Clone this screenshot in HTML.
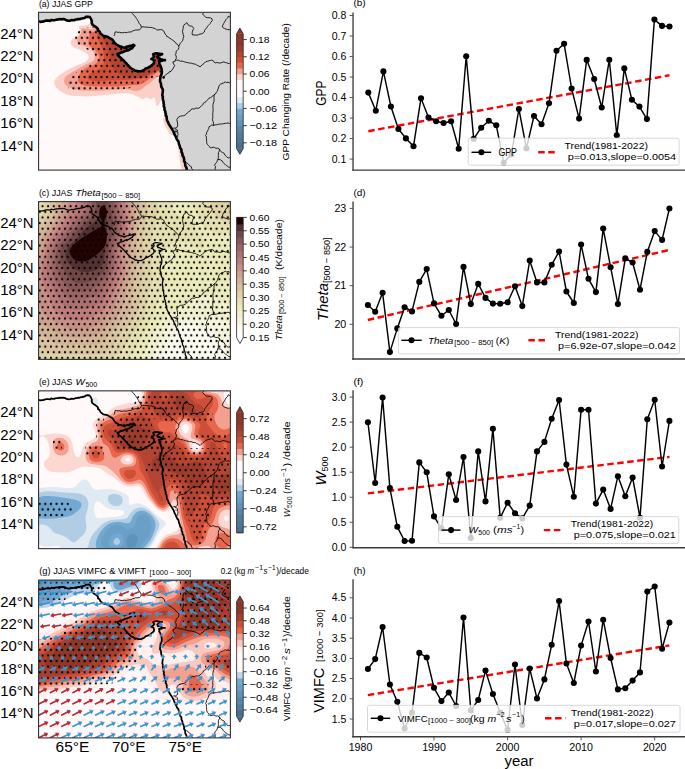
<!DOCTYPE html><html><head><meta charset="utf-8"><style>html,body{margin:0;padding:0;background:#fff;}svg{display:block;}</style></head><body><svg width="685" height="769" viewBox="0 0 685 769" font-family='"Liberation Sans", sans-serif'><defs><clipPath id="m0"><rect x="38.57" y="12.3" width="191.83" height="157.8"/></clipPath><clipPath id="m1"><rect x="38.57" y="201.6" width="191.83" height="157.8"/></clipPath><clipPath id="m2"><rect x="38.57" y="390.85" width="191.83" height="157.8"/></clipPath><clipPath id="m3"><rect x="38.57" y="580.1" width="191.83" height="157.8"/></clipPath><pattern id="dots" patternUnits="userSpaceOnUse" x="98.652" y="40.583" width="5.615" height="11.23"><circle cx="2.808" cy="2.808" r="1.12"/><circle cx="0" cy="8.422" r="1.12"/><circle cx="5.615" cy="8.422" r="1.12"/></pattern><clipPath id="sa"><path d="M82,29.5C77.7,30.8 75,33.7 74,36C73,38.3 73.7,41.2 76,43.5C78.3,45.8 85,48.1 88,50C91,51.9 92.8,53.2 94,55C95.2,56.8 96.2,59.1 95,61C93.8,62.9 90,64.7 87,66.5C84,68.3 79.9,70 77,72C74.1,74 70.9,76.3 69.5,78.5C68.1,80.7 68.1,83.1 68.5,85C68.9,86.9 66.8,89 72,89.8C77.2,90.5 90.7,89.7 100,89.5C109.3,89.3 121.2,89.6 128,88.5C134.8,87.4 137,84.8 141,83C145,81.2 148.7,79.8 152,78C155.3,76.2 161.3,77.5 161,72C160.7,66.5 160.2,52.3 150,45C139.8,37.7 111.3,30.6 100,28C88.7,25.4 86.3,28.2 82,29.5Z"/></clipPath></defs><rect width="685" height="769" fill="#fff"/><g clip-path="url(#m0)"><rect x="38.57" y="12.3" width="191.83" height="157.8" fill="#fffaf9"/><path d="M79.1,26.2C78,27.1 79.9,28.8 79.6,30.4C79.2,32 78.3,34 77,35.6C75.7,37.2 72.8,38.4 71.8,39.8C70.8,41.2 70.4,42.6 70.8,43.9C71.2,45.2 72.2,46.5 73.9,47.6C75.6,48.7 79,49.1 81.2,50.2C83.5,51.3 86.2,52.9 87.4,54.3C88.6,55.7 89,57.1 88.5,58.5C88,59.9 86.4,61.4 84.3,62.6C82.2,63.8 79.1,64.4 76,65.8C72.9,67.2 68.7,69.1 65.6,71C62.5,72.9 59.2,75.3 57.3,77.2C55.4,79.1 54.2,80.5 54.2,82.4C54.2,84.3 55.4,86.7 57.3,88.6C59.2,90.5 62.5,92.7 65.6,93.9C68.7,95.1 71.7,95.5 76,95.9C80.3,96.3 86.4,96.5 91.6,96.3C96.8,96.1 102.5,95.3 107.2,94.8C111.9,94.3 116.5,93.7 120,93.5C123.5,93.3 125.8,93.3 128,93.5C130.2,93.7 131.4,94 133,94.5C134.6,95 135.7,95.7 137.3,96.5C138.9,97.3 141.3,99 142.8,99.2C144.3,99.4 145,97.6 146.4,97.6C147.8,97.6 149.6,99.2 151,99.2C152.4,99.2 153.7,96.7 154.6,97.8C155.5,98.9 155.6,104.6 156.4,105.6C157.2,106.6 158.1,105.1 159.2,103.8C160.3,102.5 159.9,102 163,98C166.1,94 176,91.3 178,80C180,68.7 184.7,39.7 175,30C165.3,20.3 133.3,23.3 120,22C106.7,20.7 100.6,21.5 95,22C89.4,22.5 89.1,24.5 86.4,25.2C83.8,25.9 80.2,25.3 79.1,26.2Z" fill="#fbd0c8"/><path d="M164.2,116C163.5,116.7 163.2,119.9 163.6,122C164,124.1 165.3,126.4 166.5,128.5C167.7,130.6 169.1,133.6 170.5,134.5C171.9,135.4 175.4,136.8 175,134C174.6,131.2 169.8,121 168,118C166.2,115 164.9,115.3 164.2,116Z" fill="#fbd0c8"/><path d="M178.6,147C178,147.8 178.8,153.8 179.2,157C179.6,160.2 180.4,163.7 181,166C181.6,168.3 181.8,170.2 183,171C184.2,171.8 188,174.2 188,171C188,167.8 184.6,156 183,152C181.4,148 179.2,146.2 178.6,147Z" fill="#fbd0c8"/><path d="M82.2,28.3C80.3,28.8 81.9,30.9 81.2,32.5C80.5,34.1 78.8,36.2 78.1,37.7C77.4,39.2 76.5,40.6 77,41.8C77.5,43 79.1,44 81.2,45C83.3,46 87.4,46.9 89.5,48.1C91.6,49.3 92.8,50.7 93.7,52.2C94.6,53.8 94.9,55.8 94.7,57.4C94.5,59 94.1,60.4 92.6,61.6C91,62.8 88.2,63.3 85.4,64.7C82.6,66.1 79,68.2 76,69.9C73,71.6 69.7,73.4 67.7,75.1C65.7,76.8 64.2,78.6 64,80.3C63.8,82 64.6,83.9 66.6,85.5C68.6,87.1 71.8,88.8 76,89.7C80.2,90.6 86.4,90.6 91.6,90.7C96.8,90.8 102.5,90.4 107.2,90.2C111.9,90 116.5,89.7 120,89.5C123.5,89.3 125.6,89 128.2,89.2C130.8,89.5 133.4,90.9 135.5,91C137.6,91.1 139.5,90.4 141,89.6C142.5,88.8 143.1,87.5 144.6,86.4C146.1,85.3 148.3,84.2 150.1,82.8C151.9,81.4 153.8,79.7 155.5,78.3C157.2,76.9 156.2,77.6 160,74.6C163.8,71.5 179.7,67.8 178,60C176.3,52.2 161.3,34 150,28C138.7,22 119,24.2 110,24C101,23.8 98.9,26.1 96,27C93.1,27.9 94.9,29.2 92.6,29.4C90.3,29.6 84.1,27.8 82.2,28.3Z" fill="#f4a090"/><path d="M89.5,32.5C88.5,33.4 89.7,34.7 89.5,36.6C89.3,38.5 87.8,41.8 88.5,43.9C89.2,46 92.2,47.5 93.7,49.1C95.2,50.7 96.9,51.6 97.8,53.3C98.7,55 99.6,57.6 98.9,59.5C98.2,61.4 96.1,63.1 93.7,64.7C91.3,66.3 86.7,67.2 84.3,68.9C81.9,70.6 80.1,73 79.1,75.1C78.1,77.2 77.2,79.7 78.1,81.4C79,83.1 81.2,84.6 84.3,85.5C87.4,86.4 92.1,86.4 96.8,86.6C101.5,86.8 108.5,86.7 112.4,86.6C116.3,86.5 117.4,86.4 120,86.2C122.6,86 124.9,85.8 128.2,85.5C131.5,85.2 137,85.3 140,84.6C143,83.8 144.4,82.4 146.4,81C148.4,79.6 150.1,77.9 151.9,76.4C153.7,74.9 155.7,73.1 157.4,71.9C159.1,70.7 159.1,71.8 162,69C164.9,66.2 178.7,61.8 175,55C171.3,48.2 152.5,32.8 140,28C127.5,23.2 107.4,25.4 100,26C92.6,26.6 97.5,30.3 95.8,31.4C94,32.5 90.5,31.6 89.5,32.5Z" fill="#e8674c"/><path d="M96.8,35.6C96.2,38.1 99.3,41.8 100.5,45C101.7,48.2 103.8,51.4 104,55C104.2,58.6 104.4,63.6 102,66.8C99.6,70 91.8,72 89.5,74.1C87.2,76.2 87.3,78.1 88.5,79.3C89.7,80.5 93.2,81.2 96.8,81.4C100.4,81.6 104.8,80.7 110,80.5C115.2,80.3 122.9,80.4 128.2,80C133.5,79.6 138.1,79.3 141.9,78.3C145.7,77.2 148.3,75.1 151,73.7C153.7,72.3 155.1,73.1 158.3,70C161.5,66.9 173.1,61.7 170,55C166.9,48.3 151,34.2 140,30C129,25.8 111.2,29.1 104,30C96.8,30.9 97.4,33.1 96.8,35.6Z" fill="#cd4f38"/><path d="M104,38C102,39.3 107,46.3 108,50C109,53.7 109.2,57 110,60C110.8,63 111.3,65.6 113,68C114.7,70.4 116.8,72.9 120,74.5C123.2,76.1 127.8,77.2 132,77.5C136.2,77.8 141.2,77 145,76C148.8,75 152.5,72.8 155,71.5C157.5,70.2 160.8,70.8 160,68C159.2,65.2 156.7,59.3 150,55C143.3,50.7 127.7,44.8 120,42C112.3,39.2 106,36.7 104,38Z" fill="#b54533"/>
<path d="M82,29.5C77.7,30.8 75,33.7 74,36C73,38.3 73.7,41.2 76,43.5C78.3,45.8 85,48.1 88,50C91,51.9 92.8,53.2 94,55C95.2,56.8 96.2,59.1 95,61C93.8,62.9 90,64.7 87,66.5C84,68.3 79.9,70 77,72C74.1,74 70.9,76.3 69.5,78.5C68.1,80.7 68.1,83.1 68.5,85C68.9,86.9 66.8,89 72,89.8C77.2,90.5 90.7,89.7 100,89.5C109.3,89.3 121.2,89.6 128,88.5C134.8,87.4 137,84.8 141,83C145,81.2 148.7,79.8 152,78C155.3,76.2 161.3,77.5 161,72C160.7,66.5 160.2,52.3 150,45C139.8,37.7 111.3,30.6 100,28C88.7,25.4 86.3,28.2 82,29.5Z" fill="url(#dots)"/>
<path transform="translate(0,0.00)" d="M38,21.4 L42.1,21.8 L44.5,21 L46.2,20.7 L48.5,20.9 L51.3,20.2 L55.4,20 L58.5,19.2 L62.6,19 L64.5,19.6 L66.7,20.2 L68.7,21 L71.8,20.2 L74.5,19.9 L76.9,19.4 L79.5,19.3 L82,18.7 L84.5,18 L86.1,17.2 L88,16.9 L89.6,17.4 L91.2,18.7 L91.7,21.2 L92.2,24.8 L95.3,26.4 L97.3,27.9 L98.3,30.4 L99.1,31.1 L100.4,33.5 L102.2,35.2 L103.4,35.5 L106.2,36.2 L108.5,37.2 L110.3,38.3 L112.9,40.3 L115.4,43.4 L117.5,45.4 L119.5,46.5 L122,47 L124.6,47.5 L126.8,46.8 L128.7,46.5 L131.8,45.4 L133.2,44.6 L134.6,45.3 L133.5,46.6 L131.8,48 L129.6,49.6 L127.7,50.5 L123.6,51.6 L119.5,53.1 L117.6,54.4 L118.6,56 L120.5,57.7 L122.6,59.8 L124.6,61.8 L128.7,65.9 L131.2,68.2 L133.8,70 L136.4,71 L138.9,71.5 L141.5,71 L144,70 L145,69.2 L148.5,67.2 L152.8,64.8 L154.1,62.2 L153.6,60.1 L151.2,59 L152.8,58 L154.1,56.4 L153.3,54.4 L155.4,53.3 L158.5,53.5 L162.2,54.1 L158.5,55.4 L157.6,57 L158,58.2 L164.8,60.1 L159,61.1 L159.6,64.8 L161.6,67.9 L162.2,72 L160.6,76.2 L160.1,81.4 L161.1,85 L162.4,89 L162.8,92 L162.4,95.4 L163.2,101 L164.2,107.4 L165.3,112.5 L166.5,117.8 L167.6,121.5 L169.5,125.2 L171.3,128.2 L173.2,131.2 L175.3,135.5 L177.6,140.1 L179.6,145.5 L181.4,150.5 L182.8,155.5 L184.3,161 L185.6,165.5 L187,171 L232,172 L232,10 L36,10Z" fill="#d3d3d3"/>
<g transform="translate(0,0.00)"><path d="M114,36 L114.6,34.7 L114.8,33.3 L115.1,31.9 L116.6,32 L118,32.4 L119.5,32.2 L121,32.7 L122.7,32.8 L124.5,32.4 L126.1,32.7 L127.6,32.3 L129.3,32 L131.1,32 L132.5,30.9 L134.1,30.6 L135.3,30 L136.8,30 L139.5,29.9 L140.7,28.6 L141.4,27.1M141.4,27.1 L140.6,24.9 L139,23.3 L138.6,21.9 L137.8,20.6 L137.2,19.4 L136.3,18.3 L135.5,17.1 L134.1,15.4 L132.4,13.6 L130.9,12M141.4,27.1 L142.9,26.7 L144.5,27.1 L146,27 L147.8,27.3 L149.5,27.4 L151.1,27.4 L152.6,27.8 L154,28.2 L155.3,28.8 L156.5,29.8 L159,29.9 L160.4,29.5 L161.8,29.7 L163.3,30.5 L164.2,31.9 L165.2,34.2 L166.3,35.1 L166.8,36.5 L168.5,37 L169.6,38.3 L171.2,38.9 L172.3,40.1 L173.8,41 L175.1,42.1 L176.1,43.6 L177.7,44.6 L178.8,46.1M178.8,46.1 L179.6,45 L180,43.7 L180.8,42.7 L181.8,41.7 L182.8,40.2 L183.2,38.4 L183.8,36.3 L183.2,34.8 L182.9,33 L182.5,31.4 L182.8,29.7 L183.2,28.4 L183.2,26.9 L184.2,24.6 L185.4,23.9 L186.9,22.7 L188,24.8 L189.7,25.9 L191.8,26.2 L193,27.2 L193.8,28.4 L193.1,29.7 L192.5,31.1 L192.3,32.4 L192.1,33.8 L192.6,35 L194,34.9 L195.5,35.1 L197.1,35.1 L198.6,34.7 L200,34 L201.6,33.8 L203.1,33.1 L204.3,32 L204.6,30.4 L205.6,29.1 L206.5,28 L207.3,26.8 L208.3,25.5 L209.4,24.4 L210.3,23.4 L210.9,22.3 L212.3,20.5 L211.9,18.7 L210.5,17.9 L209,17.7 L207.4,17.7 L205.8,17.4 L204,15.5 L202.7,14.2 L203.7,12M178.8,46.1 L178.8,47.8 L178.4,49.2 L177.4,50.3 L176,51.4 L176.2,53.1 L175.2,54.7 L176.2,55.9 L176.2,57.3 L176.3,58.6 L175.4,59.7 L175.2,61.2 L172.9,61.9 L173.5,64 L175,65.6 L173.8,66.7 L173.4,68.2 L171.8,70.2 L171,71.4 L169.4,71.7 L168.7,73 L167.1,73.7 L165.8,74.8 L164.5,75.7 L163.5,77M175.4,59.5 L176.8,60.3 L178.6,60.2 L180.2,61.2 L182.1,61.1 L183.8,61.6 L185.4,62.2 L186.9,62.5 L188.3,62.8 L189.7,63.1 L191.3,63.1 L193,63.8 L194.3,64 L195.8,64.2 L196.8,65.2 L198.6,65.8 L200,67 L200.9,65.9 L202.1,65.1 L203,64.1 L204.5,63 L205.8,61.7 L207.4,61.3 L208.9,60.8 L210.4,60.5 L211.9,60.1 L213.3,60.8 L214.1,62.2 L215.3,62.9 L216.8,62.5 L218.1,62.7 L219.3,63.1 L221,62.9 L222.5,62.2 L224,61.9 L225.3,62.7 L226.8,62.6 L228,63.5 L229.5,63.6 L231,63.4M231,17 L229.6,16.9 L228.2,16.2 L227.7,17.8 L226.8,18.7 L225.8,19.7 L225.3,20.9 L224.5,22.2 L223.6,23.6 L222.8,25.2 L222.4,26.9 L223.3,27.9 L224.5,28.5 L226,29.1 L227.5,29.6 L229.3,29.7 L231,29M173.2,128.2 L175.6,128 L177.6,126.7 L177.6,124.8 L177.6,123 L177.1,121.1 L176.9,119.3 L178.3,117.2 L180.5,116.1 L182,115.9 L183.6,115.7 L185.2,115 L186.5,114 L187.3,112.8 L188.4,111.9 L189.7,111.3 L190.8,109.7 L192.5,108.8 L194.3,109 L195.9,108.1 L197.4,108.2 L198.8,108.2 L199.9,107.2 L201.3,106 L202.8,104.8 L203.4,103.2 L204.8,102.4 L206.1,101.6 L207,100.5 L207.9,99.4 L208.8,98.3 L210.4,97.7 L211.8,96.8 L212.9,95.9 L213.8,94.9 L215.1,94.2 L215.9,93.2 L216.5,91.9 L217.6,91 L217.8,89.4 L218.5,88 L218.8,86.5 L219.4,85.1 L220.6,84.1 L222,83.5 L223.7,82.9 L225.3,81.9 L226.6,82.6 L228,82.2 L229.5,82.8 L231,82.7M214.9,94 L214.2,95.4 L214,96.9 L214,98.5 L214,100 L214,101.5 L213.4,103 L213.1,104.4 L212.8,105.9 L213,107.6 L213,109.3 L213.2,111 L212.8,112.3 L212.8,113.7 L212.7,115.1 L212.8,116.4 L212.8,117.8 L212.4,119.7 L213.1,121.5 L213.5,123.3 L213.7,125.4 L211.9,124.9 L210.6,125.8 L209,126.8 L208.8,128.3 L208.2,129.6 L207.6,131 L206.6,132.4 L206.6,134.1 L205.5,135.6 L206.5,137 L206.4,138.5 L206.6,140 L206.6,141.6 L206.7,143.1 L207.5,144.5 L208.4,145.6 L209.5,146.5 L210.3,147.9 L211.8,147.7 L213.1,147.1 L214.5,147.6 L216,148.3 L217.8,148.1 L219.3,149 L220.2,150.4 L221.2,151.8 L222.6,152.6 L224.1,153.2 L224.9,155 L226.2,156.3 L227.1,157.3 L228.4,157.8 L229.7,157.7 L231,158M213.4,125.2 L215,125 L216.5,124.8 L217.9,124.3 L219.3,124.2 L220.9,124 L222.5,123.9 L223.9,123.6 L225.2,123.3 L226.6,123.3 L228,122.9 L229.5,123.6 L231,123.4M219.3,149 L219.5,150.7 L218.6,152.3 L218.3,154 L218.4,155.4 L218.4,156.8 L218.3,158.2 L217.7,159.4 L217.2,161.2 L216.3,162.7 L215.3,163.9 L214.5,165.3 L215.5,166.7 L215.2,168.2 L215.1,169.6 L215.6,171M217.9,159.5 L220.1,159.6 L222.3,161 L223.2,162.6 L224.6,164 L225.5,165 L226.7,165.6 L227.8,166.5 L229,167.4 L231,166.5M186.6,162.4 L187.4,163.6 L188.7,164.4 L189.7,165.8 L191.3,166.7 L191.7,168.6 L192.7,169.9 L194,171M174.7,129 L176.2,129.1 L177.4,129.9 L177.5,131.4 L177.8,133 L178,134.4 L177.7,135.7 L177.6,137.1" fill="none" stroke="#000" stroke-width="0.85" stroke-linejoin="round"/><path d="M38,21.4 L39.4,21.5 L40.7,21.9 L42.1,21.5 L43.4,21.6 L44.5,21 L46.2,20.6 L48.5,20.6 L50,20.9 L51.2,19.9 L52.7,20.3 L54,20.2 L55.4,19.9 L56.9,19.6 L58.5,19.5 L59.9,19.1 L61.2,19.4 L62.6,19 L64.6,19.3 L66.6,20.4 L68.7,20.8 L70.3,20.6 L71.8,20.1 L73.2,20.3 L74.5,20.1 L75.7,19.5 L76.9,19.5 L78.2,19.1 L79.5,19.2 L80.7,18.7 L81.9,18.5 L83.2,18.2 L84.5,18 L86,16.9 L88,16.7 L89.8,17.1 L91,18.9 L91.4,20 L91.9,21.2 L91.6,22.4 L92,23.6 L92.4,24.6 L93.7,25.6 L95.2,26.5 L96.2,27.3 L97.1,28 L98,29.1 L98,30.6 L99.1,31.1 L99.9,32.2 L100.4,33.5 L101.4,34.3 L102.3,35 L103.3,35.8 L104.7,36.1 L106.1,36.4 L107.4,36.7 L108.4,37.3 L110.2,38.5 L111.8,39.1 L112.9,40.3 L113.7,41.4 L114.3,42.6 L115.3,43.5 L116.4,44.5 L117.6,45.2 L119.6,46.4 L120.8,46.5 L122,46.9 L123.3,47.4 L124.6,47.8 L126.7,46.5 L128.7,46.4 L130.1,45.7 L131.9,45.6 L133.2,44.7 L134.4,45.3 L133.3,46.4 L132,48.2 L130.7,48.8 L129.6,49.6 L127.7,50.5 L126.3,50.7 L124.9,51 L123.7,51.8 L122.3,52.4 L120.8,52.5 L119.6,53.3 L117.4,54.3 L118.6,56 L119.5,56.9 L120.6,57.6 L121.7,58.6 L122.7,59.7 L123.8,60.6 L124.7,61.7 L125.6,62.8 L126.7,63.8 L127.6,65 L128.6,66 L129.8,67.2 L131.1,68.4 L132.5,69.1 L133.9,69.8 L135,70.8 L136.5,70.7 L137.7,71.2 L138.9,71.3 L140.2,71.3 L141.6,71.2 L142.7,70.5 L144,70 L144.9,69.1 L146,68.3 L147.4,68 L148.6,67.4 L149.6,66.7 L150.8,66.2 L151.6,65.2 L152.6,64.7 L153.7,63.6 L154.2,62.2 L153.6,60.1 L152.5,59.4 L151.4,59 L152.8,58 L154.2,56.4 L153.1,54.3 L155.4,53.4 L157,53.3 L158.5,53.6 L159.7,53.8 L161,54 L162.1,54.1 L161.1,54.8 L159.8,55.2 L158.6,55.5 L157.3,56.9 L157.9,58.3 L159.4,58.4 L160.7,59.1 L162,59.6 L163.4,60 L165,60.1 L163.3,60 L161.9,60.8 L160.5,61.1 L158.9,61 L159.5,62.3 L159.2,63.6 L159.8,64.7 L160.5,65.7 L160.7,67 L161.3,68 L161.6,69.3 L161.8,70.7 L161.9,72 L161.7,73.4 L161.3,74.8 L160.5,76.2 L160.4,77.5 L160.2,78.8 L160.1,80.1 L160,81.4 L160.6,82.5 L161,83.7 L161.1,85 L161.2,86.4 L161.8,87.7 L162.6,88.9 L162.9,90.5 L162.7,92 L162.5,93.7 L162.3,95.4 L162.8,96.8 L162.8,98.2 L162.9,99.6 L163.4,101 L163.6,102.2 L163.6,103.6 L164,104.8 L163.7,106.2 L164.4,107.4 L164.5,108.7 L164.5,110 L165.3,111.2 L165.2,112.5 L165.9,113.7 L165.6,115.2 L166.5,116.4 L166.7,117.7 L166.8,119.1 L167,120.3 L167.6,121.5 L168.3,122.7 L168.7,124.1 L169.5,125.2 L170.4,126.7 L171.4,128.1 L172.3,129.6 L173.3,131.1 L173.9,132.7 L174.4,134.2 L175.2,135.6 L175.8,136.7 L176.2,137.9 L176.8,139.1 L177.3,140.2 L178.4,141.3 L178.7,142.8 L179,144.2 L179.6,145.5 L179.9,146.8 L180.2,148.1 L181.2,149.2 L181.5,150.5 L181.4,151.8 L182.1,153 L182.5,154.2 L182.5,155.6 L183.5,156.8 L183.8,158.2 L184.2,159.6 L184,161.1 L185,162.4 L185.2,164 L185.3,165.6 L186,166.9 L186.6,168.2 L186.7,169.6 L187,171" fill="none" stroke="#000" stroke-width="2.6" stroke-linejoin="round"/><circle cx="163.6" cy="77.4" r="1.3"/><circle cx="176.0" cy="131.5" r="0.9"/></g>
</g>
<g clip-path="url(#m1)"><rect x="38.57" y="201.6" width="191.83" height="157.8" fill="#fdfdfa"/><path d="M39.3,201.0L231.0,201.0L231.0,360.0L38.0,360.0L38.0,201.0L39.3,201.0L39.3,201.0L0.0,0.0" fill="#ffffff" fill-rule="evenodd"/><path d="M39.3,201.0L231.0,201.0L231.0,360.0L198.0,360.0L196.0,359.7L192.1,359.4L189.6,359.3L187.0,359.4L183.1,359.9L181.8,360.0L38.0,360.0L38.0,201.0L39.3,201.0L39.3,201.0L0.0,0.0" fill="#fafaf0" fill-rule="evenodd"/><path d="M39.3,201.0L231.0,201.0L231.0,355.7L229.7,354.9L228.4,353.8L227.1,352.4L225.5,350.1L224.1,347.7L220.6,341.4L219.1,339.0L217.1,336.6L214.7,334.1L212.9,332.7L210.3,331.0L209.0,330.2L206.4,329.0L203.5,328.0L199.9,327.0L197.3,326.5L193.4,325.9L190.8,325.8L188.3,325.8L185.7,326.1L183.1,326.6L181.8,327.0L179.7,328.0L177.9,329.1L176.6,330.1L175.3,331.4L174.0,333.0L172.5,335.3L171.3,337.8L169.2,342.7L167.5,346.7L166.2,349.3L164.9,351.5L162.7,355.1L159.8,359.4L159.4,360.0L38.0,360.0L38.0,201.0L39.3,201.0L39.3,201.0L0.0,0.0" fill="#f5f5df" fill-rule="evenodd"/><path d="M39.3,201.0L231.0,201.0L231.0,323.5L219.3,319.6L215.5,318.6L211.6,318.0L207.7,317.6L202.5,317.3L196.0,317.2L190.8,317.4L187.0,317.7L183.1,318.4L180.5,319.0L177.9,319.9L175.3,321.1L172.7,322.6L170.5,324.3L168.8,325.8L166.8,328.0L165.0,330.4L163.5,332.9L161.6,336.6L152.0,356.5L150.0,360.0L38.0,360.0L38.0,201.0L39.3,201.0L39.3,201.0L0.0,0.0" fill="#f0f0ce" fill-rule="evenodd"/><path d="M39.3,201.0L231.0,201.0L231.0,308.3L230.9,308.2L228.4,305.4L225.8,303.0L223.2,301.2L220.4,299.6L217.8,298.4L215.5,297.5L212.9,296.7L210.3,296.1L207.7,295.7L205.1,295.6L202.5,295.8L199.9,296.4L197.3,297.3L194.7,298.7L187.0,303.6L182.8,305.8L179.2,307.5L175.3,309.6L172.7,311.2L168.3,314.4L166.2,316.1L163.6,318.5L161.1,321.4L158.9,324.3L157.2,326.8L155.1,330.4L152.6,335.3L148.6,344.0L146.3,348.9L145.0,351.4L143.4,353.8L142.5,355.1L141.5,356.3L140.3,357.5L138.7,358.8L136.9,360.0L38.0,360.0L38.0,201.0L39.3,201.0L39.3,201.0L0.0,0.0" fill="#eaeaba" fill-rule="evenodd"/><path d="M39.3,201.0L181.3,201.0L180.5,201.0L179.2,201.1L177.9,201.4L176.6,201.8L175.3,202.6L174.3,203.5L173.6,204.7L173.2,205.9L173.1,207.2L173.2,208.4L173.4,209.6L174.0,211.3L174.5,212.1L175.4,213.3L176.8,214.6L179.0,215.8L180.5,216.4L187.0,218.9L189.6,220.3L190.8,221.2L192.1,222.4L193.4,223.9L193.8,224.4L195.2,226.9L197.3,231.8L198.9,234.3L201.1,236.7L202.5,238.4L203.0,239.2L203.8,240.9L204.0,241.7L204.2,242.9L204.2,244.1L203.8,245.6L203.3,246.6L202.3,247.8L201.2,248.5L199.9,249.0L198.6,249.1L197.3,248.8L195.3,247.8L193.4,246.6L190.8,244.8L189.6,244.1L188.3,243.5L185.7,242.8L183.1,242.4L180.5,242.2L177.9,242.3L175.3,242.7L174.0,243.0L172.7,243.4L171.1,244.1L170.1,244.7L168.8,245.8L167.5,247.1L166.0,249.1L164.4,251.5L163.1,254.0L162.1,256.5L161.4,258.9L161.0,261.4L160.9,263.9L161.1,266.3L161.6,268.8L162.5,271.3L165.5,278.7L165.9,279.9L166.0,281.1L166.0,282.3L165.8,283.6L165.5,284.8L164.4,287.3L162.3,291.0L160.2,294.7L159.0,297.1L158.2,299.6L156.8,304.5L155.8,308.2L155.0,310.7L153.6,314.4L150.6,320.6L141.2,339.0L138.3,345.2L136.9,347.7L135.1,350.3L133.2,352.6L131.3,354.5L129.0,356.3L125.5,358.8L123.5,360.0L38.0,360.0L38.0,201.0L39.3,201.0M183.1,201.0L231.0,201.0L231.0,233.0L228.4,233.6L225.8,233.9L223.2,234.0L219.3,233.8L216.8,233.5L214.2,233.0L211.6,232.2L210.3,231.7L208.5,230.6L206.9,229.3L205.1,227.6L203.4,225.7L200.7,222.0L198.6,218.3L197.4,215.8L194.2,208.4L193.4,207.0L192.1,205.3L190.8,204.0L189.6,203.1L188.0,202.2L185.7,201.5L183.1,201.1L181.9,201.0L183.1,201.0L0.0,0.0" fill="#e5e0af" fill-rule="evenodd"/><path d="M41.9,201.0L156.8,201.0L157.2,203.5L157.4,205.9L157.4,208.4L157.1,212.1L156.6,215.8L155.8,219.5L154.6,223.9L152.8,230.6L152.3,233.0L152.0,236.1L151.9,239.2L152.0,245.7L152.0,250.3L151.7,263.9L151.8,267.6L152.5,278.7L152.3,281.1L151.9,283.6L150.8,287.3L149.3,292.2L148.4,295.9L147.7,299.6L146.1,308.2L145.2,311.9L144.2,314.8L142.9,317.8L141.5,320.6L139.3,324.3L136.9,328.0L132.6,334.6L129.1,340.3L126.8,344.0L124.8,346.9L123.2,348.9L120.9,351.4L118.3,353.8L115.7,355.8L114.4,356.7L111.8,358.1L109.2,359.2L107.0,360.0L47.1,360.0L41.9,358.9L40.6,358.5L38.3,357.5L38.0,357.3L38.0,218.7L39.9,217.0L41.1,215.8L42.0,214.6L43.2,212.6L43.4,212.1L43.9,210.9L44.2,209.6L44.4,208.4L44.4,207.2L44.3,205.9L43.9,204.7L43.2,203.1L42.6,202.2L41.7,201.0L41.9,201.0M210.3,201.0L231.0,201.0L231.0,222.6L228.4,222.5L225.8,222.1L224.5,221.8L222.1,220.7L220.6,219.9L219.3,218.9L218.0,217.8L216.2,215.8L214.4,213.3L213.0,210.9L211.9,208.4L211.1,205.9L210.5,203.5L210.2,201.0L210.3,201.0L210.3,201.0L0.0,0.0" fill="#dfd2a7" fill-rule="evenodd"/><path d="M48.4,201.0L146.1,201.0L147.0,203.5L147.4,205.9L147.6,208.4L147.5,210.9L147.3,213.3L146.6,217.0L145.4,222.0L143.8,229.3L143.2,233.0L142.9,236.7L142.8,240.4L143.0,245.4L143.5,255.2L143.6,261.4L143.4,266.3L143.0,271.3L142.1,277.4L141.2,283.6L140.6,289.7L139.5,303.3L138.8,307.0L138.3,309.5L137.5,311.9L136.4,314.6L135.1,317.0L133.6,319.3L131.3,322.3L128.7,325.0L123.3,330.4L120.9,333.3L119.4,335.3L117.0,339.1L113.9,344.0L111.8,346.7L110.5,348.1L109.2,349.3L107.9,350.3L106.3,351.4L104.1,352.5L102.8,352.9L100.2,353.7L97.6,354.1L95.0,354.3L91.1,354.5L65.2,354.3L60.0,354.1L56.1,353.7L52.2,353.1L49.7,352.4L46.8,351.4L44.4,350.1L41.9,348.4L39.3,346.2L38.0,345.0L38.0,226.2L40.6,223.8L43.7,220.7L45.8,218.3L47.5,215.8L48.8,213.3L49.7,210.7L50.1,208.4L50.2,207.2L50.2,205.9L50.0,204.7L49.7,203.5L49.1,202.2L48.3,201.0L48.4,201.0M229.7,201.7L231.0,201.0L231.0,212.3L230.7,212.1L229.1,210.9L228.0,209.6L227.4,208.4L227.0,207.2L226.9,205.9L227.1,204.7L227.7,203.5L228.9,202.2L229.7,201.7L229.7,201.7L0.0,0.0" fill="#d9c3a0" fill-rule="evenodd"/><path d="M56.1,201.0L138.5,201.0L139.4,203.5L140.0,205.9L140.3,208.8L140.4,210.9L140.2,214.6L139.7,218.3L137.2,235.5L136.7,241.7L136.4,247.3L136.4,251.9L136.6,262.6L136.3,266.3L135.8,270.0L134.6,277.4L133.8,282.3L133.2,288.5L131.7,304.5L131.2,307.0L130.5,309.5L129.5,311.9L128.1,314.4L126.3,316.9L124.8,318.6L122.2,321.1L115.7,327.2L113.9,329.2L111.8,331.8L106.3,339.0L105.2,340.3L103.8,341.5L102.0,342.7L101.5,343.1L99.3,344.0L97.6,344.5L95.0,344.9L92.4,345.0L87.2,345.0L79.4,345.0L69.1,345.0L63.9,344.7L60.0,344.2L57.4,343.7L54.8,342.9L52.2,341.9L49.7,340.5L47.1,338.8L41.9,335.4L40.6,334.7L38.0,333.5L38.0,235.3L39.1,233.0L40.6,230.9L41.9,229.3L45.3,225.7L47.6,223.2L49.7,220.6L51.3,218.3L52.7,215.8L53.8,213.3L54.6,210.9L55.2,208.4L55.6,205.9L55.7,203.5L55.7,202.2L55.5,201.0L56.1,201.0L56.1,201.0L0.0,0.0" fill="#d3b497" fill-rule="evenodd"/><path d="M62.6,201.6L62.8,201.0L133.0,201.0L134.0,204.7L134.5,207.2L134.8,209.6L135.0,213.3L134.9,217.0L134.5,222.0L133.7,229.3L132.9,235.5L131.6,242.9L130.8,247.8L130.5,250.3L130.4,254.0L130.7,260.2L130.8,263.9L130.6,267.6L130.2,271.3L129.2,277.4L127.4,286.4L126.0,292.2L124.3,299.6L123.0,305.8L122.2,308.4L121.2,310.7L120.5,311.9L118.8,314.4L116.6,316.9L112.8,320.6L107.7,325.5L102.8,330.5L100.2,332.7L97.9,334.1L96.3,334.9L93.7,335.8L91.1,336.4L88.5,336.8L83.3,337.3L78.2,337.5L74.3,337.5L70.4,337.2L66.9,336.6L65.2,336.2L62.5,335.3L59.5,334.1L57.1,332.9L53.5,330.8L48.4,327.6L43.2,324.8L38.0,322.0L38.1,251.5L39.4,246.6L40.6,241.7L41.4,239.2L42.4,236.7L43.8,234.3L45.6,231.8L47.7,229.3L52.0,224.4L53.9,222.0L55.5,219.5L56.9,217.0L58.0,214.6L59.5,210.9L61.5,204.7L62.6,201.6L62.6,201.6L0.0,0.0" fill="#cda28f" fill-rule="evenodd"/><path d="M70.4,201.0L128.6,201.0L130.1,208.4L130.5,212.1L130.8,215.8L130.8,219.5L130.6,224.4L130.2,229.3L129.7,233.0L129.0,236.7L128.0,240.4L125.9,247.8L125.5,250.3L125.3,252.8L125.4,255.2L125.7,260.2L125.9,263.9L125.9,267.6L125.6,271.3L125.0,275.0L124.2,278.7L123.3,282.3L122.1,286.0L120.3,291.0L118.0,297.1L115.0,305.8L113.9,308.2L112.4,310.7L111.5,311.9L109.2,314.4L106.6,316.9L102.3,320.6L98.9,323.2L96.3,324.9L93.7,326.4L91.1,327.5L88.5,328.4L85.0,329.2L83.3,329.5L80.7,329.7L78.2,329.9L75.6,329.8L73.0,329.6L70.4,329.1L67.8,328.4L65.2,327.4L62.6,326.2L58.7,324.2L52.4,320.6L49.7,318.9L46.9,316.9L45.5,315.6L44.3,314.4L43.2,313.0L42.5,311.9L41.4,309.5L40.6,306.6L39.6,302.1L39.0,299.6L38.0,297.0L38.0,265.0L39.8,258.9L42.3,250.3L44.0,244.1L44.8,241.7L45.9,239.2L47.2,236.7L48.9,234.3L51.0,231.8L56.2,225.7L58.0,223.2L60.0,220.0L61.6,217.0L64.6,210.9L66.5,207.1L70.0,201.0L70.4,201.0L70.4,201.0L0.0,0.0" fill="#c78f86" fill-rule="evenodd"/><path d="M76.9,201.0L124.7,201.0L125.5,205.9L126.6,212.1L127.0,215.8L127.3,219.5L127.4,223.2L127.2,226.9L126.9,230.6L126.5,233.0L125.9,235.5L124.8,239.2L121.8,247.8L121.3,250.3L121.1,252.8L121.1,255.2L121.4,258.9L121.7,263.9L121.8,266.3L121.6,268.8L121.2,272.5L120.4,276.2L119.3,279.9L118.0,283.6L115.8,288.5L108.8,303.3L107.2,305.8L106.2,307.0L105.1,308.2L102.8,310.5L100.2,312.4L97.1,314.4L93.7,316.3L91.1,317.6L88.5,318.6L85.9,319.5L83.3,320.0L80.7,320.4L78.2,320.5L75.6,320.4L73.0,320.0L70.0,319.3L67.8,318.6L65.2,317.6L62.6,316.4L60.0,315.0L58.7,314.2L57.3,313.2L55.8,311.9L54.7,310.7L53.5,309.2L52.4,307.0L51.8,305.8L51.0,303.1L49.2,297.1L48.2,294.7L45.8,289.7L44.1,286.0L43.1,283.6L42.3,281.1L41.9,278.7L41.6,276.2L41.5,273.7L41.7,270.0L42.1,266.3L42.8,262.6L44.2,256.5L46.2,249.1L47.3,245.4L48.4,242.8L49.7,240.2L51.0,238.0L52.9,235.5L55.0,233.0L59.3,228.1L61.3,225.5L63.7,222.0L69.8,212.1L71.7,209.6L74.7,205.9L75.6,204.5L76.0,203.5L76.4,202.2L76.6,201.0L76.9,201.0L76.9,201.0L0.0,0.0" fill="#be7c7c" fill-rule="evenodd"/><path d="M83.3,201.0L120.9,201.0L121.5,204.7L123.8,218.3L124.1,222.0L124.2,225.7L123.9,229.3L123.5,232.2L123.0,234.3L122.2,236.9L120.9,240.4L119.0,245.4L118.2,247.8L117.8,250.3L117.6,252.8L117.6,256.5L118.0,265.1L117.9,267.6L117.6,270.0L117.0,272.8L116.4,275.0L115.6,277.4L114.4,280.2L112.7,283.6L107.4,293.4L105.2,297.1L103.4,299.6L102.3,300.8L101.0,302.1L99.4,303.3L97.6,304.4L94.9,305.8L91.7,307.0L88.5,308.0L84.6,309.0L82.0,309.5L79.4,309.8L76.9,309.8L74.3,309.7L71.7,309.3L69.1,308.6L67.8,308.1L65.7,307.0L65.2,306.7L63.9,305.8L62.5,304.5L61.3,303.3L59.5,300.8L58.0,298.4L53.5,290.3L50.6,284.8L48.9,281.1L48.0,278.7L47.4,276.2L46.9,273.7L46.7,271.3L46.6,268.8L46.7,265.1L47.1,261.4L47.9,256.5L48.7,252.8L49.7,249.1L50.5,246.6L51.6,244.1L52.9,241.7L54.6,239.2L56.6,236.7L64.2,228.1L67.0,224.4L70.5,219.5L73.0,216.5L75.6,213.9L78.9,210.9L80.1,209.6L81.0,208.4L82.0,206.4L82.2,205.9L82.5,204.7L82.5,203.5L82.4,202.2L82.2,201.0L83.3,201.0L83.3,201.0L0.0,0.0" fill="#ae7171" fill-rule="evenodd"/><path d="M87.2,201.0L117.3,201.0L117.8,204.7L118.7,209.6L120.2,217.0L120.7,220.7L120.9,224.4L120.9,227.1L120.7,229.3L120.3,231.8L119.6,234.7L118.4,238.0L116.0,244.1L115.3,246.6L114.9,249.1L114.6,251.5L114.5,255.2L114.5,265.1L114.2,267.6L113.7,270.0L113.0,272.5L111.8,275.3L110.5,277.9L108.5,281.1L105.2,286.0L102.6,289.7L100.5,292.2L99.2,293.4L98.9,293.8L97.6,294.8L95.6,295.9L93.7,296.8L91.1,297.6L87.2,298.5L80.7,299.7L78.2,300.0L75.6,300.1L73.0,299.8L71.7,299.5L70.4,299.1L68.9,298.4L67.1,297.1L65.6,295.9L64.4,294.7L63.3,293.4L61.3,290.9L58.7,287.0L56.1,282.6L54.8,279.9L53.5,277.0L52.8,275.0L52.2,272.5L51.7,270.0L51.3,267.6L51.1,263.9L51.2,260.2L51.6,256.5L52.2,252.7L52.9,250.3L53.7,247.8L54.8,245.3L56.2,242.9L58.0,240.4L60.2,238.0L67.1,230.6L70.4,226.5L73.0,223.2L75.6,220.5L78.2,218.1L82.4,214.6L83.6,213.3L84.7,212.1L85.9,210.3L86.3,209.6L86.8,208.4L87.2,206.8L87.4,205.9L87.5,204.7L87.4,203.5L87.2,202.2L86.9,201.0L87.2,201.0L87.2,201.0L0.0,0.0" fill="#9c6565" fill-rule="evenodd"/><path d="M92.4,201.0L113.4,201.0L114.3,205.9L117.1,220.7L117.4,224.4L117.4,226.9L117.2,229.3L116.8,231.8L116.1,234.3L114.8,238.0L113.1,242.9L112.5,245.4L112.0,247.8L111.7,250.3L111.5,254.0L111.3,262.6L111.0,265.1L110.5,267.6L109.6,270.0L108.5,272.5L107.0,275.0L106.2,276.2L104.1,278.8L100.7,282.3L98.9,284.1L96.3,286.3L93.7,288.0L91.1,289.2L88.5,290.0L85.9,290.7L82.0,291.4L79.4,291.6L76.9,291.6L74.3,291.2L73.0,290.8L71.7,290.3L70.4,289.6L68.9,288.5L67.5,287.3L66.3,286.0L64.2,283.6L62.5,281.1L61.0,278.7L59.7,276.2L58.6,273.7L57.4,270.7L56.5,267.6L56.0,265.1L55.7,262.6L55.5,260.2L55.5,257.7L55.6,255.2L56.1,252.1L56.6,250.3L57.5,247.8L58.8,245.4L60.5,242.9L62.7,240.4L66.5,236.6L70.0,233.0L73.1,229.3L76.3,225.7L78.2,223.7L80.7,221.4L86.0,217.0L87.2,215.7L88.5,214.0L89.6,212.1L90.2,210.9L91.0,208.4L91.5,205.9L91.6,203.5L91.4,202.2L91.2,201.0L92.4,201.0L92.4,201.0L0.0,0.0" fill="#885757" fill-rule="evenodd"/><path d="M96.3,201.0L108.7,201.0L109.7,204.7L111.6,213.3L112.3,217.0L112.9,220.7L113.2,224.4L113.2,226.9L113.0,229.3L112.6,231.8L111.8,234.8L109.9,241.7L109.2,245.4L108.7,249.1L108.4,254.0L108.0,260.2L107.7,262.6L107.1,265.1L106.7,266.5L105.6,268.8L104.8,270.0L104.0,271.3L102.8,272.7L100.4,275.0L98.9,276.2L96.3,278.0L93.2,279.9L90.7,281.1L88.5,282.0L85.9,282.8L83.3,283.2L80.7,283.4L78.2,283.1L76.9,282.8L75.5,282.3L74.3,281.8L73.0,281.1L71.4,279.9L70.0,278.7L68.9,277.4L66.9,275.0L65.3,272.5L64.5,271.3L63.2,268.8L62.1,266.3L61.2,263.9L60.5,261.4L60.1,258.9L59.9,256.5L60.0,253.9L60.4,251.5L61.3,249.1L61.8,247.8L62.6,246.5L64.4,244.1L66.7,241.7L73.0,235.5L76.2,231.8L78.3,229.3L80.7,226.8L83.5,224.4L88.5,220.3L90.5,218.3L91.5,217.0L93.1,214.6L94.2,212.1L95.0,209.6L95.6,207.2L96.0,204.7L96.1,202.2L96.0,201.0L96.3,201.0L96.3,201.0L0.0,0.0" fill="#714747" fill-rule="evenodd"/><path d="M101.5,212.0L102.8,211.2L104.1,212.1L105.4,214.6L106.4,218.3L106.8,220.7L107.2,224.4L107.3,226.9L107.1,230.6L106.7,234.5L105.7,241.7L105.1,247.8L104.3,257.7L103.9,260.2L103.1,262.6L102.6,263.9L101.5,265.8L100.2,267.2L98.9,268.3L97.6,269.2L95.9,270.0L93.7,270.9L91.1,271.6L88.5,272.0L85.9,272.1L83.3,272.0L80.7,271.6L79.4,271.3L76.9,270.2L74.3,268.7L71.7,266.7L70.1,265.1L69.0,263.9L67.3,261.4L66.5,259.7L65.8,257.7L65.5,256.5L65.4,255.2L65.4,254.0L65.5,252.8L65.7,251.5L66.5,249.5L66.7,249.1L67.8,247.4L69.1,245.9L70.9,244.1L75.6,239.8L77.2,238.0L82.1,231.8L84.6,229.3L87.2,227.3L92.8,223.2L95.0,221.2L96.3,219.7L96.5,219.5L98.3,217.0L100.6,213.3L101.5,212.0L101.5,212.0L0.0,0.0" fill="#523232" fill-rule="evenodd"/><path d="M91.1,234.1L92.4,233.6L93.7,233.4L95.0,233.5L96.3,234.3L97.2,235.5L97.7,236.7L98.3,239.2L98.5,241.7L98.5,244.1L98.3,246.6L97.9,249.1L97.6,250.5L97.1,251.5L96.3,252.8L95.0,253.0L93.7,252.0L89.1,245.4L88.4,244.1L87.8,242.9L87.5,241.7L87.4,240.4L87.5,239.2L87.8,238.0L88.5,236.6L89.8,235.1L91.1,234.1L91.1,234.1L0.0,0.0" fill="#1e0000" fill-rule="evenodd"/><path d="M101.5,227C103,226.9 104.4,227.4 105.2,228.5C106,229.6 106.4,231.3 106.6,233.6C106.8,235.9 107,239.6 106.3,242.3C105.6,245 104.3,247.2 102.2,249.6C100.1,252 96.4,254.9 93.5,256.9C90.6,258.8 87.6,260.7 84.7,261.3C81.8,261.9 78.3,261.6 76,260.6C73.7,259.6 71.8,257.3 70.8,255.5C69.8,253.7 69.5,251.5 70.1,249.6C70.7,247.7 72.5,245.7 74.5,243.8C76.5,241.9 79.4,239.7 81.8,238C84.2,236.3 86.7,235.1 89.1,233.6C91.5,232.1 94.3,230.3 96.4,229.2C98.5,228.1 100,227.1 101.5,227Z" fill="#220202"/><ellipse cx="103.0" cy="212.8" rx="3.9" ry="7.3" fill="#220202"/><path d="M101.6,218 L104.4,218 L104.8,229 L101.2,229Z" fill="#220202"/>
<rect x="38.57" y="201.6" width="191.83" height="157.8" fill="url(#dots)"/>
<g transform="translate(0,189.30)"><path d="M114,36 L114.6,34.7 L114.8,33.3 L115.1,31.9 L116.6,32 L118,32.4 L119.5,32.2 L121,32.7 L122.7,32.8 L124.5,32.4 L126.1,32.7 L127.6,32.3 L129.3,32 L131.1,32 L132.5,30.9 L134.1,30.6 L135.3,30 L136.8,30 L139.5,29.9 L140.7,28.6 L141.4,27.1M141.4,27.1 L140.6,24.9 L139,23.3 L138.6,21.9 L137.8,20.6 L137.2,19.4 L136.3,18.3 L135.5,17.1 L134.1,15.4 L132.4,13.6 L130.9,12M141.4,27.1 L142.9,26.7 L144.5,27.1 L146,27 L147.8,27.3 L149.5,27.4 L151.1,27.4 L152.6,27.8 L154,28.2 L155.3,28.8 L156.5,29.8 L159,29.9 L160.4,29.5 L161.8,29.7 L163.3,30.5 L164.2,31.9 L165.2,34.2 L166.3,35.1 L166.8,36.5 L168.5,37 L169.6,38.3 L171.2,38.9 L172.3,40.1 L173.8,41 L175.1,42.1 L176.1,43.6 L177.7,44.6 L178.8,46.1M178.8,46.1 L179.6,45 L180,43.7 L180.8,42.7 L181.8,41.7 L182.8,40.2 L183.2,38.4 L183.8,36.3 L183.2,34.8 L182.9,33 L182.5,31.4 L182.8,29.7 L183.2,28.4 L183.2,26.9 L184.2,24.6 L185.4,23.9 L186.9,22.7 L188,24.8 L189.7,25.9 L191.8,26.2 L193,27.2 L193.8,28.4 L193.1,29.7 L192.5,31.1 L192.3,32.4 L192.1,33.8 L192.6,35 L194,34.9 L195.5,35.1 L197.1,35.1 L198.6,34.7 L200,34 L201.6,33.8 L203.1,33.1 L204.3,32 L204.6,30.4 L205.6,29.1 L206.5,28 L207.3,26.8 L208.3,25.5 L209.4,24.4 L210.3,23.4 L210.9,22.3 L212.3,20.5 L211.9,18.7 L210.5,17.9 L209,17.7 L207.4,17.7 L205.8,17.4 L204,15.5 L202.7,14.2 L203.7,12M178.8,46.1 L178.8,47.8 L178.4,49.2 L177.4,50.3 L176,51.4 L176.2,53.1 L175.2,54.7 L176.2,55.9 L176.2,57.3 L176.3,58.6 L175.4,59.7 L175.2,61.2 L172.9,61.9 L173.5,64 L175,65.6 L173.8,66.7 L173.4,68.2 L171.8,70.2 L171,71.4 L169.4,71.7 L168.7,73 L167.1,73.7 L165.8,74.8 L164.5,75.7 L163.5,77M175.4,59.5 L176.8,60.3 L178.6,60.2 L180.2,61.2 L182.1,61.1 L183.8,61.6 L185.4,62.2 L186.9,62.5 L188.3,62.8 L189.7,63.1 L191.3,63.1 L193,63.8 L194.3,64 L195.8,64.2 L196.8,65.2 L198.6,65.8 L200,67 L200.9,65.9 L202.1,65.1 L203,64.1 L204.5,63 L205.8,61.7 L207.4,61.3 L208.9,60.8 L210.4,60.5 L211.9,60.1 L213.3,60.8 L214.1,62.2 L215.3,62.9 L216.8,62.5 L218.1,62.7 L219.3,63.1 L221,62.9 L222.5,62.2 L224,61.9 L225.3,62.7 L226.8,62.6 L228,63.5 L229.5,63.6 L231,63.4M231,17 L229.6,16.9 L228.2,16.2 L227.7,17.8 L226.8,18.7 L225.8,19.7 L225.3,20.9 L224.5,22.2 L223.6,23.6 L222.8,25.2 L222.4,26.9 L223.3,27.9 L224.5,28.5 L226,29.1 L227.5,29.6 L229.3,29.7 L231,29M173.2,128.2 L175.6,128 L177.6,126.7 L177.6,124.8 L177.6,123 L177.1,121.1 L176.9,119.3 L178.3,117.2 L180.5,116.1 L182,115.9 L183.6,115.7 L185.2,115 L186.5,114 L187.3,112.8 L188.4,111.9 L189.7,111.3 L190.8,109.7 L192.5,108.8 L194.3,109 L195.9,108.1 L197.4,108.2 L198.8,108.2 L199.9,107.2 L201.3,106 L202.8,104.8 L203.4,103.2 L204.8,102.4 L206.1,101.6 L207,100.5 L207.9,99.4 L208.8,98.3 L210.4,97.7 L211.8,96.8 L212.9,95.9 L213.8,94.9 L215.1,94.2 L215.9,93.2 L216.5,91.9 L217.6,91 L217.8,89.4 L218.5,88 L218.8,86.5 L219.4,85.1 L220.6,84.1 L222,83.5 L223.7,82.9 L225.3,81.9 L226.6,82.6 L228,82.2 L229.5,82.8 L231,82.7M214.9,94 L214.2,95.4 L214,96.9 L214,98.5 L214,100 L214,101.5 L213.4,103 L213.1,104.4 L212.8,105.9 L213,107.6 L213,109.3 L213.2,111 L212.8,112.3 L212.8,113.7 L212.7,115.1 L212.8,116.4 L212.8,117.8 L212.4,119.7 L213.1,121.5 L213.5,123.3 L213.7,125.4 L211.9,124.9 L210.6,125.8 L209,126.8 L208.8,128.3 L208.2,129.6 L207.6,131 L206.6,132.4 L206.6,134.1 L205.5,135.6 L206.5,137 L206.4,138.5 L206.6,140 L206.6,141.6 L206.7,143.1 L207.5,144.5 L208.4,145.6 L209.5,146.5 L210.3,147.9 L211.8,147.7 L213.1,147.1 L214.5,147.6 L216,148.3 L217.8,148.1 L219.3,149 L220.2,150.4 L221.2,151.8 L222.6,152.6 L224.1,153.2 L224.9,155 L226.2,156.3 L227.1,157.3 L228.4,157.8 L229.7,157.7 L231,158M213.4,125.2 L215,125 L216.5,124.8 L217.9,124.3 L219.3,124.2 L220.9,124 L222.5,123.9 L223.9,123.6 L225.2,123.3 L226.6,123.3 L228,122.9 L229.5,123.6 L231,123.4M219.3,149 L219.5,150.7 L218.6,152.3 L218.3,154 L218.4,155.4 L218.4,156.8 L218.3,158.2 L217.7,159.4 L217.2,161.2 L216.3,162.7 L215.3,163.9 L214.5,165.3 L215.5,166.7 L215.2,168.2 L215.1,169.6 L215.6,171M217.9,159.5 L220.1,159.6 L222.3,161 L223.2,162.6 L224.6,164 L225.5,165 L226.7,165.6 L227.8,166.5 L229,167.4 L231,166.5M186.6,162.4 L187.4,163.6 L188.7,164.4 L189.7,165.8 L191.3,166.7 L191.7,168.6 L192.7,169.9 L194,171M174.7,129 L176.2,129.1 L177.4,129.9 L177.5,131.4 L177.8,133 L178,134.4 L177.7,135.7 L177.6,137.1" fill="none" stroke="#000" stroke-width="0.85" stroke-linejoin="round"/><path d="M38,21.4 L39.4,21.5 L40.7,21.9 L42.1,21.5 L43.4,21.6 L44.5,21 L46.2,20.6 L48.5,20.6 L50,20.9 L51.2,19.9 L52.7,20.3 L54,20.2 L55.4,19.9 L56.9,19.6 L58.5,19.5 L59.9,19.1 L61.2,19.4 L62.6,19 L64.6,19.3 L66.6,20.4 L68.7,20.8 L70.3,20.6 L71.8,20.1 L73.2,20.3 L74.5,20.1 L75.7,19.5 L76.9,19.5 L78.2,19.1 L79.5,19.2 L80.7,18.7 L81.9,18.5 L83.2,18.2 L84.5,18 L86,16.9 L88,16.7 L89.8,17.1 L91,18.9 L91.4,20 L91.9,21.2 L91.6,22.4 L92,23.6 L92.4,24.6 L93.7,25.6 L95.2,26.5 L96.2,27.3 L97.1,28 L98,29.1 L98,30.6 L99.1,31.1 L99.9,32.2 L100.4,33.5 L101.4,34.3 L102.3,35 L103.3,35.8 L104.7,36.1 L106.1,36.4 L107.4,36.7 L108.4,37.3 L110.2,38.5 L111.8,39.1 L112.9,40.3 L113.7,41.4 L114.3,42.6 L115.3,43.5 L116.4,44.5 L117.6,45.2 L119.6,46.4 L120.8,46.5 L122,46.9 L123.3,47.4 L124.6,47.8 L126.7,46.5 L128.7,46.4 L130.1,45.7 L131.9,45.6 L133.2,44.7 L134.4,45.3 L133.3,46.4 L132,48.2 L130.7,48.8 L129.6,49.6 L127.7,50.5 L126.3,50.7 L124.9,51 L123.7,51.8 L122.3,52.4 L120.8,52.5 L119.6,53.3 L117.4,54.3 L118.6,56 L119.5,56.9 L120.6,57.6 L121.7,58.6 L122.7,59.7 L123.8,60.6 L124.7,61.7 L125.6,62.8 L126.7,63.8 L127.6,65 L128.6,66 L129.8,67.2 L131.1,68.4 L132.5,69.1 L133.9,69.8 L135,70.8 L136.5,70.7 L137.7,71.2 L138.9,71.3 L140.2,71.3 L141.6,71.2 L142.7,70.5 L144,70 L144.9,69.1 L146,68.3 L147.4,68 L148.6,67.4 L149.6,66.7 L150.8,66.2 L151.6,65.2 L152.6,64.7 L153.7,63.6 L154.2,62.2 L153.6,60.1 L152.5,59.4 L151.4,59 L152.8,58 L154.2,56.4 L153.1,54.3 L155.4,53.4 L157,53.3 L158.5,53.6 L159.7,53.8 L161,54 L162.1,54.1 L161.1,54.8 L159.8,55.2 L158.6,55.5 L157.3,56.9 L157.9,58.3 L159.4,58.4 L160.7,59.1 L162,59.6 L163.4,60 L165,60.1 L163.3,60 L161.9,60.8 L160.5,61.1 L158.9,61 L159.5,62.3 L159.2,63.6 L159.8,64.7 L160.5,65.7 L160.7,67 L161.3,68 L161.6,69.3 L161.8,70.7 L161.9,72 L161.7,73.4 L161.3,74.8 L160.5,76.2 L160.4,77.5 L160.2,78.8 L160.1,80.1 L160,81.4 L160.6,82.5 L161,83.7 L161.1,85 L161.2,86.4 L161.8,87.7 L162.6,88.9 L162.9,90.5 L162.7,92 L162.5,93.7 L162.3,95.4 L162.8,96.8 L162.8,98.2 L162.9,99.6 L163.4,101 L163.6,102.2 L163.6,103.6 L164,104.8 L163.7,106.2 L164.4,107.4 L164.5,108.7 L164.5,110 L165.3,111.2 L165.2,112.5 L165.9,113.7 L165.6,115.2 L166.5,116.4 L166.7,117.7 L166.8,119.1 L167,120.3 L167.6,121.5 L168.3,122.7 L168.7,124.1 L169.5,125.2 L170.4,126.7 L171.4,128.1 L172.3,129.6 L173.3,131.1 L173.9,132.7 L174.4,134.2 L175.2,135.6 L175.8,136.7 L176.2,137.9 L176.8,139.1 L177.3,140.2 L178.4,141.3 L178.7,142.8 L179,144.2 L179.6,145.5 L179.9,146.8 L180.2,148.1 L181.2,149.2 L181.5,150.5 L181.4,151.8 L182.1,153 L182.5,154.2 L182.5,155.6 L183.5,156.8 L183.8,158.2 L184.2,159.6 L184,161.1 L185,162.4 L185.2,164 L185.3,165.6 L186,166.9 L186.6,168.2 L186.7,169.6 L187,171" fill="none" stroke="#000" stroke-width="1.3" stroke-linejoin="round"/><circle cx="163.6" cy="77.4" r="0.9"/><circle cx="176.0" cy="131.5" r="0.6"/></g>
</g>
<g clip-path="url(#m2)"><rect x="38.57" y="390.85" width="191.83" height="157.8" fill="#4a7090"/><path d="M39.6,390.9L230.4,390.9L230.4,548.7L38.6,548.7L38.6,390.9L39.6,390.9L39.6,390.9L0.0,0.0" fill="#4f7898" fill-rule="evenodd"/><path d="M39.6,390.9L230.4,390.9L230.4,548.7L38.6,548.7L38.6,390.9L39.6,390.9L39.6,390.9L0.0,0.0" fill="#537d9e" fill-rule="evenodd"/><path d="M39.6,390.9L230.4,390.9L230.4,548.7L38.6,548.7L38.6,390.9L39.6,390.9L39.6,390.9L0.0,0.0" fill="#5886aa" fill-rule="evenodd"/><path d="M39.6,390.9L230.4,390.9L230.4,548.7L38.6,548.7L38.6,390.9L39.6,390.9L39.6,390.9L0.0,0.0" fill="#5f93ba" fill-rule="evenodd"/><path d="M39.6,390.9L230.4,390.9L230.4,548.7L38.6,548.7L38.6,390.9L39.6,390.9M129.6,534.8L128.9,535.2L127.9,536.1L127.5,536.8L127.1,537.8L126.9,538.8L126.7,540.8L126.6,542.7L126.7,544.7L126.9,545.7L127.4,546.7L127.9,547.1L128.9,547.5L129.9,547.6L132.0,547.4L133.0,547.1L134.1,546.7L135.4,545.7L136.2,544.7L137.0,543.1L137.4,541.8L137.7,539.8L137.7,537.8L137.5,536.8L137.0,535.8L135.8,534.8L135.0,534.5L134.0,534.3L132.0,534.3L130.9,534.4L129.6,534.8L129.6,534.8L0.0,0.0" fill="#6aa0c8" fill-rule="evenodd"/><path d="M39.6,390.9L230.4,390.9L230.4,548.7L138.7,548.7L139.6,547.7L141.1,545.6L143.1,542.7L145.7,539.8L147.4,537.8L148.7,535.8L149.7,533.8L150.4,531.8L151.1,528.9L151.4,526.9L151.4,524.9L151.2,522.9L150.7,520.9L150.2,519.8L149.1,517.9L148.2,516.9L147.1,515.9L145.4,515.0L145.2,514.8L144.1,514.5L143.1,514.4L142.1,514.3L141.1,514.5L139.8,515.0L139.1,515.4L138.1,516.4L137.6,516.9L137.0,517.9L136.3,519.9L134.9,524.9L134.4,525.9L133.7,526.9L132.5,527.9L132.0,528.2L130.9,528.6L129.9,528.9L128.9,529.0L127.2,528.9L126.9,528.8L125.9,528.5L123.8,527.3L122.8,526.6L121.8,525.9L119.8,525.0L118.8,524.8L116.7,524.6L114.7,524.8L113.7,525.1L111.7,526.0L110.4,526.9L108.6,528.6L107.6,529.8L104.4,533.8L103.1,535.8L102.1,537.8L101.4,539.8L101.1,541.8L101.1,542.7L101.3,543.7L101.7,544.7L102.5,545.9L103.6,546.7L105.6,548.0L106.3,548.7L38.6,548.7L38.6,510.1L40.6,510.9L41.6,511.1L43.7,511.2L45.7,511.0L47.7,510.2L48.7,509.8L50.8,508.5L51.8,507.7L52.5,507.0L53.1,506.0L53.0,505.0L52.8,504.9L51.5,504.0L49.8,503.6L47.7,503.3L45.7,503.2L42.7,503.2L39.6,503.5L38.6,503.6L38.6,390.9L39.6,390.9M114.7,533.7L116.7,533.3L117.8,533.3L118.8,533.4L120.2,533.8L120.8,534.1L121.8,535.0L122.3,535.8L122.8,537.1L123.2,538.8L123.4,540.8L123.4,542.7L123.2,543.7L122.8,544.9L122.3,545.7L121.8,546.2L120.8,546.8L118.8,547.3L116.7,547.5L113.7,547.5L111.7,547.3L110.7,547.2L109.4,546.7L108.7,545.7L108.5,544.7L108.6,542.7L108.9,540.8L109.5,538.8L109.9,537.8L110.7,536.5L111.7,535.3L112.7,534.6L114.4,533.8L114.7,533.7L114.7,533.7L0.0,0.0" fill="#72a8d2" fill-rule="evenodd"/><path d="M39.6,390.9L230.4,390.9L230.4,548.7L143.2,548.7L145.6,545.7L149.2,541.6L150.5,539.8L151.6,537.8L152.9,534.8L154.0,531.8L155.0,528.9L155.4,526.9L155.5,524.9L155.3,522.9L154.7,520.9L153.7,518.9L152.3,516.8L150.7,515.0L149.2,513.6L148.2,512.9L146.2,511.8L144.1,511.0L142.1,510.7L141.1,510.7L139.5,511.0L139.1,511.1L138.1,511.5L137.0,512.0L135.7,513.0L134.7,514.0L133.9,515.0L132.8,516.9L130.9,521.0L129.9,522.3L128.9,523.0L127.9,523.2L126.9,523.2L124.7,522.9L120.8,522.1L118.4,521.9L116.7,521.9L114.7,522.1L112.7,522.5L110.7,523.1L108.6,524.0L106.6,525.3L104.8,526.9L102.9,528.9L101.3,530.8L99.5,533.5L98.5,535.3L97.7,536.8L96.9,538.8L96.3,540.8L96.0,542.7L95.8,544.7L95.9,545.7L96.1,546.7L96.5,547.7L97.2,548.7L38.6,548.7L38.6,518.2L41.6,518.5L45.7,518.7L50.8,518.6L54.8,518.4L57.9,518.0L64.3,516.9L67.0,516.7L69.0,516.3L71.1,515.5L73.1,514.4L77.6,511.0L79.2,509.6L80.5,508.0L81.2,506.7L81.4,506.0L81.6,505.0L81.5,504.0L81.1,503.0L80.2,502.0L78.7,501.1L77.2,500.4L75.1,499.8L71.1,498.9L66.0,498.0L53.8,496.3L49.8,495.9L46.7,495.9L43.7,496.1L40.6,496.7L38.6,497.2L38.6,497.1L38.6,390.9L39.6,390.9M115.7,538.3L116.7,538.1L117.8,538.1L118.8,538.8L119.5,539.8L119.9,540.8L120.0,541.8L119.8,542.9L119.4,543.7L118.8,544.3L117.8,544.8L116.7,545.0L115.7,544.9L114.7,544.5L113.7,543.5L113.4,542.7L113.4,541.8L113.7,540.5L114.1,539.8L115.0,538.8L115.7,538.3L115.7,538.3L0.0,0.0" fill="#b0cde3" fill-rule="evenodd"/><path d="M39.6,390.9L230.4,390.9L230.4,548.7L146.4,548.7L150.7,543.7L152.0,541.8L153.3,539.5L155.5,534.8L158.7,527.9L159.3,525.9L159.4,524.9L159.4,523.7L159.2,522.9L158.8,521.9L157.7,519.9L155.3,516.7L153.3,514.4L151.2,512.5L149.2,510.8L147.2,509.5L145.2,508.5L143.1,507.8L141.1,507.5L140.1,507.5L139.1,507.6L137.0,508.1L135.0,509.0L133.5,510.0L132.0,511.4L130.6,513.0L127.9,517.0L126.9,518.0L125.9,518.6L124.9,518.9L122.8,519.3L119.8,519.4L115.7,519.6L112.7,520.0L109.6,520.6L107.6,521.2L105.6,522.1L103.5,523.2L101.4,524.9L99.3,526.9L95.8,530.8L93.4,533.8L91.9,535.8L90.8,537.8L89.7,540.8L88.6,544.7L88.3,545.7L87.3,547.7L86.5,548.7L38.6,548.7L38.6,525.0L39.6,524.8L41.6,524.6L43.7,524.8L44.7,525.0L46.7,525.6L47.7,526.2L48.7,526.9L49.8,527.9L53.2,531.8L53.8,532.3L54.8,532.9L57.2,533.8L61.9,535.3L64.0,536.2L66.0,537.3L68.0,538.8L71.7,541.8L72.1,542.1L73.1,542.4L74.1,542.4L75.1,542.1L76.1,541.4L78.2,539.6L82.3,535.8L84.2,533.8L84.9,532.8L85.4,531.8L86.0,529.8L86.3,527.6L86.3,525.7L86.0,522.9L85.5,518.9L85.5,516.9L85.9,515.0L86.8,512.0L87.7,509.0L88.1,507.0L88.3,505.0L88.3,503.0L87.9,501.1L87.3,499.3L86.6,498.1L85.8,497.1L84.8,496.1L84.3,495.7L82.2,494.5L80.2,493.8L78.2,493.4L75.1,493.1L59.9,492.2L51.8,491.3L48.7,491.2L45.7,491.3L42.7,491.7L40.6,492.2L38.6,492.8L38.6,390.9L39.6,390.9M112.3,494.1L111.7,494.2L110.7,494.6L109.6,495.1L108.6,496.1L108.1,497.1L107.8,498.1L107.8,499.1L108.0,500.1L108.3,501.1L108.7,502.1L109.6,503.3L110.7,504.2L111.9,505.0L113.7,505.7L115.7,506.1L117.4,506.0L117.8,506.0L118.8,505.7L120.4,505.0L120.8,504.7L121.8,503.6L122.2,503.0L122.5,502.1L122.7,501.1L122.8,500.1L122.6,499.1L122.3,498.1L121.6,497.1L120.7,496.1L119.2,495.1L117.8,494.5L115.7,494.0L113.7,493.9L112.3,494.1L112.3,494.1L0.0,0.0" fill="#e0eaf3" fill-rule="evenodd"/><path d="M39.6,390.9L81.2,391.0L82.2,391.4L83.3,391.6L84.3,391.7L85.3,391.6L86.3,391.3L86.8,390.9L230.4,390.9L230.4,548.7L149.0,548.7L151.2,546.2L152.3,544.7L154.2,541.8L156.3,537.6L158.4,533.8L160.4,530.8L162.4,528.2L164.5,525.9L165.5,524.7L165.9,523.9L166.0,522.9L165.4,521.9L161.1,518.9L159.4,517.6L149.2,508.4L147.2,507.0L145.2,505.8L142.1,504.3L140.1,503.6L139.1,503.3L138.1,503.2L137.0,503.2L136.0,503.3L134.0,503.9L132.0,504.6L130.9,504.8L129.9,504.9L128.9,504.0L128.8,503.0L128.9,499.1L128.7,498.1L128.3,497.1L127.6,496.1L126.6,495.1L124.9,493.8L122.8,492.7L119.8,491.3L116.7,490.2L113.7,489.5L111.7,489.1L109.6,488.9L107.6,488.9L104.6,489.2L99.5,489.8L97.5,489.8L96.4,489.7L95.4,489.5L94.4,489.1L93.0,488.2L92.0,487.2L91.2,486.2L90.1,484.2L89.0,482.2L88.3,481.2L87.2,480.2L86.3,479.8L85.3,479.5L84.3,479.5L83.3,479.7L82.0,480.2L80.6,481.2L79.6,482.2L76.1,486.0L75.1,486.7L74.1,487.3L73.1,487.6L71.1,488.1L69.0,488.2L66.0,488.1L61.9,487.6L57.9,487.2L53.8,486.9L49.8,486.9L45.7,487.2L42.7,487.6L39.6,488.2L38.6,488.5L38.6,390.9L39.6,390.9M92.9,397.8L92.2,398.8L92.0,399.8L92.0,400.8L92.0,401.8L92.4,403.3L92.6,403.8L93.4,405.0L94.4,405.7L95.5,405.8L96.4,405.4L97.5,404.4L97.8,403.8L98.1,402.8L98.2,401.8L98.1,400.8L97.8,399.8L97.2,398.8L96.1,397.8L95.4,397.5L94.4,397.3L93.4,397.5L92.9,397.8M96.4,501.8L97.5,501.5L98.5,501.6L99.5,502.1L100.9,503.0L102.5,504.6L104.1,506.0L105.6,507.1L107.6,508.2L109.9,509.0L111.7,509.4L114.7,509.8L118.8,510.1L121.8,510.3L122.8,510.5L123.7,511.0L123.8,511.2L124.1,512.0L123.8,513.3L123.5,514.0L122.7,515.0L120.8,516.0L118.8,516.4L115.7,516.9L111.7,517.1L106.6,517.5L102.5,518.0L99.5,518.3L98.5,518.3L97.1,517.9L96.4,517.5L96.0,516.9L95.4,515.9L94.8,514.0L94.4,512.0L94.2,510.0L94.2,508.0L94.4,505.9L94.9,504.0L95.4,502.8L96.4,501.8M38.6,542.7L39.6,544.5L39.8,544.7L41.1,545.7L41.6,546.0L43.7,546.5L45.7,546.8L48.7,546.8L51.8,546.5L56.9,545.8L57.9,545.8L58.9,546.0L60.2,546.7L60.9,547.9L61.1,548.7L38.6,548.7L38.6,542.7L38.6,542.7L0.0,0.0" fill="#fffaf9" fill-rule="evenodd"/><path d="M39.6,390.9L76.7,390.9L77.5,391.9L78.6,392.9L79.2,393.3L81.2,394.4L83.3,395.4L84.3,396.0L85.3,396.9L86.0,397.8L86.4,398.8L86.9,400.8L87.3,403.8L87.8,406.8L88.3,408.8L88.7,409.8L89.5,410.7L90.4,411.3L91.8,411.7L92.4,411.8L94.4,411.8L96.4,411.4L98.1,410.7L98.5,410.6L99.7,409.8L100.8,408.8L101.5,407.8L102.1,406.8L102.5,405.7L103.0,403.8L103.1,401.8L103.0,399.8L102.5,397.8L102.1,396.9L101.5,395.9L100.5,394.9L98.8,393.9L97.5,393.4L93.4,392.1L92.4,391.6L91.6,390.9L230.4,390.9L230.4,548.7L151.4,548.7L153.3,546.4L154.4,544.7L156.3,541.3L158.9,536.8L160.4,534.5L161.8,532.8L162.8,531.8L164.1,530.8L165.5,529.9L169.5,527.9L170.5,527.4L171.5,526.7L172.6,525.7L173.0,524.9L173.6,523.4L173.7,522.9L173.7,520.9L173.6,519.8L173.3,518.9L172.6,517.4L172.1,516.9L171.5,516.5L170.5,516.2L169.5,516.2L164.4,516.7L163.4,516.6L162.4,516.3L160.4,515.4L158.2,514.0L156.3,512.5L152.6,509.0L150.2,506.9L146.2,503.6L144.1,501.9L142.4,500.1L141.0,498.1L138.6,494.1L137.6,493.1L137.0,492.7L135.5,492.1L134.0,491.9L128.9,491.5L126.9,491.0L124.3,490.1L121.8,489.2L112.5,485.2L110.7,484.7L108.0,484.2L106.6,484.0L102.5,483.9L100.5,483.8L98.5,483.4L97.5,483.0L96.1,482.2L95.2,481.2L94.4,480.0L93.4,478.2L92.4,476.8L91.4,475.9L90.4,475.5L89.3,475.2L87.3,475.0L85.3,475.2L83.3,475.6L81.2,476.4L79.2,477.5L77.0,479.2L74.1,481.8L73.1,482.5L71.6,483.2L71.1,483.4L69.0,483.7L67.0,483.7L65.0,483.4L59.9,482.6L56.9,482.4L53.8,482.4L48.7,482.8L39.6,483.4L38.6,483.4L38.6,390.9L39.6,390.9L39.6,390.9L0.0,0.0" fill="#fffaf9" fill-rule="evenodd"/><path d="M39.6,390.9L40.4,390.9L39.3,392.9L38.6,393.9L38.6,390.9L39.6,390.9M57.9,390.9L72.4,390.9L72.1,392.0L71.6,392.9L71.1,393.6L70.1,394.3L69.0,394.7L67.0,395.0L65.0,395.0L63.0,394.7L61.9,394.4L60.7,393.9L59.9,393.5L58.9,392.7L57.9,391.6L57.3,390.9L57.9,390.9M114.7,390.9L230.4,390.9L230.4,395.0L229.4,396.0L229.0,396.9L229.0,397.8L229.4,399.1L229.8,399.8L230.4,400.8L230.4,548.7L153.6,548.7L155.0,546.7L156.3,544.6L159.7,538.8L161.4,536.4L162.9,534.8L164.1,533.8L165.5,532.9L167.6,531.8L172.6,529.8L174.1,528.9L175.0,527.9L175.7,526.9L176.1,525.9L176.4,523.9L176.5,521.9L176.3,519.9L175.8,516.9L175.2,515.0L174.6,513.5L173.6,512.1L172.6,511.7L171.5,511.8L169.5,512.5L166.5,513.6L164.4,514.0L162.9,514.0L162.4,513.9L161.4,513.6L159.4,512.6L157.3,511.2L155.3,509.5L151.7,506.0L148.7,503.0L145.9,500.1L144.5,498.1L143.1,495.6L141.3,492.1L140.5,491.1L140.1,490.7L139.1,489.9L137.4,489.2L137.0,489.0L135.0,488.8L128.9,488.8L126.9,488.4L124.9,487.8L122.8,487.0L120.8,486.0L117.8,484.1L114.5,482.2L112.5,481.2L110.0,480.2L107.6,479.4L105.6,478.8L103.5,477.8L102.5,477.2L101.5,476.3L98.0,472.3L96.4,471.3L94.4,470.6L92.4,470.4L90.4,470.4L88.3,470.7L85.3,471.4L82.2,472.3L79.8,473.3L77.8,474.3L76.1,475.3L72.1,477.9L71.1,478.4L70.1,478.7L68.0,478.9L66.0,478.8L58.9,477.9L54.8,477.8L46.7,477.9L44.7,477.8L42.7,477.4L41.6,477.0L40.3,476.3L39.2,475.3L38.6,474.3L38.6,428.0L43.7,427.9L49.8,428.1L58.9,428.5L66.0,429.1L69.0,429.6L71.1,430.2L73.1,431.0L76.1,432.6L80.2,434.7L82.5,435.6L84.3,436.0L86.3,436.2L87.3,436.1L88.3,435.9L89.3,435.3L90.0,434.6L90.2,433.6L90.0,432.6L89.3,430.6L88.5,428.6L88.0,426.6L87.9,424.6L88.2,422.7L88.9,420.7L89.5,419.7L90.4,418.7L91.5,417.7L93.4,416.6L96.4,415.4L99.5,414.2L101.5,413.1L102.5,412.5L103.5,411.7L104.6,410.6L105.9,408.8L107.0,406.8L108.6,403.6L109.6,402.2L110.7,401.5L111.7,401.1L113.7,400.8L115.7,400.7L117.8,400.3L118.9,399.8L120.4,398.8L121.4,397.8L121.9,396.9L122.2,395.9L122.0,394.9L121.3,393.9L119.8,393.0L118.8,392.7L114.7,391.4L113.7,390.9L114.7,390.9M132.7,392.9L132.3,393.9L132.4,394.9L133.0,395.9L134.0,396.6L135.0,397.0L136.0,397.0L136.4,396.9L137.0,396.5L137.5,395.9L137.7,394.9L137.5,393.9L137.0,393.2L136.6,392.9L136.0,392.6L135.0,392.3L134.0,392.3L132.7,392.9M40.7,445.5L40.6,445.5L40.1,446.5L39.6,447.7L39.5,448.5L39.6,450.1L39.7,450.4L40.2,451.4L40.6,451.9L41.6,452.3L42.7,452.1L43.7,451.4L44.7,450.1L44.9,449.5L45.0,448.5L45.0,447.5L44.7,446.5L43.7,445.2L42.7,444.8L41.6,444.9L40.7,445.5L40.7,445.5L0.0,0.0" fill="#fffaf9" fill-rule="evenodd"/><path d="M141.1,390.9L212.1,391.0L215.2,391.2L219.2,391.3L221.3,391.2L221.9,390.9L230.4,390.9L230.4,391.9L226.3,392.0L225.3,392.1L224.3,392.4L223.8,392.9L223.7,393.9L224.0,395.9L224.4,397.8L225.1,399.8L225.6,400.8L226.3,402.0L227.4,403.2L228.4,404.1L229.4,404.8L230.4,405.3L230.4,548.7L155.7,548.7L157.3,546.1L161.1,539.8L162.4,538.1L163.7,536.8L165.5,535.5L167.5,534.4L169.5,533.7L174.6,532.0L175.6,531.5L176.6,530.8L177.6,529.6L178.0,528.9L178.4,527.9L178.7,525.9L178.8,523.9L178.6,520.9L177.9,516.9L177.1,513.0L176.6,511.0L175.6,508.5L174.6,507.1L173.6,506.7L172.6,507.1L170.5,508.5L169.5,509.3L167.5,510.7L166.5,511.2L165.5,511.6L164.4,511.8L163.4,511.9L162.4,511.9L161.4,511.6L159.9,511.0L158.3,510.1L156.3,508.4L154.3,506.5L152.1,504.0L148.2,499.5L147.1,498.1L145.9,496.1L142.1,489.1L141.1,487.9L140.1,487.1L139.1,486.6L138.1,486.4L136.0,486.2L133.0,486.4L129.9,486.6L127.9,486.4L125.9,485.9L123.8,485.0L121.8,483.9L119.5,482.2L114.6,478.2L112.7,476.9L106.6,473.2L101.5,469.2L99.5,468.3L97.5,467.7L94.4,467.2L90.4,466.9L86.3,466.7L84.3,466.7L82.2,466.9L80.2,467.5L77.2,468.8L73.1,470.7L71.1,471.6L69.0,472.2L67.0,472.5L65.0,472.5L56.9,472.2L53.8,472.0L51.8,471.7L49.8,471.2L47.7,470.2L46.5,469.3L45.6,468.3L44.7,467.0L44.4,466.3L44.0,465.3L43.8,464.3L43.8,463.3L44.0,462.4L44.7,461.1L45.7,460.1L47.7,458.4L48.7,457.1L49.1,456.4L49.4,455.4L49.7,453.4L49.7,450.4L49.5,447.5L49.1,445.5L48.6,443.5L47.7,441.2L46.7,439.5L45.7,438.3L43.7,436.7L43.0,436.6L42.7,436.1L42.2,436.6L41.6,436.6L40.6,437.2L40.4,437.5L39.6,438.2L38.6,439.7L38.6,434.2L39.8,434.6L40.6,435.0L41.6,435.4L42.7,435.5L43.7,435.3L46.7,434.4L49.8,433.8L52.8,433.5L55.9,433.4L58.9,433.5L61.9,433.9L64.4,434.6L66.0,435.2L67.0,435.7L68.3,436.6L69.4,437.5L70.3,438.5L71.4,440.5L72.1,442.5L72.6,444.5L73.3,448.5L74.1,452.7L74.8,454.4L75.3,455.4L76.1,456.5L77.2,457.1L78.2,457.3L79.2,456.8L80.2,455.4L81.3,452.4L82.2,449.2L82.8,447.5L83.9,445.5L84.6,444.5L85.5,443.5L86.8,442.5L88.6,441.5L92.7,439.5L94.0,438.5L94.8,437.5L95.3,436.6L95.5,435.6L95.5,434.6L95.4,433.6L94.9,431.6L93.8,428.6L93.2,426.6L93.0,425.6L92.9,424.6L93.0,423.7L93.4,422.6L93.9,421.7L94.7,420.7L95.8,419.7L97.5,418.6L100.5,417.1L103.5,415.6L105.6,414.4L106.6,413.7L108.7,411.7L111.7,408.8L113.0,407.8L113.7,407.4L115.7,406.5L118.8,405.6L123.8,404.2L127.9,403.1L129.9,402.8L134.0,402.7L136.0,402.4L137.6,401.8L138.1,401.6L139.2,400.8L140.2,399.8L141.1,398.1L141.4,396.9L141.7,394.9L141.7,393.9L141.5,392.9L141.1,391.7L140.6,390.9L141.1,390.9M183.8,424.6L183.7,424.7L182.7,425.6L182.2,426.6L181.9,427.6L181.8,428.6L181.9,429.6L182.2,430.6L182.7,431.6L183.7,432.8L184.7,433.3L185.7,433.4L186.8,433.0L187.8,431.9L188.4,430.6L188.8,429.6L189.0,428.6L189.0,427.6L188.8,426.6L188.3,425.6L187.8,425.1L186.8,424.4L185.7,424.2L184.7,424.3L183.8,424.6M194.4,442.5L193.9,442.6L192.7,443.5L192.2,444.5L192.0,445.5L192.1,446.5L192.4,447.5L193.0,448.5L194.1,449.5L194.9,449.8L195.9,450.1L196.9,450.0L197.9,449.7L198.3,449.5L199.3,448.5L199.7,447.5L199.8,446.5L199.5,445.5L198.9,444.4L197.9,443.4L196.9,442.8L195.8,442.5L194.4,442.5M125.9,458.4L125.4,459.4L125.6,460.4L125.9,460.7L126.9,461.3L128.1,461.4L128.9,461.1L129.8,460.4L130.1,459.4L129.6,458.4L128.9,457.9L127.9,457.7L126.9,457.9L125.9,458.4M225.2,515.9L224.6,516.9L224.3,518.0L224.4,518.9L224.9,519.9L225.3,520.4L226.3,520.9L227.4,520.9L228.4,519.9L228.6,518.9L228.6,517.9L228.3,516.9L227.4,515.7L226.3,515.5L225.2,515.9L225.2,515.9L0.0,0.0" fill="#fdd8d2" fill-rule="evenodd"/><path d="M144.1,390.9L205.4,390.9L206.0,391.2L208.1,391.8L216.2,393.7L217.2,394.1L218.4,394.9L219.3,395.9L220.3,397.4L220.9,398.8L222.9,403.8L223.4,404.8L224.3,406.1L225.3,407.1L226.3,407.8L227.4,408.3L229.4,409.0L230.4,409.2L230.4,510.7L229.4,510.0L228.4,509.6L227.4,509.5L226.3,509.6L224.6,510.0L224.3,510.1L222.7,511.0L222.3,511.3L221.3,512.2L220.3,513.6L219.6,515.0L218.9,516.9L218.6,518.9L218.4,520.9L218.6,522.9L218.8,523.9L219.4,524.9L220.3,525.9L221.3,526.4L222.3,526.9L225.5,527.9L227.4,528.4L228.4,528.9L229.8,529.8L230.4,530.5L230.4,547.1L229.4,548.2L228.7,548.7L212.1,548.7L209.7,546.7L209.1,546.3L208.1,545.9L207.1,545.8L205.0,546.1L198.9,547.3L194.9,548.0L193.9,548.3L192.9,548.7L157.9,548.7L160.1,544.7L161.4,542.4L162.6,540.8L163.5,539.8L164.5,538.8L165.9,537.8L167.5,536.9L169.5,536.1L171.5,535.6L174.6,535.1L177.6,534.6L178.6,534.2L179.7,533.6L180.4,532.8L180.9,531.8L181.1,530.8L181.4,528.9L181.3,526.9L181.0,523.9L180.2,518.9L177.7,506.0L177.1,504.0L176.4,502.1L175.6,500.5L174.6,499.5L173.6,499.5L172.6,500.7L171.3,503.0L170.2,505.0L168.6,507.0L167.5,508.1L166.2,509.0L165.5,509.4L164.4,509.8L163.4,509.9L162.4,509.9L161.4,509.7L159.7,509.0L159.4,508.8L158.2,508.0L156.3,506.4L155.0,505.0L152.6,502.1L149.0,497.1L147.8,495.1L146.2,491.9L144.8,489.2L143.6,487.2L142.9,486.2L142.0,485.2L140.7,484.2L140.1,483.8L139.1,483.5L138.1,483.4L136.0,483.6L130.9,484.4L128.9,484.3L126.9,483.9L124.9,483.1L122.8,481.8L121.8,481.0L120.0,479.2L114.7,473.2L111.7,470.4L107.6,467.2L106.2,466.3L105.6,466.0L103.5,465.4L101.5,465.2L93.2,464.3L91.4,463.9L89.3,463.1L88.2,462.4L87.2,461.4L86.6,460.4L86.2,459.4L85.7,457.4L85.6,455.4L85.7,453.4L85.9,451.4L86.5,449.5L87.3,447.6L87.4,447.5L88.3,446.2L89.3,445.2L90.4,444.5L92.4,443.3L96.0,441.5L96.4,441.2L97.5,440.1L97.8,439.5L98.2,438.5L98.4,437.5L98.5,435.6L98.2,433.6L97.6,430.6L97.0,427.6L96.8,425.6L97.0,424.6L97.5,423.4L97.9,422.7L98.9,421.7L100.5,420.5L102.5,419.4L107.8,416.7L109.6,415.5L113.1,412.7L114.7,411.6L116.7,410.5L118.8,409.8L120.8,409.4L127.9,408.3L130.9,407.4L137.0,405.5L139.1,404.6L140.3,403.8L141.3,402.8L142.1,401.7L143.0,399.8L143.3,398.8L143.7,396.9L143.9,394.9L144.0,392.9L143.7,390.9L144.1,390.9M182.6,421.7L181.7,422.2L180.7,423.0L179.7,424.2L179.4,424.6L179.0,425.6L178.6,427.2L178.6,428.6L178.8,430.6L179.5,432.6L180.0,433.6L180.7,434.7L181.7,435.8L182.7,436.6L184.7,437.9L186.8,438.8L187.8,439.5L188.5,440.5L189.0,442.5L189.4,445.5L190.0,447.5L190.8,449.2L191.0,449.5L191.8,450.4L193.2,451.4L193.9,451.7L194.9,452.1L195.9,452.2L196.9,452.2L197.9,452.0L199.3,451.4L200.0,451.0L201.0,450.0L201.3,449.5L201.8,448.5L202.0,447.5L202.0,446.1L201.9,445.5L201.6,444.5L201.0,443.4L200.0,442.1L198.9,441.3L197.6,440.5L195.9,439.8L192.1,438.5L191.8,438.4L190.8,437.3L190.6,436.6L190.6,435.6L191.0,433.6L192.2,428.6L192.3,427.6L192.2,426.6L192.1,425.6L191.6,424.6L190.8,423.6L189.6,422.7L187.8,421.7L186.8,421.4L185.7,421.2L184.7,421.2L183.7,421.3L182.6,421.7M125.4,455.4L123.8,456.1L122.8,456.7L121.8,457.7L121.3,458.4L120.8,459.6L120.7,460.4L120.9,461.4L121.3,462.4L122.4,463.3L122.8,463.6L123.8,464.0L125.0,464.3L126.9,464.6L128.9,464.4L129.9,464.2L130.9,463.8L132.0,463.2L133.0,462.0L133.3,461.4L133.5,460.4L133.5,459.4L133.3,458.4L132.7,457.4L131.8,456.4L130.9,455.8L129.9,455.3L128.9,455.1L127.9,455.0L126.9,455.1L125.4,455.4M55.9,438.4L56.9,438.1L58.9,437.8L60.9,437.9L61.9,438.1L63.2,438.5L64.0,438.9L65.0,439.6L66.1,440.5L67.0,441.7L67.5,442.5L68.2,444.5L68.6,446.5L68.6,448.5L68.3,450.4L68.0,451.4L67.0,453.1L66.0,454.1L65.0,454.7L64.0,455.1L62.5,455.4L61.9,455.5L60.0,455.4L58.9,455.2L57.9,454.9L56.9,454.4L55.6,453.4L54.8,452.4L53.8,450.6L53.4,449.5L53.0,447.5L52.8,445.5L52.8,443.2L53.1,441.5L53.8,440.0L54.2,439.5L54.8,439.0L55.9,438.4L55.9,438.4L0.0,0.0" fill="#f4a090" fill-rule="evenodd"/><path d="M147.2,390.9L201.3,390.9L202.0,392.1L203.2,392.9L205.0,393.4L211.1,394.6L212.1,394.9L214.2,395.9L215.5,396.9L216.4,397.8L217.2,399.3L217.7,400.8L218.2,403.2L218.4,404.8L218.3,406.8L218.0,408.8L217.2,410.5L216.5,411.7L215.2,413.7L214.7,414.7L214.5,415.7L214.3,416.7L214.3,417.7L214.7,419.7L215.4,421.7L216.3,423.7L217.5,425.6L218.2,426.6L219.3,427.6L220.8,428.6L221.3,428.9L222.3,429.2L223.3,429.4L224.3,429.5L225.3,429.5L226.3,429.3L228.1,428.6L228.4,428.5L229.6,427.6L230.4,426.9L230.4,505.3L228.4,505.4L226.3,505.7L224.3,506.2L222.3,506.9L221.3,507.3L220.1,508.0L218.9,509.0L218.0,510.0L217.2,511.2L216.4,513.0L215.4,515.9L214.0,519.9L213.1,522.0L212.1,523.9L208.5,529.8L207.7,531.8L205.6,538.8L204.5,540.8L203.8,541.8L202.8,542.7L201.0,543.9L198.9,544.7L196.9,545.2L194.9,545.4L192.9,545.3L190.8,545.1L189.7,544.7L188.8,544.1L188.5,543.7L187.8,542.1L187.4,540.8L185.7,532.8L181.7,516.6L180.9,512.0L179.0,500.1L178.2,497.1L177.6,495.1L176.6,493.1L175.6,491.7L174.6,490.8L173.6,490.4L172.6,490.4L171.5,490.8L171.2,491.1L170.4,492.1L170.0,493.1L169.7,495.1L169.1,501.1L168.5,503.1L168.0,504.0L167.4,505.0L166.5,506.2L165.5,507.0L164.4,507.6L163.4,507.9L162.4,507.9L161.4,507.8L159.7,507.0L159.4,506.8L158.3,506.0L157.2,505.0L155.5,503.0L153.3,499.8L150.2,495.1L148.6,492.1L144.7,484.2L144.0,483.2L143.1,482.1L142.1,481.0L141.0,480.2L140.1,479.8L139.1,479.7L138.1,479.8L135.0,480.9L133.0,481.6L130.9,482.0L129.9,482.1L128.9,482.0L127.9,481.8L126.3,481.2L124.9,480.4L123.8,479.5L122.6,478.2L121.2,476.3L120.2,474.3L119.5,472.3L119.3,471.3L119.3,470.3L119.5,469.3L119.8,468.9L120.3,468.3L120.8,468.0L121.8,467.7L124.0,467.3L130.9,466.6L133.0,466.1L134.3,465.3L135.2,464.3L135.7,463.3L136.0,462.3L136.1,461.4L136.1,460.4L136.0,459.4L135.8,458.4L135.0,456.8L134.7,456.4L133.8,455.4L132.5,454.4L130.9,453.7L129.9,453.4L127.9,453.2L125.9,453.3L123.8,453.8L121.8,454.5L119.8,455.6L116.7,457.3L115.7,457.6L114.7,457.7L113.7,457.4L112.4,456.4L111.7,455.3L110.9,453.4L109.6,449.5L108.6,447.5L107.6,446.3L106.6,445.4L103.5,443.4L102.5,442.1L102.0,440.5L101.4,437.5L100.2,429.6L100.1,427.6L100.2,426.6L100.5,425.6L101.0,424.6L101.8,423.7L103.0,422.7L104.6,421.7L107.6,420.3L110.7,418.9L112.7,417.7L117.2,414.7L118.8,414.0L120.8,413.5L123.8,413.0L126.9,412.5L128.9,412.0L130.9,411.3L140.1,407.4L141.1,406.8L142.4,405.8L143.3,404.8L144.1,403.4L144.7,401.8L145.2,399.8L145.7,396.9L146.4,390.9L147.2,390.9M180.4,419.7L178.8,420.7L177.6,421.8L176.6,423.1L176.3,423.7L175.6,425.3L175.5,425.6L175.3,426.6L175.3,427.6L175.5,429.6L176.0,431.6L176.7,433.6L177.8,435.6L178.6,436.8L179.7,437.9L180.7,438.8L184.7,441.8L185.7,443.0L186.6,444.5L187.0,445.5L188.6,449.5L189.2,450.4L190.0,451.4L191.0,452.4L191.8,452.9L192.9,453.4L193.9,453.7L195.9,454.0L197.9,453.9L199.7,453.4L200.0,453.3L201.5,452.4L202.5,451.4L203.2,450.4L203.6,449.5L203.9,448.5L204.0,447.5L204.0,446.2L203.7,444.5L203.4,443.5L203.0,442.5L202.0,441.1L201.0,440.1L200.0,439.4L195.5,436.6L194.7,435.6L194.3,434.6L194.2,433.6L194.4,431.6L195.4,426.6L195.3,425.6L194.9,424.4L194.5,423.7L193.6,422.7L191.8,421.3L189.8,420.1L187.8,419.3L185.7,418.9L183.7,418.8L182.7,418.9L181.7,419.2L180.4,419.7M59.9,442.5L61.1,442.5L61.9,442.8L63.0,443.5L64.0,444.9L64.2,445.5L64.4,446.5L64.4,447.5L64.0,448.7L63.4,449.5L63.0,449.9L61.9,450.4L60.9,450.6L59.9,450.4L58.9,449.9L57.9,449.0L57.5,448.5L57.1,447.5L56.9,446.5L57.0,445.5L57.3,444.5L57.9,443.5L58.9,442.8L59.9,442.5M93.4,446.3L94.4,445.9L95.4,445.7L96.4,445.5L97.5,445.5L98.5,445.6L99.5,445.9L100.5,446.6L101.5,448.0L102.2,449.5L103.3,452.4L104.1,455.4L104.3,456.4L104.2,457.4L104.0,458.4L103.5,459.4L102.5,460.4L100.8,461.4L99.5,461.7L97.5,462.0L95.4,462.0L94.4,461.8L92.9,461.4L92.4,461.1L91.2,460.4L90.2,459.4L89.3,457.9L89.2,457.4L88.8,455.4L88.8,453.4L89.1,451.4L89.5,450.4L90.4,448.8L90.6,448.5L91.6,447.5L93.1,446.5L93.4,446.3M222.3,532.8L224.3,532.8L225.3,533.0L226.3,533.4L227.4,534.0L228.4,535.0L228.9,535.8L229.4,536.8L229.8,538.8L229.9,540.8L229.7,542.7L229.4,543.7L228.4,545.5L228.2,545.7L227.1,546.7L226.3,547.2L225.0,547.7L223.3,548.1L221.3,548.1L219.5,547.7L219.2,547.6L217.7,546.7L216.8,545.7L216.1,544.7L215.7,543.7L215.5,542.7L215.3,540.8L215.5,538.8L215.7,537.8L216.2,536.7L217.2,535.2L218.2,534.3L219.2,533.7L220.3,533.2L222.1,532.8L222.3,532.8M169.5,538.7L171.5,538.3L173.6,538.2L175.6,538.4L177.6,539.0L179.3,539.8L180.7,540.8L182.8,542.7L185.1,544.7L186.1,545.7L186.8,546.7L187.1,547.7L187.3,548.7L160.4,548.7L161.7,545.7L162.9,543.7L163.6,542.7L164.5,541.8L165.6,540.8L167.0,539.8L168.5,539.1L169.5,538.7L169.5,538.7L0.0,0.0" fill="#e8674c" fill-rule="evenodd"/><path d="M149.2,390.9L196.5,390.9L194.0,392.9L193.6,393.9L193.7,394.9L193.9,395.9L194.9,397.4L195.9,398.4L196.9,399.0L197.9,399.2L198.9,399.3L200.0,399.1L202.0,398.4L204.0,397.6L206.0,397.1L207.1,397.0L208.1,397.1L209.1,397.3L210.5,397.8L211.1,398.2L212.1,399.2L212.6,399.8L213.1,401.2L213.3,401.8L213.3,402.8L213.1,403.8L212.9,404.8L212.1,406.3L211.1,407.8L209.0,410.7L208.0,412.7L207.4,414.7L206.8,417.7L206.6,419.7L206.6,421.7L206.7,422.7L207.2,423.7L208.1,425.1L209.2,426.6L212.3,430.6L214.3,432.6L216.2,434.1L219.2,436.0L222.3,437.7L223.3,438.0L224.3,437.5L230.4,432.3L230.4,501.0L227.4,501.7L219.2,503.6L217.2,504.3L216.0,505.0L214.8,506.0L214.1,507.0L213.6,508.0L212.9,510.0L211.6,515.0L210.8,516.9L210.1,518.2L208.8,519.9L207.8,520.9L204.5,523.9L203.8,524.9L203.3,525.9L202.8,527.9L202.5,530.8L202.2,533.8L201.9,535.8L201.2,537.8L200.7,538.8L200.0,539.9L198.9,540.8L197.9,541.3L196.9,541.6L195.9,541.7L194.9,541.4L193.7,540.8L192.7,539.8L191.8,538.3L191.2,536.8L190.3,533.8L189.2,529.8L188.1,526.9L185.4,520.9L184.3,517.9L183.5,515.0L182.7,510.8L182.1,506.0L181.0,496.1L180.4,493.1L179.7,490.7L179.0,489.2L178.5,488.2L177.6,486.9L176.6,485.8L175.6,485.1L174.6,484.6L173.6,484.3L172.6,484.3L171.5,484.4L170.5,484.7L169.5,485.2L168.2,486.2L167.3,487.2L166.5,488.5L166.2,489.2L165.9,490.1L165.7,491.1L165.7,492.1L165.9,494.1L166.6,498.1L166.6,500.1L166.5,501.2L166.3,502.1L165.9,503.0L165.3,504.0L164.2,505.0L163.4,505.4L162.4,505.6L161.4,505.5L160.3,505.0L159.0,504.0L158.0,503.0L156.6,501.1L154.3,497.1L150.2,490.0L145.2,478.7L142.1,473.2L140.9,471.3L140.1,469.6L139.9,469.3L139.6,468.3L139.4,466.3L139.1,462.3L138.8,460.4L138.2,458.4L137.3,456.4L136.7,455.4L135.8,454.4L134.5,453.4L133.0,452.6L132.0,452.2L129.9,451.7L127.9,451.5L125.9,451.6L122.8,452.0L118.8,452.7L117.8,452.7L116.6,452.4L115.7,451.9L114.7,450.9L113.7,449.3L111.2,444.5L110.5,443.5L109.5,442.5L105.6,439.0L104.6,437.5L104.2,436.6L103.5,434.4L103.3,432.6L103.1,430.6L103.3,428.6L103.6,427.6L104.2,426.6L105.0,425.6L105.6,425.2L106.6,424.6L108.6,423.8L113.7,422.2L115.7,421.1L119.8,418.4L121.8,417.4L124.2,416.7L129.9,415.2L132.0,414.4L139.1,411.2L143.2,409.8L144.1,409.3L145.2,408.5L145.8,407.8L146.3,406.8L146.9,404.8L147.3,401.8L148.2,393.9L148.8,391.9L149.2,390.9M180.5,416.7L178.6,417.2L176.6,418.2L174.5,419.7L173.0,420.7L172.6,420.9L171.5,421.3L170.5,421.5L168.5,421.4L163.4,421.1L161.4,421.3L160.1,421.7L159.4,422.1L158.8,422.7L158.2,423.7L158.0,424.6L158.1,425.6L158.3,426.9L158.6,427.6L159.4,429.1L160.4,430.4L161.4,431.3L162.4,431.9L163.4,432.2L164.4,432.4L166.5,432.4L168.5,432.3L169.5,432.4L170.5,432.7L171.5,433.2L172.9,434.6L174.3,436.6L175.8,438.5L177.6,440.3L179.3,441.5L182.2,443.5L183.3,444.5L184.1,445.5L184.8,446.5L185.8,448.5L186.8,450.8L187.1,451.4L187.8,452.5L188.8,453.6L189.9,454.4L190.8,454.9L192.9,455.5L194.9,455.8L196.9,455.8L198.9,455.6L201.0,455.2L202.6,454.4L203.0,454.2L204.0,453.3L205.0,451.9L205.3,451.4L205.6,450.4L206.0,448.4L206.2,446.5L206.0,444.5L205.6,442.5L205.0,440.9L204.9,440.5L204.0,439.3L203.0,438.2L200.7,436.6L199.4,435.6L198.6,434.6L198.2,433.6L198.0,432.6L198.2,431.6L198.8,429.6L199.3,428.6L200.2,426.6L200.5,425.6L200.4,424.6L199.8,423.7L198.8,422.7L194.9,420.3L191.8,418.7L189.5,417.7L187.8,417.1L185.7,416.6L183.7,416.4L181.7,416.5L180.5,416.7M223.9,442.5L223.5,443.5L223.4,444.5L223.4,445.5L223.7,446.5L224.3,447.8L225.3,448.8L226.3,449.2L227.0,448.5L227.2,447.5L227.0,446.5L226.3,444.1L225.3,442.5L224.3,442.0L223.9,442.5M94.4,450.4L95.4,450.2L96.5,450.4L97.8,451.4L98.5,452.5L98.9,453.4L99.1,454.4L99.2,455.4L99.0,456.4L98.5,457.4L97.5,458.2L96.4,458.5L95.4,458.6L94.4,458.3L93.3,457.4L92.6,456.4L92.3,455.4L92.2,454.4L92.4,453.1L92.6,452.4L93.4,451.1L94.4,450.4M126.9,470.1L128.9,469.7L130.9,469.7L133.0,469.9L134.3,470.3L135.0,470.7L135.8,471.3L136.2,472.3L136.2,473.3L135.4,475.3L134.8,476.3L133.8,477.2L132.4,478.2L132.0,478.5L130.9,478.8L129.9,479.0L128.9,479.0L127.9,478.7L126.9,478.2L125.8,477.2L124.9,475.9L124.5,475.3L124.2,474.3L124.1,473.3L124.3,472.3L124.9,471.3L126.3,470.3L126.9,470.1M169.5,541.7L170.5,541.5L171.5,541.4L172.6,541.4L174.2,541.8L174.6,541.9L176.0,542.7L177.2,543.7L178.6,545.6L180.9,548.7L163.7,548.7L163.9,547.7L164.4,546.3L164.7,545.7L165.5,544.6L166.5,543.5L167.5,542.7L168.5,542.2L169.5,541.7L169.5,541.7L0.0,0.0" fill="#cd4f38" fill-rule="evenodd"/><path d="M153.3,391.0L153.5,390.9L178.8,390.9L184.7,392.4L185.8,392.9L187.2,393.9L188.2,394.9L189.6,396.9L191.8,400.1L193.5,401.8L194.9,403.0L196.9,404.1L200.0,405.1L201.5,405.8L202.0,406.1L202.7,406.8L203.1,407.8L203.3,408.8L203.3,410.7L202.9,412.7L202.6,413.7L202.0,415.2L201.6,415.7L200.7,416.7L200.0,417.2L198.9,417.5L197.9,417.7L196.9,417.6L194.9,417.2L190.8,415.7L186.8,414.5L184.7,414.0L181.7,413.6L179.7,413.6L177.5,413.7L175.6,414.2L173.6,415.1L171.5,416.1L169.5,416.9L167.5,417.3L165.5,417.4L163.4,417.4L161.4,417.2L159.4,416.8L158.3,416.5L157.0,415.7L155.9,414.7L155.2,413.7L154.2,411.7L150.9,404.8L150.5,402.8L150.2,400.8L150.1,398.8L150.2,396.9L150.7,394.9L151.2,393.4L152.3,391.9L153.3,391.0M160.8,392.9L160.1,393.9L159.9,394.9L159.9,395.9L160.1,396.9L160.5,397.8L161.4,399.2L162.4,400.0L163.4,400.4L164.4,400.5L165.5,400.4L166.7,399.8L167.9,398.8L168.6,397.8L169.0,396.9L169.2,395.9L169.2,394.9L169.0,393.9L168.1,392.9L167.5,392.6L166.5,392.3L164.4,392.0L163.4,392.0L162.4,392.2L161.4,392.5L160.8,392.9M139.1,415.6L140.1,415.4L141.1,415.4L142.8,415.7L143.1,415.8L144.9,416.7L146.4,417.7L150.2,420.6L151.3,421.7L152.3,423.2L153.3,425.6L155.0,429.6L156.5,432.6L158.4,435.6L159.6,437.5L161.4,440.6L162.4,441.6L163.4,442.0L165.5,442.4L168.5,442.9L170.9,443.5L177.6,445.6L179.7,446.5L180.9,447.5L181.8,448.5L182.8,450.4L184.3,454.4L184.9,455.4L185.8,456.4L186.8,457.0L188.1,457.4L189.8,457.7L192.9,457.9L197.9,457.9L202.0,457.6L204.0,457.3L205.0,457.1L206.5,456.4L207.5,455.4L208.1,454.4L208.4,453.4L208.8,451.4L209.7,444.5L210.1,442.9L210.4,442.5L211.1,441.9L212.1,441.8L213.1,442.1L214.2,442.9L215.2,444.1L215.9,445.5L216.4,446.5L218.2,451.7L219.2,453.4L220.3,454.9L223.4,458.4L224.3,459.9L224.8,461.4L225.9,464.3L226.4,465.3L227.4,466.4L228.7,467.3L230.4,468.0L230.4,496.7L228.4,497.3L225.3,497.9L222.3,498.1L219.2,498.1L216.2,497.9L213.1,497.4L210.1,496.5L203.0,494.2L202.0,494.1L201.0,494.3L200.0,494.8L199.6,495.1L199.1,496.1L199.0,497.1L199.2,499.1L199.6,502.1L199.6,503.0L199.5,504.0L199.3,505.0L198.8,506.0L197.9,507.3L196.5,509.0L194.9,511.0L191.8,515.1L190.8,516.1L189.8,516.5L188.8,516.4L187.8,515.7L186.6,514.0L185.7,512.0L185.0,509.0L184.7,507.0L184.4,503.0L184.3,497.1L184.2,494.1L183.9,492.1L183.3,489.2L182.7,487.2L181.7,484.9L180.7,483.2L179.7,482.0L178.6,481.1L177.3,480.2L175.6,479.5L173.6,478.9L171.5,478.8L169.5,479.0L168.5,479.2L167.5,479.6L166.4,480.2L165.1,481.2L164.1,482.2L162.6,484.2L161.4,486.2L160.4,488.2L159.6,490.1L159.2,492.1L159.4,493.1L160.0,494.1L160.4,494.4L162.4,497.1L162.8,498.1L163.0,499.1L163.0,500.1L162.7,501.1L162.4,501.4L161.4,501.5L160.4,500.8L159.3,499.1L158.8,497.1L158.0,493.1L155.3,490.5L153.3,487.9L151.9,485.2L150.6,482.2L149.1,478.2L146.4,470.3L145.2,467.2L140.5,456.4L139.1,454.3L138.1,453.2L137.0,452.4L135.5,451.4L134.0,450.8L132.0,450.3L129.9,449.9L127.9,449.8L124.9,449.8L121.8,449.9L119.8,449.7L118.8,449.4L117.4,448.5L116.6,447.5L115.6,445.5L113.7,439.8L113.5,439.5L112.7,438.5L111.5,437.5L109.6,436.4L108.6,435.6L107.9,434.6L107.5,433.6L107.4,432.6L107.6,431.2L108.0,430.6L108.6,430.0L109.8,429.6L110.8,429.6L111.7,429.8L113.7,430.6L114.7,431.1L115.7,431.4L116.7,431.1L117.8,430.1L121.0,423.7L121.8,422.7L122.9,421.7L124.9,420.4L126.9,419.6L130.9,418.3L134.0,417.4L139.1,415.6L139.1,415.6L0.0,0.0" fill="#b54533" fill-rule="evenodd"/><path d="M177.6,396.7L178.6,396.2L179.7,396.1L180.7,396.0L181.7,396.2L182.7,396.5L183.7,396.9L185.1,397.8L186.2,398.8L187.8,400.8L190.8,405.0L192.9,407.1L194.9,408.9L195.9,410.2L196.2,410.7L196.2,411.7L195.9,412.2L194.9,412.8L193.4,412.7L191.8,412.4L181.7,409.6L179.4,408.8L177.6,407.8L176.4,406.8L175.6,405.8L175.2,404.8L175.0,403.8L174.9,402.8L175.2,400.8L175.6,399.4L175.8,398.8L176.6,397.6L177.6,396.7M162.4,408.5L163.4,408.2L164.4,408.2L165.5,408.5L166.5,409.0L167.1,409.8L167.0,410.7L166.4,411.7L165.5,412.3L164.4,412.5L163.4,412.5L162.4,412.0L162.1,411.7L161.5,410.7L161.4,409.8L162.0,408.8L162.4,408.5M130.9,422.7L133.0,422.6L134.0,422.7L135.0,422.9L136.6,423.7L137.9,424.6L140.1,426.7L141.1,427.3L142.1,427.7L144.1,428.2L146.2,428.8L147.6,429.6L148.2,430.1L149.2,431.3L149.8,432.6L150.1,433.6L150.2,434.6L150.1,435.6L149.7,436.6L149.1,437.5L146.1,441.5L145.0,443.5L143.1,447.5L142.1,448.6L141.1,449.1L140.1,449.2L138.1,449.0L133.0,448.2L128.9,447.8L124.4,447.5L122.8,447.1L121.4,446.5L120.4,445.5L120.0,444.5L119.8,443.5L119.9,442.5L120.1,441.5L120.8,439.9L121.8,438.3L122.9,436.6L123.4,435.6L124.0,433.6L124.3,431.6L124.6,428.6L124.9,427.5L125.2,426.6L125.9,425.4L126.9,424.3L127.9,423.6L128.9,423.1L130.9,422.7M162.4,453.3L163.4,453.3L164.4,453.3L165.5,453.4L166.5,453.7L168.2,454.4L169.5,455.3L170.5,456.2L171.5,457.4L173.8,460.4L175.6,462.1L177.2,463.3L178.6,464.2L180.7,465.0L182.7,465.6L184.7,465.8L185.7,465.7L187.1,465.3L187.8,465.1L189.8,463.8L190.8,463.1L192.1,462.4L193.9,461.7L195.6,461.4L196.9,461.3L197.9,461.4L198.9,461.7L200.6,462.4L201.8,463.3L202.6,464.3L203.5,466.3L204.5,469.3L206.4,473.3L206.6,474.3L206.7,475.3L206.6,476.3L206.4,477.2L205.7,479.2L204.4,481.2L203.0,482.7L202.0,483.5L200.9,484.2L198.8,485.2L196.9,485.8L194.9,486.2L192.9,486.5L191.8,486.4L190.8,486.2L189.8,485.7L188.8,484.9L187.5,483.2L184.6,478.2L183.7,477.2L182.6,476.3L181.0,475.3L179.7,474.6L176.6,473.5L173.6,472.5L171.5,471.7L169.5,470.6L166.5,468.9L164.4,468.3L163.4,468.2L162.4,468.2L161.4,468.3L160.4,468.6L158.8,469.3L156.3,470.9L155.3,471.2L154.3,471.0L153.3,470.0L152.3,468.1L151.8,466.3L151.4,464.3L151.4,463.3L151.5,462.4L151.7,461.4L152.3,460.2L152.8,459.4L154.3,457.8L155.3,456.9L156.3,456.2L158.3,454.9L160.4,453.9L162.4,453.3M218.2,475.2L221.3,474.7L224.3,474.6L227.4,474.6L229.4,474.9L230.4,475.3L230.4,491.5L228.6,492.1L227.4,492.4L225.3,492.5L223.3,492.4L221.3,492.0L219.2,491.3L218.2,490.8L217.1,490.1L216.0,489.2L215.1,488.2L214.2,486.8L213.4,485.2L212.8,483.2L212.4,481.2L212.4,480.2L212.5,479.2L212.8,478.2L213.5,477.2L214.9,476.3L216.2,475.7L218.2,475.2L218.2,475.2L0.0,0.0" fill="#9e3c2c" fill-rule="evenodd"/><path d="M129.9,438.4L130.9,438.1L132.0,438.0L133.0,438.3L134.0,438.9L134.5,439.5L135.1,440.5L135.2,441.5L134.9,442.5L134.0,443.5L133.0,443.9L132.0,444.2L130.9,444.2L129.9,444.2L128.9,444.0L127.8,443.5L127.1,442.5L127.2,441.5L127.9,440.2L128.9,439.1L129.9,438.4L129.9,438.4L0.0,0.0" fill="#8f3828" fill-rule="evenodd"/>
<path d="M131,409 L138,396 L150,393 L187,393 L187,415 L178,418 L172,423 L158,418 L152,420 L152,432 L170,436 L176,447 L150,452 L118,450 L110,442 L111,430 L117,421Z" fill="url(#dots)"/>
<path d="M186,413 L213,413 L213,421 L186,421Z" fill="url(#dots)"/>
<path d="M194,433 L229,433 L229,440 L194,440Z" fill="url(#dots)"/>
<path d="M146,448 L229,448 L229,505 L210,506 L207,528 L200,549 L196,549 L193.5,532 L189,521 L184,510 L179,501 L172,488 L167.5,476 L146,472 L145,466 L160,458Z" fill="url(#dots)"/>
<path d="M85,443 L103,443 L104,455 L85,456Z" fill="url(#dots)"/>
<path d="M53,439 L62,439 L62,449 L53,449Z" fill="url(#dots)"/>
<path d="M96,415 L104,415 L104,438 L96,438Z" fill="url(#dots)"/>
<path d="M37,500 L64,500 L73,506 L73,511 L64,512 L64,517 L37,517Z" fill="url(#dots)"/>
<g transform="translate(0,378.55)"><path d="M114,36 L114.6,34.7 L114.8,33.3 L115.1,31.9 L116.6,32 L118,32.4 L119.5,32.2 L121,32.7 L122.7,32.8 L124.5,32.4 L126.1,32.7 L127.6,32.3 L129.3,32 L131.1,32 L132.5,30.9 L134.1,30.6 L135.3,30 L136.8,30 L139.5,29.9 L140.7,28.6 L141.4,27.1M141.4,27.1 L140.6,24.9 L139,23.3 L138.6,21.9 L137.8,20.6 L137.2,19.4 L136.3,18.3 L135.5,17.1 L134.1,15.4 L132.4,13.6 L130.9,12M141.4,27.1 L142.9,26.7 L144.5,27.1 L146,27 L147.8,27.3 L149.5,27.4 L151.1,27.4 L152.6,27.8 L154,28.2 L155.3,28.8 L156.5,29.8 L159,29.9 L160.4,29.5 L161.8,29.7 L163.3,30.5 L164.2,31.9 L165.2,34.2 L166.3,35.1 L166.8,36.5 L168.5,37 L169.6,38.3 L171.2,38.9 L172.3,40.1 L173.8,41 L175.1,42.1 L176.1,43.6 L177.7,44.6 L178.8,46.1M178.8,46.1 L179.6,45 L180,43.7 L180.8,42.7 L181.8,41.7 L182.8,40.2 L183.2,38.4 L183.8,36.3 L183.2,34.8 L182.9,33 L182.5,31.4 L182.8,29.7 L183.2,28.4 L183.2,26.9 L184.2,24.6 L185.4,23.9 L186.9,22.7 L188,24.8 L189.7,25.9 L191.8,26.2 L193,27.2 L193.8,28.4 L193.1,29.7 L192.5,31.1 L192.3,32.4 L192.1,33.8 L192.6,35 L194,34.9 L195.5,35.1 L197.1,35.1 L198.6,34.7 L200,34 L201.6,33.8 L203.1,33.1 L204.3,32 L204.6,30.4 L205.6,29.1 L206.5,28 L207.3,26.8 L208.3,25.5 L209.4,24.4 L210.3,23.4 L210.9,22.3 L212.3,20.5 L211.9,18.7 L210.5,17.9 L209,17.7 L207.4,17.7 L205.8,17.4 L204,15.5 L202.7,14.2 L203.7,12M178.8,46.1 L178.8,47.8 L178.4,49.2 L177.4,50.3 L176,51.4 L176.2,53.1 L175.2,54.7 L176.2,55.9 L176.2,57.3 L176.3,58.6 L175.4,59.7 L175.2,61.2 L172.9,61.9 L173.5,64 L175,65.6 L173.8,66.7 L173.4,68.2 L171.8,70.2 L171,71.4 L169.4,71.7 L168.7,73 L167.1,73.7 L165.8,74.8 L164.5,75.7 L163.5,77M175.4,59.5 L176.8,60.3 L178.6,60.2 L180.2,61.2 L182.1,61.1 L183.8,61.6 L185.4,62.2 L186.9,62.5 L188.3,62.8 L189.7,63.1 L191.3,63.1 L193,63.8 L194.3,64 L195.8,64.2 L196.8,65.2 L198.6,65.8 L200,67 L200.9,65.9 L202.1,65.1 L203,64.1 L204.5,63 L205.8,61.7 L207.4,61.3 L208.9,60.8 L210.4,60.5 L211.9,60.1 L213.3,60.8 L214.1,62.2 L215.3,62.9 L216.8,62.5 L218.1,62.7 L219.3,63.1 L221,62.9 L222.5,62.2 L224,61.9 L225.3,62.7 L226.8,62.6 L228,63.5 L229.5,63.6 L231,63.4M231,17 L229.6,16.9 L228.2,16.2 L227.7,17.8 L226.8,18.7 L225.8,19.7 L225.3,20.9 L224.5,22.2 L223.6,23.6 L222.8,25.2 L222.4,26.9 L223.3,27.9 L224.5,28.5 L226,29.1 L227.5,29.6 L229.3,29.7 L231,29M173.2,128.2 L175.6,128 L177.6,126.7 L177.6,124.8 L177.6,123 L177.1,121.1 L176.9,119.3 L178.3,117.2 L180.5,116.1 L182,115.9 L183.6,115.7 L185.2,115 L186.5,114 L187.3,112.8 L188.4,111.9 L189.7,111.3 L190.8,109.7 L192.5,108.8 L194.3,109 L195.9,108.1 L197.4,108.2 L198.8,108.2 L199.9,107.2 L201.3,106 L202.8,104.8 L203.4,103.2 L204.8,102.4 L206.1,101.6 L207,100.5 L207.9,99.4 L208.8,98.3 L210.4,97.7 L211.8,96.8 L212.9,95.9 L213.8,94.9 L215.1,94.2 L215.9,93.2 L216.5,91.9 L217.6,91 L217.8,89.4 L218.5,88 L218.8,86.5 L219.4,85.1 L220.6,84.1 L222,83.5 L223.7,82.9 L225.3,81.9 L226.6,82.6 L228,82.2 L229.5,82.8 L231,82.7M214.9,94 L214.2,95.4 L214,96.9 L214,98.5 L214,100 L214,101.5 L213.4,103 L213.1,104.4 L212.8,105.9 L213,107.6 L213,109.3 L213.2,111 L212.8,112.3 L212.8,113.7 L212.7,115.1 L212.8,116.4 L212.8,117.8 L212.4,119.7 L213.1,121.5 L213.5,123.3 L213.7,125.4 L211.9,124.9 L210.6,125.8 L209,126.8 L208.8,128.3 L208.2,129.6 L207.6,131 L206.6,132.4 L206.6,134.1 L205.5,135.6 L206.5,137 L206.4,138.5 L206.6,140 L206.6,141.6 L206.7,143.1 L207.5,144.5 L208.4,145.6 L209.5,146.5 L210.3,147.9 L211.8,147.7 L213.1,147.1 L214.5,147.6 L216,148.3 L217.8,148.1 L219.3,149 L220.2,150.4 L221.2,151.8 L222.6,152.6 L224.1,153.2 L224.9,155 L226.2,156.3 L227.1,157.3 L228.4,157.8 L229.7,157.7 L231,158M213.4,125.2 L215,125 L216.5,124.8 L217.9,124.3 L219.3,124.2 L220.9,124 L222.5,123.9 L223.9,123.6 L225.2,123.3 L226.6,123.3 L228,122.9 L229.5,123.6 L231,123.4M219.3,149 L219.5,150.7 L218.6,152.3 L218.3,154 L218.4,155.4 L218.4,156.8 L218.3,158.2 L217.7,159.4 L217.2,161.2 L216.3,162.7 L215.3,163.9 L214.5,165.3 L215.5,166.7 L215.2,168.2 L215.1,169.6 L215.6,171M217.9,159.5 L220.1,159.6 L222.3,161 L223.2,162.6 L224.6,164 L225.5,165 L226.7,165.6 L227.8,166.5 L229,167.4 L231,166.5M186.6,162.4 L187.4,163.6 L188.7,164.4 L189.7,165.8 L191.3,166.7 L191.7,168.6 L192.7,169.9 L194,171M174.7,129 L176.2,129.1 L177.4,129.9 L177.5,131.4 L177.8,133 L178,134.4 L177.7,135.7 L177.6,137.1" fill="none" stroke="#000" stroke-width="0.85" stroke-linejoin="round"/><path d="M38,21.4 L39.4,21.5 L40.7,21.9 L42.1,21.5 L43.4,21.6 L44.5,21 L46.2,20.6 L48.5,20.6 L50,20.9 L51.2,19.9 L52.7,20.3 L54,20.2 L55.4,19.9 L56.9,19.6 L58.5,19.5 L59.9,19.1 L61.2,19.4 L62.6,19 L64.6,19.3 L66.6,20.4 L68.7,20.8 L70.3,20.6 L71.8,20.1 L73.2,20.3 L74.5,20.1 L75.7,19.5 L76.9,19.5 L78.2,19.1 L79.5,19.2 L80.7,18.7 L81.9,18.5 L83.2,18.2 L84.5,18 L86,16.9 L88,16.7 L89.8,17.1 L91,18.9 L91.4,20 L91.9,21.2 L91.6,22.4 L92,23.6 L92.4,24.6 L93.7,25.6 L95.2,26.5 L96.2,27.3 L97.1,28 L98,29.1 L98,30.6 L99.1,31.1 L99.9,32.2 L100.4,33.5 L101.4,34.3 L102.3,35 L103.3,35.8 L104.7,36.1 L106.1,36.4 L107.4,36.7 L108.4,37.3 L110.2,38.5 L111.8,39.1 L112.9,40.3 L113.7,41.4 L114.3,42.6 L115.3,43.5 L116.4,44.5 L117.6,45.2 L119.6,46.4 L120.8,46.5 L122,46.9 L123.3,47.4 L124.6,47.8 L126.7,46.5 L128.7,46.4 L130.1,45.7 L131.9,45.6 L133.2,44.7 L134.4,45.3 L133.3,46.4 L132,48.2 L130.7,48.8 L129.6,49.6 L127.7,50.5 L126.3,50.7 L124.9,51 L123.7,51.8 L122.3,52.4 L120.8,52.5 L119.6,53.3 L117.4,54.3 L118.6,56 L119.5,56.9 L120.6,57.6 L121.7,58.6 L122.7,59.7 L123.8,60.6 L124.7,61.7 L125.6,62.8 L126.7,63.8 L127.6,65 L128.6,66 L129.8,67.2 L131.1,68.4 L132.5,69.1 L133.9,69.8 L135,70.8 L136.5,70.7 L137.7,71.2 L138.9,71.3 L140.2,71.3 L141.6,71.2 L142.7,70.5 L144,70 L144.9,69.1 L146,68.3 L147.4,68 L148.6,67.4 L149.6,66.7 L150.8,66.2 L151.6,65.2 L152.6,64.7 L153.7,63.6 L154.2,62.2 L153.6,60.1 L152.5,59.4 L151.4,59 L152.8,58 L154.2,56.4 L153.1,54.3 L155.4,53.4 L157,53.3 L158.5,53.6 L159.7,53.8 L161,54 L162.1,54.1 L161.1,54.8 L159.8,55.2 L158.6,55.5 L157.3,56.9 L157.9,58.3 L159.4,58.4 L160.7,59.1 L162,59.6 L163.4,60 L165,60.1 L163.3,60 L161.9,60.8 L160.5,61.1 L158.9,61 L159.5,62.3 L159.2,63.6 L159.8,64.7 L160.5,65.7 L160.7,67 L161.3,68 L161.6,69.3 L161.8,70.7 L161.9,72 L161.7,73.4 L161.3,74.8 L160.5,76.2 L160.4,77.5 L160.2,78.8 L160.1,80.1 L160,81.4 L160.6,82.5 L161,83.7 L161.1,85 L161.2,86.4 L161.8,87.7 L162.6,88.9 L162.9,90.5 L162.7,92 L162.5,93.7 L162.3,95.4 L162.8,96.8 L162.8,98.2 L162.9,99.6 L163.4,101 L163.6,102.2 L163.6,103.6 L164,104.8 L163.7,106.2 L164.4,107.4 L164.5,108.7 L164.5,110 L165.3,111.2 L165.2,112.5 L165.9,113.7 L165.6,115.2 L166.5,116.4 L166.7,117.7 L166.8,119.1 L167,120.3 L167.6,121.5 L168.3,122.7 L168.7,124.1 L169.5,125.2 L170.4,126.7 L171.4,128.1 L172.3,129.6 L173.3,131.1 L173.9,132.7 L174.4,134.2 L175.2,135.6 L175.8,136.7 L176.2,137.9 L176.8,139.1 L177.3,140.2 L178.4,141.3 L178.7,142.8 L179,144.2 L179.6,145.5 L179.9,146.8 L180.2,148.1 L181.2,149.2 L181.5,150.5 L181.4,151.8 L182.1,153 L182.5,154.2 L182.5,155.6 L183.5,156.8 L183.8,158.2 L184.2,159.6 L184,161.1 L185,162.4 L185.2,164 L185.3,165.6 L186,166.9 L186.6,168.2 L186.7,169.6 L187,171" fill="none" stroke="#000" stroke-width="1.8" stroke-linejoin="round"/><circle cx="163.6" cy="77.4" r="0.9"/><circle cx="176.0" cy="131.5" r="0.6"/></g>
</g>
<g clip-path="url(#m3)"><rect x="38.57" y="580.1" width="191.83" height="157.8" fill="#4a7090"/><path d="M39.6,580.1L230.4,580.1L230.4,737.9L38.6,737.9L38.6,580.1L39.6,580.1L39.6,580.1L0.0,0.0" fill="#537d9e" fill-rule="evenodd"/><path d="M39.6,580.1L230.4,580.1L230.4,737.9L38.6,737.9L38.6,580.1L39.6,580.1L39.6,580.1L0.0,0.0" fill="#5886aa" fill-rule="evenodd"/><path d="M39.6,580.4L40.1,580.1L230.4,580.1L230.4,737.9L38.6,737.9L38.6,581.3L39.6,580.4L39.6,580.4L0.0,0.0" fill="#5f93ba" fill-rule="evenodd"/><path d="M48.7,580.7L49.9,580.1L230.4,580.1L230.4,737.9L38.6,737.9L38.6,591.4L39.3,590.0L40.7,587.0L41.6,585.6L42.7,584.4L43.7,583.5L44.7,582.8L46.7,581.7L48.7,580.7L48.7,580.7L0.0,0.0" fill="#6aa0c8" fill-rule="evenodd"/><path d="M67.0,580.1L77.5,580.1L78.6,581.1L80.2,582.1L82.2,582.9L83.3,583.1L85.3,583.2L86.4,583.1L88.3,582.6L90.4,581.6L92.8,580.1L230.4,580.1L230.4,737.9L38.6,737.9L38.6,601.5L40.6,601.5L42.7,601.1L43.7,600.9L45.9,599.9L47.7,598.8L50.1,597.0L52.8,594.6L54.9,593.0L56.9,591.8L60.9,589.3L62.5,588.0L64.0,586.5L65.0,585.1L65.6,584.1L66.0,582.9L66.2,582.1L66.2,581.1L66.0,580.1L67.0,580.1M119.7,582.1L118.8,582.6L118.0,583.1L117.4,584.1L117.5,585.1L118.0,586.1L118.8,586.6L119.8,586.8L120.8,586.8L122.8,586.2L123.8,585.8L125.2,585.1L126.9,583.8L127.7,583.1L127.8,582.1L126.9,581.8L124.9,581.5L122.8,581.6L120.8,581.9L119.7,582.1L119.7,582.1L0.0,0.0" fill="#72a8d2" fill-rule="evenodd"/><path d="M98.5,581.0L100.6,580.1L116.1,580.1L114.7,580.6L114.0,581.1L113.4,582.1L113.3,583.1L113.3,584.1L113.4,585.1L113.7,586.1L114.1,587.0L114.7,588.1L115.7,589.1L116.7,589.7L117.8,590.1L118.8,590.2L120.8,589.9L122.8,589.4L125.9,588.3L129.7,587.0L130.9,586.7L134.1,586.1L135.0,585.7L136.3,585.1L137.4,584.1L138.1,582.8L138.2,582.1L138.3,581.1L138.3,580.1L230.4,580.1L230.4,737.9L38.6,737.9L38.6,605.4L40.6,605.3L43.7,605.0L45.7,604.6L48.0,603.9L50.5,602.9L52.8,601.7L55.9,599.7L60.2,597.0L67.0,592.8L71.3,590.0L72.1,589.6L73.7,589.0L75.1,588.8L77.2,588.7L85.3,588.9L87.3,588.6L89.5,588.0L90.4,587.7L91.5,587.0L92.8,586.1L94.4,584.6L95.8,583.1L97.5,581.7L98.5,581.0L98.5,581.0L0.0,0.0" fill="#c0d6e8" fill-rule="evenodd"/><path d="M142.1,580.1L230.4,580.1L230.4,737.9L38.6,737.9L38.6,608.6L43.7,608.1L47.7,607.4L50.8,606.6L53.8,605.6L56.9,604.2L61.2,601.9L65.2,599.9L74.1,595.7L76.1,595.0L78.2,594.4L81.2,594.0L85.3,593.6L88.3,593.4L90.5,593.0L92.4,592.4L93.4,591.8L94.5,591.0L95.4,590.0L96.8,588.0L98.5,585.6L99.5,584.4L100.5,583.5L101.5,582.8L103.2,582.1L104.6,581.8L105.6,581.7L106.6,581.7L107.8,582.1L108.6,582.6L109.0,583.1L109.6,584.1L111.8,589.0L112.7,590.3L113.7,591.3L114.9,592.0L115.7,592.3L116.7,592.5L117.8,592.6L119.8,592.4L121.8,591.9L128.9,589.7L130.9,589.4L135.0,589.2L137.2,589.0L138.1,588.8L139.1,588.4L140.1,587.7L140.6,587.0L141.1,586.1L141.4,585.1L141.6,583.1L141.6,581.1L141.5,580.1L142.1,580.1L142.1,580.1L0.0,0.0" fill="#fffaf9" fill-rule="evenodd"/><path d="M144.1,580.1L230.4,580.1L230.4,725.0L229.0,727.0L227.2,729.9L225.1,733.9L223.0,737.9L38.6,737.9L38.6,612.2L41.6,611.6L52.9,609.9L55.9,609.2L58.9,608.2L63.0,606.6L74.1,601.8L78.2,600.0L80.2,599.3L82.2,598.8L84.3,598.5L87.3,598.2L92.4,597.9L94.4,597.5L95.9,597.0L96.4,596.7L97.5,596.0L98.5,595.0L99.5,593.4L100.1,592.0L101.0,590.0L101.5,588.9L102.5,587.5L103.5,586.7L104.6,586.4L105.6,586.5L106.6,587.1L107.8,589.0L108.9,591.0L109.6,592.1L110.7,593.2L111.9,594.0L112.7,594.3L113.7,594.6L115.7,594.9L117.8,594.8L119.8,594.4L122.8,593.5L126.9,592.3L128.9,591.9L130.9,591.7L133.0,591.8L137.0,592.2L139.1,592.4L140.1,592.4L141.6,592.0L142.1,591.8L143.1,590.9L143.7,590.0L144.1,588.8L144.4,587.0L144.4,585.1L144.2,582.1L143.9,580.1L144.1,580.1M181.5,721.0L180.2,722.0L179.3,723.0L178.6,724.0L178.0,725.0L177.6,726.1L177.4,727.0L177.3,728.0L177.4,728.9L177.7,729.9L178.3,730.9L178.6,731.3L179.7,732.1L180.7,732.5L181.7,732.7L182.7,732.8L183.7,732.7L184.7,732.4L185.7,731.9L186.8,730.9L187.4,729.9L187.8,728.9L188.1,727.0L188.0,725.0L187.8,723.7L187.5,723.0L186.8,721.7L185.7,720.7L184.7,720.3L183.7,720.2L182.7,720.5L181.5,721.0M64.5,730.9L63.6,731.9L63.6,732.9L64.0,733.2L65.0,733.8L66.0,733.9L67.5,733.9L68.0,733.8L69.0,733.4L69.7,732.9L69.7,731.9L68.9,730.9L68.0,730.6L67.0,730.4L66.0,730.5L64.5,730.9L64.5,730.9L0.0,0.0" fill="#fffaf9" fill-rule="evenodd"/><path d="M146.2,580.1L230.4,580.1L230.4,718.7L221.3,725.5L219.2,726.5L217.2,727.3L216.2,727.4L215.2,727.5L214.2,727.4L212.7,727.0L212.1,726.6L211.1,725.7L210.5,725.0L209.6,723.0L209.2,721.0L208.9,719.0L208.2,716.0L208.1,715.8L207.1,715.1L206.0,715.6L205.6,716.0L204.8,717.0L204.5,718.0L204.6,719.0L205.0,720.1L206.6,723.0L207.7,726.0L208.1,728.4L208.2,729.9L208.3,732.9L208.1,736.2L207.8,737.9L195.9,737.8L194.9,736.9L195.0,734.9L195.6,730.9L196.2,728.0L197.0,725.0L198.7,720.0L198.8,719.0L198.6,718.0L197.9,716.9L196.9,715.8L195.9,714.8L194.0,713.1L189.8,709.9L187.8,708.9L185.7,708.2L184.7,708.1L183.6,708.1L182.7,708.3L181.7,708.7L180.7,709.2L179.5,710.1L177.3,712.1L171.3,718.0L170.0,720.0L169.1,722.0L168.5,724.1L168.1,726.0L167.9,728.0L167.9,729.9L168.1,731.9L168.6,733.9L169.0,734.9L169.7,735.9L170.9,736.9L171.5,737.2L172.6,737.6L173.9,737.9L173.6,737.9L128.8,737.9L128.9,737.9L130.9,737.5L133.0,736.9L133.0,736.9L134.4,735.9L135.1,734.9L135.5,733.9L135.9,731.9L135.9,729.9L135.7,728.0L135.3,726.0L134.9,725.0L134.0,723.3L133.8,723.0L132.9,722.0L131.5,721.0L130.9,720.7L128.9,719.9L126.9,719.6L124.9,719.4L121.8,719.4L118.8,719.7L116.7,720.1L114.7,720.7L112.7,721.6L111.7,722.2L109.6,723.6L108.1,725.0L106.6,726.4L104.6,727.8L103.5,728.2L102.5,728.3L101.5,728.2L99.5,727.7L97.4,727.0L95.4,726.6L94.4,726.7L92.4,727.0L89.3,727.8L88.3,727.9L87.3,727.9L86.3,727.7L85.3,727.4L84.3,727.0L82.8,726.0L77.7,722.0L76.1,721.2L74.1,720.5L71.8,720.0L70.1,719.8L67.0,719.7L64.0,719.9L60.9,720.2L58.9,720.7L56.9,721.3L54.8,722.2L53.5,723.0L52.3,724.0L50.8,725.5L48.7,728.1L47.1,729.9L45.8,730.9L45.7,731.0L44.7,731.6L43.7,732.0L42.7,732.2L41.6,732.1L41.3,731.9L40.6,731.4L40.3,730.9L39.6,729.5L38.7,727.0L38.6,726.6L38.6,625.1L40.2,624.8L40.6,624.5L41.4,623.8L41.7,622.8L41.6,620.8L41.8,619.8L42.4,618.8L43.7,617.7L45.8,616.8L48.7,616.2L52.8,615.6L55.9,615.2L58.9,614.6L61.3,613.8L63.0,613.2L77.2,607.1L82.2,604.8L84.7,603.9L86.3,603.5L89.3,603.1L100.1,601.9L101.5,601.5L103.5,600.7L107.6,598.7L109.6,598.1L112.7,597.6L116.7,597.0L119.8,596.3L127.8,594.0L128.9,593.8L130.9,593.8L133.0,594.0L135.0,594.4L141.1,596.0L143.1,596.1L144.4,596.0L145.2,595.7L146.3,595.0L147.0,594.0L147.3,593.0L147.5,591.0L147.5,589.0L147.1,586.1L146.3,581.1L146.1,580.1L146.2,580.1M97.5,736.8L98.5,736.6L99.5,736.5L100.5,736.5L101.5,736.6L104.6,737.4L106.3,737.9L95.0,737.9L95.4,737.6L96.4,737.1L97.5,736.8M114.7,737.9L117.4,737.9L114.3,737.9L114.7,737.9M185.7,737.9L190.9,737.9L185.3,737.9L185.7,737.9L0.0,0.0" fill="#fffaf9" fill-rule="evenodd"/><path d="M149.2,580.1L163.9,580.1L167.0,581.1L169.0,582.1L171.5,583.8L172.6,584.3L173.6,584.1L174.6,582.7L174.8,582.1L175.0,580.1L230.4,580.1L230.4,696.6L228.4,696.2L227.4,696.2L226.3,696.4L224.3,697.3L221.3,698.6L219.2,699.2L216.2,699.9L210.1,701.2L207.0,702.2L203.0,703.8L200.0,704.9L197.9,705.4L196.9,705.4L194.9,705.2L191.8,704.4L186.8,702.8L181.5,701.2L179.7,700.2L178.6,699.5L178.3,699.2L177.5,698.2L176.3,696.2L175.2,694.2L174.4,693.2L173.6,692.7L172.6,692.7L171.5,693.3L170.5,694.5L168.5,697.4L167.5,698.5L166.5,699.3L165.5,699.8L164.4,700.0L163.4,700.2L162.4,700.1L161.4,699.9L160.4,699.6L159.4,699.1L158.0,698.2L157.0,697.2L156.2,696.2L155.0,694.2L151.2,686.9L150.0,685.3L148.2,683.2L145.7,680.3L144.1,678.3L141.1,674.0L140.1,673.0L139.1,672.2L137.4,671.4L136.0,671.0L134.0,670.9L132.0,671.2L130.9,671.5L128.9,672.5L121.8,676.6L116.7,678.8L110.7,681.4L107.6,682.7L104.6,683.7L96.4,685.9L94.4,686.8L90.4,688.7L88.3,689.4L86.3,689.9L83.4,690.2L81.2,690.4L73.1,690.7L70.1,691.1L66.0,691.9L59.9,693.0L47.7,694.5L44.7,695.3L39.4,697.2L38.6,697.5L38.6,635.0L42.0,633.7L45.7,632.1L48.7,630.6L53.9,627.7L59.1,624.8L63.0,622.7L67.0,620.4L70.1,618.5L73.1,616.6L76.3,614.8L82.3,611.9L87.3,609.1L89.3,608.2L91.4,607.6L94.4,606.8L104.0,604.9L105.6,604.3L107.6,603.4L113.7,600.3L116.7,599.3L124.9,596.6L127.3,596.0L128.9,595.8L130.9,595.8L133.0,596.2L135.5,597.0L142.1,599.3L144.1,599.8L146.2,600.0L147.6,599.9L148.2,599.9L149.2,599.5L150.2,598.9L150.8,598.0L151.2,597.0L151.3,596.0L151.1,594.0L150.6,591.0L148.7,581.1L148.6,580.1L149.2,580.1L149.2,580.1L0.0,0.0" fill="#fff0ee" fill-rule="evenodd"/><path d="M152.3,580.1L158.6,580.1L162.7,581.1L164.4,581.7L165.5,582.2L166.8,583.1L167.9,584.1L169.5,586.1L171.0,588.0L171.5,588.6L172.6,589.2L173.6,589.3L174.6,588.8L175.6,587.6L176.4,586.1L176.7,585.1L177.1,583.1L177.3,581.1L177.2,580.1L230.4,580.1L230.4,684.2L229.0,683.3L226.8,682.3L224.3,681.5L217.2,679.3L215.9,678.3L214.9,676.4L213.9,674.4L213.1,673.1L212.1,671.9L211.1,671.0L210.1,670.3L208.1,669.6L207.1,669.4L206.0,669.6L205.0,670.1L204.7,670.4L204.5,671.4L204.7,672.4L205.1,673.4L206.0,674.7L207.1,675.8L208.1,676.6L210.1,677.9L213.1,679.4L214.4,680.3L215.0,681.3L215.3,682.3L215.6,684.3L215.8,686.3L215.7,688.3L215.4,690.2L215.0,691.2L214.2,692.7L213.8,693.2L212.8,694.2L211.1,695.3L209.1,696.4L205.0,698.2L201.0,699.7L198.9,700.3L196.9,700.6L194.9,700.7L192.9,700.5L189.8,699.9L187.4,699.2L185.7,698.6L184.7,698.1L183.4,697.2L182.3,696.2L181.5,695.2L180.3,693.2L179.2,690.2L178.5,688.3L177.6,686.8L176.6,685.6L175.6,685.0L174.6,684.6L173.6,684.5L172.6,684.6L171.5,684.8L170.5,685.3L169.0,686.3L167.5,687.6L164.4,690.8L163.4,691.4L162.4,691.6L161.2,691.2L160.4,690.7L159.2,689.3L158.1,687.3L155.0,681.3L153.0,678.3L150.4,674.4L149.2,672.0L147.0,667.4L146.2,666.3L145.0,665.4L144.1,665.0L143.1,664.7L141.1,664.4L139.1,664.3L136.0,664.5L133.0,664.9L129.9,665.6L127.7,666.4L125.5,667.4L123.8,668.4L120.8,670.4L116.4,673.4L113.7,675.0L110.7,676.6L107.6,677.8L104.6,678.8L100.5,679.7L96.4,680.6L94.3,681.3L91.4,682.5L86.3,684.8L84.3,685.5L82.2,685.9L79.2,686.3L69.9,687.3L56.9,689.4L45.7,690.6L42.5,691.2L39.0,692.2L38.6,692.4L38.6,640.3L43.9,637.7L55.2,631.7L60.8,628.7L64.0,627.2L70.1,624.4L73.1,622.7L84.4,615.8L89.3,612.8L91.4,611.7L93.4,610.8L96.2,609.9L99.5,609.0L104.6,607.7L106.9,606.9L109.1,605.9L111.7,604.5L115.7,602.2L118.3,600.9L122.8,599.2L124.9,598.5L126.9,598.1L128.9,597.9L130.9,598.0L133.0,598.5L135.0,599.3L141.1,601.7L144.1,602.6L146.2,603.0L148.2,603.3L150.2,603.3L151.9,602.9L152.3,602.8L153.8,601.9L154.7,600.9L155.2,599.9L155.3,599.0L155.2,598.0L154.8,596.0L152.5,588.0L151.9,585.1L151.7,583.1L151.7,581.1L152.1,580.1L152.3,580.1M155.1,629.7L152.8,630.7L151.2,631.6L149.7,632.7L148.7,633.7L147.2,635.4L143.9,639.6L141.7,641.6L139.5,643.6L138.6,644.6L137.9,645.6L137.4,646.6L137.0,647.9L136.9,648.6L136.9,649.6L137.0,651.0L137.5,652.5L138.1,653.8L139.1,655.2L140.1,656.1L142.1,657.3L147.2,659.1L148.2,659.8L151.2,662.7L152.4,663.5L154.6,664.4L156.3,665.0L158.7,665.4L160.4,665.6L162.4,665.6L164.4,665.4L168.5,664.7L178.6,662.7L183.7,662.1L190.8,661.3L191.8,661.1L193.1,660.5L194.1,659.5L194.6,658.5L194.9,657.5L195.0,656.5L194.9,655.2L194.8,654.5L194.4,653.5L193.7,652.5L192.6,651.5L190.8,650.6L188.8,650.0L186.8,649.8L184.7,650.1L182.7,650.7L178.6,652.2L175.6,653.0L173.6,653.3L170.5,653.4L166.5,653.1L162.4,652.9L159.4,653.1L154.3,653.5L153.3,653.3L152.3,652.3L152.0,651.5L151.9,650.6L151.9,649.6L152.3,648.0L152.4,647.6L153.3,645.6L155.2,641.6L155.6,640.6L156.6,637.7L158.7,629.7L158.3,629.2L157.3,629.1L155.3,629.6L155.1,629.7M208.2,642.6L208.1,642.6L207.1,643.0L205.9,643.6L204.8,644.6L204.3,645.6L204.2,646.6L205.0,647.7L206.0,648.1L207.1,648.4L209.1,648.5L211.1,648.3L213.1,647.9L214.2,647.6L215.9,646.6L216.5,645.6L216.6,644.6L215.8,643.6L215.2,643.2L213.7,642.6L212.1,642.4L210.1,642.3L208.2,642.6L208.2,642.6L0.0,0.0" fill="#fbc8c0" fill-rule="evenodd"/><path d="M179.7,580.1L230.4,580.1L230.4,679.6L224.3,677.2L222.3,676.1L220.3,674.6L219.0,673.4L216.1,670.4L214.2,668.9L212.1,667.6L210.1,666.6L207.1,665.4L204.5,664.4L203.0,663.6L202.8,663.5L201.8,662.5L201.3,661.5L201.0,660.4L200.8,659.5L201.0,657.8L201.0,657.5L201.3,656.5L202.0,655.3L203.0,654.2L204.0,653.5L206.0,652.8L208.1,652.3L217.2,650.5L219.8,649.6L221.6,648.6L222.8,647.6L223.6,646.6L224.1,645.6L224.3,644.6L224.3,643.4L224.1,642.6L223.3,641.4L222.3,640.5L220.5,639.6L219.2,639.3L217.2,638.8L215.2,638.6L212.1,638.4L209.1,638.5L207.1,638.7L205.0,639.1L203.0,639.7L200.7,640.6L197.9,642.3L195.6,643.6L194.9,643.9L192.9,644.4L185.9,645.6L184.7,646.0L181.7,647.2L177.6,649.0L175.6,649.6L173.6,650.0L171.5,650.1L169.5,650.0L166.8,649.6L165.5,649.2L163.3,648.6L161.4,647.7L161.2,647.6L160.1,646.6L159.5,645.6L159.3,644.6L159.2,642.6L159.4,640.5L159.7,638.6L160.4,636.4L161.2,634.7L162.4,632.8L165.5,628.7L166.0,627.7L166.3,626.7L166.3,625.7L165.8,624.8L165.5,624.4L164.4,623.7L163.4,623.4L162.4,623.3L160.4,623.3L158.3,623.8L156.0,624.8L154.3,625.8L149.9,628.7L148.2,630.1L146.5,631.7L144.9,633.7L142.1,637.3L140.8,638.6L137.0,642.2L135.9,643.6L134.9,645.6L134.3,647.6L134.0,649.6L133.9,652.5L133.9,655.5L133.8,656.5L133.5,657.5L133.0,658.6L132.0,659.6L129.9,660.9L122.6,664.4L119.8,666.3L116.7,668.5L112.8,671.4L110.7,672.8L108.6,673.8L106.6,674.7L103.5,675.8L99.5,676.9L93.6,678.3L90.4,679.4L83.3,682.1L80.2,682.8L76.1,683.3L70.1,684.1L64.0,685.2L58.9,686.1L51.8,687.0L45.7,687.8L41.6,688.6L38.6,689.4L38.6,689.3L38.6,644.8L41.6,643.1L50.8,637.7L63.0,631.1L67.0,629.2L74.7,625.7L78.3,623.8L83.3,620.6L90.6,615.8L93.4,614.3L96.4,612.9L99.5,611.9L108.6,609.1L111.2,607.9L113.7,606.5L119.8,602.9L122.8,601.6L124.9,600.8L126.9,600.4L128.9,600.2L130.9,600.5L133.0,601.1L141.1,604.2L145.2,605.3L148.2,605.8L150.2,605.9L152.3,605.8L154.3,605.2L155.3,604.8L157.3,603.6L158.3,602.8L159.1,601.9L159.6,600.9L159.7,599.9L159.4,598.5L159.2,598.0L158.2,596.0L156.3,592.2L155.5,590.0L154.9,588.0L154.6,586.1L154.6,585.1L154.8,584.1L155.3,582.9L156.3,582.2L157.3,582.0L159.4,582.0L161.4,582.3L163.5,583.1L165.0,584.1L166.0,585.1L166.7,586.1L167.8,588.0L169.5,591.7L170.5,592.9L171.5,593.6L172.6,593.7L173.6,593.6L174.6,593.0L175.7,592.0L176.6,590.8L177.6,588.9L178.3,587.0L178.7,585.1L179.0,583.1L179.1,581.1L179.0,580.1L179.7,580.1M180.7,666.4L183.7,666.2L186.8,666.2L189.8,666.6L191.8,667.0L193.9,667.6L195.5,668.4L195.9,668.7L196.9,669.6L198.2,671.4L201.0,675.4L203.5,678.3L206.1,681.3L207.4,683.3L208.1,684.7L208.3,685.3L208.5,686.3L208.6,687.3L208.5,688.3L208.3,689.3L207.9,690.2L207.1,691.5L206.0,692.5L205.0,693.2L203.0,694.4L201.0,695.2L198.9,695.9L196.9,696.4L194.9,696.6L192.9,696.6L190.8,696.4L188.8,695.8L187.3,695.2L186.8,694.9L185.7,694.2L184.7,693.1L184.2,692.2L183.7,691.0L183.3,689.3L182.2,683.3L181.7,682.2L180.7,681.0L179.7,680.3L178.6,679.8L176.6,679.1L174.6,678.8L172.6,678.6L169.5,678.7L166.5,678.7L164.9,678.3L164.4,678.1L163.4,677.3L162.9,676.4L162.7,675.4L162.7,674.4L163.1,673.4L163.8,672.4L165.5,671.0L166.5,670.4L169.5,668.9L171.5,668.2L174.6,667.4L177.6,666.8L180.7,666.4L180.7,666.4L0.0,0.0" fill="#f4a090" fill-rule="evenodd"/><path d="M181.7,580.1L230.4,580.1L230.4,639.8L230.4,639.6L229.4,638.4L228.3,637.7L226.3,636.8L225.3,636.5L223.3,636.1L220.3,635.7L217.2,635.6L213.1,635.6L208.1,635.8L204.0,636.1L200.6,636.7L197.9,637.4L195.9,638.1L187.1,641.6L184.6,642.6L180.5,644.6L177.6,645.9L175.6,646.6L173.6,647.0L171.5,647.1L169.5,646.8L167.5,646.3L166.1,645.6L164.7,644.6L163.8,643.6L163.3,642.6L162.9,641.6L162.8,640.6L162.8,639.6L162.9,638.6L163.1,637.7L163.4,636.6L164.4,634.8L165.2,633.7L168.5,629.5L169.5,627.7L169.9,626.7L170.1,625.7L170.1,624.8L169.9,623.8L169.2,622.8L167.9,621.8L166.5,621.2L164.4,620.8L162.4,620.7L160.4,620.8L158.3,621.2L156.2,621.8L154.0,622.8L152.3,623.8L149.2,625.9L146.8,627.7L145.2,629.2L143.7,630.7L138.8,636.7L135.0,640.3L134.0,641.6L132.9,643.6L132.2,645.6L131.5,648.6L130.6,652.5L129.9,654.5L128.9,656.0L127.9,657.0L126.9,657.8L124.9,659.0L119.8,661.9L117.5,663.5L114.7,665.7L110.7,668.9L108.4,670.4L106.6,671.4L104.6,672.4L101.5,673.5L97.5,674.6L90.4,676.4L85.3,678.1L82.2,679.0L79.2,679.7L75.1,680.4L67.0,681.6L50.8,684.4L43.7,685.5L39.6,686.4L38.6,686.7L38.6,648.7L40.6,647.6L43.8,645.6L50.8,641.1L55.9,638.2L66.0,632.7L70.2,630.7L78.2,627.1L81.2,625.5L84.3,623.5L91.4,618.7L94.4,617.0L97.5,615.6L100.5,614.5L104.6,613.2L110.7,611.4L114.8,609.9L118.8,608.2L121.2,606.9L125.9,604.4L127.8,603.9L127.9,603.9L129.4,603.9L130.9,604.2L138.1,605.9L143.1,607.0L147.2,608.0L149.2,608.3L151.2,608.4L153.3,608.1L155.3,607.5L157.3,606.7L160.4,605.2L162.6,603.9L165.5,601.9L167.5,600.3L168.5,599.8L173.6,597.8L174.8,597.0L175.9,596.0L176.7,595.0L178.0,593.0L178.9,591.0L179.7,588.8L180.3,586.1L180.7,583.1L180.8,581.1L180.8,580.1L181.7,580.1M159.4,584.9L160.4,584.7L161.4,584.8L162.4,585.2L163.5,586.1L164.4,587.3L164.8,588.0L165.3,590.0L165.4,591.0L165.4,592.0L165.2,593.0L164.8,594.0L164.4,594.4L163.4,594.8L162.4,594.5L161.4,593.9L160.4,592.9L159.0,591.0L158.3,589.5L158.2,589.0L158.0,588.0L157.9,587.0L158.1,586.1L158.3,585.7L159.0,585.1L159.4,584.9M230.4,643.6L230.4,676.2L228.4,675.6L226.3,674.8L224.3,673.7L222.5,672.4L221.3,671.3L218.1,668.4L216.2,667.0L213.7,665.4L211.1,664.0L208.3,662.5L207.1,661.5L206.2,660.5L205.8,659.5L205.8,658.5L206.2,657.5L207.1,656.5L208.6,655.5L210.1,654.9L212.1,654.3L222.3,652.0L224.3,651.2L225.4,650.6L226.8,649.6L227.8,648.6L228.5,647.6L229.7,645.6L230.4,643.6M188.8,675.0L189.8,674.4L190.8,674.4L191.8,674.6L193.9,675.4L195.9,676.7L197.9,678.6L199.4,680.3L200.2,681.3L201.0,682.7L201.2,683.3L201.6,684.3L201.7,685.3L201.7,686.3L201.5,687.3L201.0,688.3L200.0,689.4L198.7,690.2L196.9,691.0L195.9,691.3L193.9,691.6L192.9,691.5L191.6,691.2L190.8,690.9L189.8,690.1L189.3,689.3L188.9,688.3L188.8,687.3L188.8,685.3L189.1,680.3L188.7,677.3L188.6,676.4L188.6,675.4L188.8,675.0L188.8,675.0L0.0,0.0" fill="#e8674c" fill-rule="evenodd"/><path d="M182.7,580.1L230.4,580.1L230.4,633.6L228.4,633.1L225.3,632.7L222.3,632.5L218.2,632.6L210.1,633.0L200.0,633.7L196.9,634.2L194.9,634.8L191.8,635.9L187.8,637.7L183.7,639.6L177.6,642.7L175.6,643.4L174.6,643.7L173.6,643.8L172.6,643.9L170.9,643.6L170.5,643.5L169.5,643.1L168.5,642.5L167.5,641.6L166.9,640.6L166.6,639.6L166.5,638.6L166.6,637.7L166.9,636.7L167.5,635.5L168.7,633.7L171.8,629.7L172.9,627.7L173.8,625.7L174.0,624.8L174.1,623.8L174.1,622.8L173.9,621.8L173.5,620.8L172.6,619.7L171.5,619.1L170.5,618.8L168.5,618.5L165.5,618.4L160.4,618.5L157.3,618.7L155.3,619.1L153.3,619.9L151.2,621.0L145.2,625.1L143.0,626.7L140.9,628.7L136.5,633.7L132.5,637.7L131.8,638.6L130.8,640.6L129.9,643.1L129.1,646.6L128.6,648.6L127.8,650.6L126.9,652.3L125.9,653.5L124.8,654.5L122.8,655.8L116.7,659.5L113.7,661.8L107.6,666.8L105.2,668.4L102.5,669.8L100.5,670.7L97.5,671.7L93.4,672.7L86.3,674.4L77.2,676.8L73.1,677.6L59.9,679.6L39.6,683.6L38.6,683.8L38.6,652.4L42.1,650.6L44.7,648.9L53.8,642.6L58.9,639.6L69.0,634.1L72.1,632.7L81.2,628.7L84.3,627.0L87.3,624.9L91.9,621.8L94.4,620.4L96.4,619.4L99.5,618.2L102.5,617.2L106.6,616.1L109.6,615.4L112.7,615.0L114.7,615.0L115.7,615.1L116.7,615.4L117.8,615.8L119.8,617.0L122.5,618.8L123.8,619.5L124.9,619.9L125.9,620.1L126.9,620.2L127.9,620.2L129.1,619.8L129.9,619.2L130.9,618.1L131.6,616.8L132.4,614.8L133.5,611.9L134.2,610.9L135.3,609.9L136.0,609.5L137.0,609.2L139.1,609.0L141.1,609.1L144.1,609.7L149.2,611.0L151.2,611.2L152.3,611.1L154.3,610.6L156.3,609.9L163.6,606.9L170.5,604.7L172.6,603.7L174.6,602.0L176.6,599.8L178.0,598.0L179.1,596.0L180.0,594.0L181.0,591.0L181.7,587.9L182.1,585.1L182.5,582.1L182.5,580.1L182.7,580.1M230.4,652.0L230.4,672.8L228.4,672.3L226.3,671.4L224.3,670.0L221.3,667.3L218.2,664.8L213.1,661.1L212.5,660.5L212.0,659.5L212.3,658.5L213.6,657.5L215.2,656.9L217.2,656.3L225.7,654.5L227.4,653.9L228.4,653.4L229.7,652.5L230.4,652.0L230.4,652.0L0.0,0.0" fill="#cd4f38" fill-rule="evenodd"/><path d="M184.7,580.1L230.4,580.1L230.4,629.8L228.4,629.3L226.3,629.0L224.3,628.9L221.3,629.0L217.2,629.5L210.1,630.4L206.0,630.6L196.9,631.1L193.9,631.6L190.8,632.4L187.8,633.5L184.7,634.9L177.6,638.7L175.6,639.3L174.6,639.4L173.6,639.3L172.3,638.6L171.7,637.7L171.7,636.7L172.0,635.7L172.6,634.6L174.7,631.7L176.6,629.0L177.6,627.3L178.4,625.7L182.6,615.8L182.8,614.8L182.9,613.8L182.7,612.6L182.4,611.9L181.3,609.9L180.1,607.9L179.7,606.5L179.5,605.9L179.5,604.9L179.8,602.9L180.7,599.9L181.9,596.0L182.8,592.0L183.6,588.0L184.5,581.1L184.6,580.1L184.7,580.1M162.4,610.8L164.4,610.5L165.5,610.4L166.5,610.5L167.7,610.9L168.9,611.9L169.0,612.8L168.4,613.8L166.5,614.9L164.4,615.3L162.4,615.4L160.4,615.2L159.1,614.8L158.3,613.8L158.8,612.8L160.4,611.7L162.4,610.8M140.1,612.5L141.1,612.4L142.1,612.5L144.1,613.0L146.2,613.8L147.6,614.8L148.3,615.8L148.2,617.0L147.8,617.8L147.1,618.8L146.0,619.8L144.1,621.1L142.1,622.0L141.1,622.3L140.1,622.5L139.1,622.5L138.1,622.1L137.6,621.8L137.0,620.8L136.7,619.8L136.6,618.8L136.7,616.8L137.0,615.5L137.3,614.8L138.1,613.7L139.2,612.8L140.1,612.5M102.5,621.7L106.6,621.2L109.6,621.0L111.7,621.1L113.7,621.5L115.7,622.1L117.8,623.0L120.8,624.8L123.5,626.7L124.9,628.2L125.2,628.7L125.7,629.7L125.9,630.7L126.0,632.7L125.9,637.7L125.9,642.0L125.8,643.6L125.4,645.6L124.8,647.6L123.8,649.3L122.8,650.5L121.8,651.4L120.1,652.5L113.7,656.6L110.7,658.9L105.6,663.0L102.5,665.0L100.1,666.4L97.5,667.7L95.4,668.5L92.4,669.4L82.2,671.7L76.1,673.5L73.1,674.1L70.1,674.5L57.9,675.9L38.6,679.3L38.6,657.1L41.2,655.5L44.7,653.4L47.7,651.2L54.9,645.6L58.0,643.6L65.0,639.6L72.2,635.7L76.1,634.0L84.0,630.7L86.3,629.5L89.3,627.5L93.6,624.8L95.5,623.8L98.0,622.8L99.5,622.4L102.5,621.7M228.4,659.3L230.4,659.0L230.4,667.9L229.4,667.8L228.3,667.4L226.9,666.4L225.3,664.9L224.1,663.5L223.6,662.5L223.5,661.5L224.3,660.4L226.3,659.7L228.4,659.3L228.4,659.3L0.0,0.0" fill="#a84030" fill-rule="evenodd"/><path d="M187.8,580.1L217.4,580.1L219.0,582.1L220.3,583.3L222.4,585.1L226.3,588.2L228.1,590.0L228.8,591.0L229.4,592.1L230.1,594.0L230.4,595.0L230.3,599.9L230.0,600.9L229.4,602.3L228.4,603.6L227.4,604.6L225.7,605.9L224.0,606.9L219.1,609.9L218.0,610.9L217.4,611.9L217.0,612.8L217.1,613.8L217.4,614.8L218.5,616.8L220.3,619.8L220.8,620.8L220.9,621.8L220.5,622.8L219.2,623.9L217.2,625.0L215.2,625.8L211.9,626.7L209.1,627.2L206.0,627.6L202.0,627.7L190.8,627.6L188.8,627.3L187.4,626.7L186.7,625.7L186.6,624.8L186.8,623.7L187.5,621.8L189.0,618.8L190.6,615.8L191.3,613.8L191.5,612.8L191.5,611.9L191.4,610.9L191.1,609.9L190.8,608.9L189.8,607.2L188.8,605.9L186.8,603.5L185.9,601.9L185.6,600.9L185.2,599.0L185.2,597.0L185.4,594.0L185.9,589.0L187.0,583.1L187.8,580.1M97.5,629.7L99.5,629.5L101.5,629.9L104.1,630.7L106.6,631.7L112.0,633.7L112.7,634.0L113.7,634.7L114.7,635.7L115.7,636.9L116.8,638.6L117.8,640.9L118.1,642.6L118.1,643.6L117.8,644.9L117.5,645.6L116.7,646.7L115.7,647.7L113.4,649.6L109.6,652.4L106.6,654.6L104.6,655.9L102.5,656.9L95.4,660.2L93.4,661.6L91.4,663.0L90.4,663.6L88.3,664.6L85.3,665.7L73.1,669.4L71.1,669.7L69.0,669.8L66.0,669.6L57.9,669.0L52.8,668.9L50.8,668.7L49.7,668.4L48.7,668.1L47.6,667.4L46.4,666.4L45.7,665.4L45.3,664.4L45.1,663.5L45.2,662.5L45.7,661.2L46.2,660.5L47.7,658.9L52.8,653.9L55.9,650.4L57.9,648.4L59.9,646.9L62.1,645.6L70.1,641.2L73.1,639.5L76.1,637.9L78.2,637.1L81.2,635.9L89.3,633.0L93.4,631.1L95.4,630.2L97.5,629.7L97.5,629.7L0.0,0.0" fill="#8f3828" fill-rule="evenodd"/><path d="M90.4,643.5L91.6,643.6L92.4,643.8L93.4,644.1L94.4,644.6L95.3,645.6L95.5,646.6L95.1,647.6L93.9,648.6L91.8,649.6L88.3,650.7L85.0,651.5L84.3,651.6L83.8,651.5L83.3,651.2L83.0,650.6L83.1,649.6L83.8,647.6L84.3,646.6L85.3,645.4L86.4,644.6L88.3,643.8L89.4,643.6L90.4,643.5L90.4,643.5L0.0,0.0" fill="#8c3626" fill-rule="evenodd"/>
<path d="M37,579 L108,579 L108,590 L70,590 L65,600 L44,600 L37,592Z" fill="url(#dots)"/>
<path d="M78,619 L100,617 L128,620 L137,628 L137,662 L120,672 L112,684 L60,686 L37,686 L37,640 L60,636Z" fill="url(#dots)"/>
<path d="M180,579 L232,579 L232,630 L185,630 L180,610Z" fill="url(#dots)"/>
<path d="M131,612 L142,612 L142,623 L131,623Z" fill="url(#dots)"/>
<path d="M178,684 L210,684 L210,692 L178,692Z" fill="url(#dots)"/>
<path d="M205,656 L232,656 L232,670 L205,670Z" fill="url(#dots)"/>
<g transform="translate(0,567.80)"><path d="M114,36 L114.6,34.7 L114.8,33.3 L115.1,31.9 L116.6,32 L118,32.4 L119.5,32.2 L121,32.7 L122.7,32.8 L124.5,32.4 L126.1,32.7 L127.6,32.3 L129.3,32 L131.1,32 L132.5,30.9 L134.1,30.6 L135.3,30 L136.8,30 L139.5,29.9 L140.7,28.6 L141.4,27.1M141.4,27.1 L140.6,24.9 L139,23.3 L138.6,21.9 L137.8,20.6 L137.2,19.4 L136.3,18.3 L135.5,17.1 L134.1,15.4 L132.4,13.6 L130.9,12M141.4,27.1 L142.9,26.7 L144.5,27.1 L146,27 L147.8,27.3 L149.5,27.4 L151.1,27.4 L152.6,27.8 L154,28.2 L155.3,28.8 L156.5,29.8 L159,29.9 L160.4,29.5 L161.8,29.7 L163.3,30.5 L164.2,31.9 L165.2,34.2 L166.3,35.1 L166.8,36.5 L168.5,37 L169.6,38.3 L171.2,38.9 L172.3,40.1 L173.8,41 L175.1,42.1 L176.1,43.6 L177.7,44.6 L178.8,46.1M178.8,46.1 L179.6,45 L180,43.7 L180.8,42.7 L181.8,41.7 L182.8,40.2 L183.2,38.4 L183.8,36.3 L183.2,34.8 L182.9,33 L182.5,31.4 L182.8,29.7 L183.2,28.4 L183.2,26.9 L184.2,24.6 L185.4,23.9 L186.9,22.7 L188,24.8 L189.7,25.9 L191.8,26.2 L193,27.2 L193.8,28.4 L193.1,29.7 L192.5,31.1 L192.3,32.4 L192.1,33.8 L192.6,35 L194,34.9 L195.5,35.1 L197.1,35.1 L198.6,34.7 L200,34 L201.6,33.8 L203.1,33.1 L204.3,32 L204.6,30.4 L205.6,29.1 L206.5,28 L207.3,26.8 L208.3,25.5 L209.4,24.4 L210.3,23.4 L210.9,22.3 L212.3,20.5 L211.9,18.7 L210.5,17.9 L209,17.7 L207.4,17.7 L205.8,17.4 L204,15.5 L202.7,14.2 L203.7,12M178.8,46.1 L178.8,47.8 L178.4,49.2 L177.4,50.3 L176,51.4 L176.2,53.1 L175.2,54.7 L176.2,55.9 L176.2,57.3 L176.3,58.6 L175.4,59.7 L175.2,61.2 L172.9,61.9 L173.5,64 L175,65.6 L173.8,66.7 L173.4,68.2 L171.8,70.2 L171,71.4 L169.4,71.7 L168.7,73 L167.1,73.7 L165.8,74.8 L164.5,75.7 L163.5,77M175.4,59.5 L176.8,60.3 L178.6,60.2 L180.2,61.2 L182.1,61.1 L183.8,61.6 L185.4,62.2 L186.9,62.5 L188.3,62.8 L189.7,63.1 L191.3,63.1 L193,63.8 L194.3,64 L195.8,64.2 L196.8,65.2 L198.6,65.8 L200,67 L200.9,65.9 L202.1,65.1 L203,64.1 L204.5,63 L205.8,61.7 L207.4,61.3 L208.9,60.8 L210.4,60.5 L211.9,60.1 L213.3,60.8 L214.1,62.2 L215.3,62.9 L216.8,62.5 L218.1,62.7 L219.3,63.1 L221,62.9 L222.5,62.2 L224,61.9 L225.3,62.7 L226.8,62.6 L228,63.5 L229.5,63.6 L231,63.4M231,17 L229.6,16.9 L228.2,16.2 L227.7,17.8 L226.8,18.7 L225.8,19.7 L225.3,20.9 L224.5,22.2 L223.6,23.6 L222.8,25.2 L222.4,26.9 L223.3,27.9 L224.5,28.5 L226,29.1 L227.5,29.6 L229.3,29.7 L231,29M173.2,128.2 L175.6,128 L177.6,126.7 L177.6,124.8 L177.6,123 L177.1,121.1 L176.9,119.3 L178.3,117.2 L180.5,116.1 L182,115.9 L183.6,115.7 L185.2,115 L186.5,114 L187.3,112.8 L188.4,111.9 L189.7,111.3 L190.8,109.7 L192.5,108.8 L194.3,109 L195.9,108.1 L197.4,108.2 L198.8,108.2 L199.9,107.2 L201.3,106 L202.8,104.8 L203.4,103.2 L204.8,102.4 L206.1,101.6 L207,100.5 L207.9,99.4 L208.8,98.3 L210.4,97.7 L211.8,96.8 L212.9,95.9 L213.8,94.9 L215.1,94.2 L215.9,93.2 L216.5,91.9 L217.6,91 L217.8,89.4 L218.5,88 L218.8,86.5 L219.4,85.1 L220.6,84.1 L222,83.5 L223.7,82.9 L225.3,81.9 L226.6,82.6 L228,82.2 L229.5,82.8 L231,82.7M214.9,94 L214.2,95.4 L214,96.9 L214,98.5 L214,100 L214,101.5 L213.4,103 L213.1,104.4 L212.8,105.9 L213,107.6 L213,109.3 L213.2,111 L212.8,112.3 L212.8,113.7 L212.7,115.1 L212.8,116.4 L212.8,117.8 L212.4,119.7 L213.1,121.5 L213.5,123.3 L213.7,125.4 L211.9,124.9 L210.6,125.8 L209,126.8 L208.8,128.3 L208.2,129.6 L207.6,131 L206.6,132.4 L206.6,134.1 L205.5,135.6 L206.5,137 L206.4,138.5 L206.6,140 L206.6,141.6 L206.7,143.1 L207.5,144.5 L208.4,145.6 L209.5,146.5 L210.3,147.9 L211.8,147.7 L213.1,147.1 L214.5,147.6 L216,148.3 L217.8,148.1 L219.3,149 L220.2,150.4 L221.2,151.8 L222.6,152.6 L224.1,153.2 L224.9,155 L226.2,156.3 L227.1,157.3 L228.4,157.8 L229.7,157.7 L231,158M213.4,125.2 L215,125 L216.5,124.8 L217.9,124.3 L219.3,124.2 L220.9,124 L222.5,123.9 L223.9,123.6 L225.2,123.3 L226.6,123.3 L228,122.9 L229.5,123.6 L231,123.4M219.3,149 L219.5,150.7 L218.6,152.3 L218.3,154 L218.4,155.4 L218.4,156.8 L218.3,158.2 L217.7,159.4 L217.2,161.2 L216.3,162.7 L215.3,163.9 L214.5,165.3 L215.5,166.7 L215.2,168.2 L215.1,169.6 L215.6,171M217.9,159.5 L220.1,159.6 L222.3,161 L223.2,162.6 L224.6,164 L225.5,165 L226.7,165.6 L227.8,166.5 L229,167.4 L231,166.5M186.6,162.4 L187.4,163.6 L188.7,164.4 L189.7,165.8 L191.3,166.7 L191.7,168.6 L192.7,169.9 L194,171M174.7,129 L176.2,129.1 L177.4,129.9 L177.5,131.4 L177.8,133 L178,134.4 L177.7,135.7 L177.6,137.1" fill="none" stroke="#000" stroke-width="0.85" stroke-linejoin="round"/><path d="M38,21.4 L39.4,21.5 L40.7,21.9 L42.1,21.5 L43.4,21.6 L44.5,21 L46.2,20.6 L48.5,20.6 L50,20.9 L51.2,19.9 L52.7,20.3 L54,20.2 L55.4,19.9 L56.9,19.6 L58.5,19.5 L59.9,19.1 L61.2,19.4 L62.6,19 L64.6,19.3 L66.6,20.4 L68.7,20.8 L70.3,20.6 L71.8,20.1 L73.2,20.3 L74.5,20.1 L75.7,19.5 L76.9,19.5 L78.2,19.1 L79.5,19.2 L80.7,18.7 L81.9,18.5 L83.2,18.2 L84.5,18 L86,16.9 L88,16.7 L89.8,17.1 L91,18.9 L91.4,20 L91.9,21.2 L91.6,22.4 L92,23.6 L92.4,24.6 L93.7,25.6 L95.2,26.5 L96.2,27.3 L97.1,28 L98,29.1 L98,30.6 L99.1,31.1 L99.9,32.2 L100.4,33.5 L101.4,34.3 L102.3,35 L103.3,35.8 L104.7,36.1 L106.1,36.4 L107.4,36.7 L108.4,37.3 L110.2,38.5 L111.8,39.1 L112.9,40.3 L113.7,41.4 L114.3,42.6 L115.3,43.5 L116.4,44.5 L117.6,45.2 L119.6,46.4 L120.8,46.5 L122,46.9 L123.3,47.4 L124.6,47.8 L126.7,46.5 L128.7,46.4 L130.1,45.7 L131.9,45.6 L133.2,44.7 L134.4,45.3 L133.3,46.4 L132,48.2 L130.7,48.8 L129.6,49.6 L127.7,50.5 L126.3,50.7 L124.9,51 L123.7,51.8 L122.3,52.4 L120.8,52.5 L119.6,53.3 L117.4,54.3 L118.6,56 L119.5,56.9 L120.6,57.6 L121.7,58.6 L122.7,59.7 L123.8,60.6 L124.7,61.7 L125.6,62.8 L126.7,63.8 L127.6,65 L128.6,66 L129.8,67.2 L131.1,68.4 L132.5,69.1 L133.9,69.8 L135,70.8 L136.5,70.7 L137.7,71.2 L138.9,71.3 L140.2,71.3 L141.6,71.2 L142.7,70.5 L144,70 L144.9,69.1 L146,68.3 L147.4,68 L148.6,67.4 L149.6,66.7 L150.8,66.2 L151.6,65.2 L152.6,64.7 L153.7,63.6 L154.2,62.2 L153.6,60.1 L152.5,59.4 L151.4,59 L152.8,58 L154.2,56.4 L153.1,54.3 L155.4,53.4 L157,53.3 L158.5,53.6 L159.7,53.8 L161,54 L162.1,54.1 L161.1,54.8 L159.8,55.2 L158.6,55.5 L157.3,56.9 L157.9,58.3 L159.4,58.4 L160.7,59.1 L162,59.6 L163.4,60 L165,60.1 L163.3,60 L161.9,60.8 L160.5,61.1 L158.9,61 L159.5,62.3 L159.2,63.6 L159.8,64.7 L160.5,65.7 L160.7,67 L161.3,68 L161.6,69.3 L161.8,70.7 L161.9,72 L161.7,73.4 L161.3,74.8 L160.5,76.2 L160.4,77.5 L160.2,78.8 L160.1,80.1 L160,81.4 L160.6,82.5 L161,83.7 L161.1,85 L161.2,86.4 L161.8,87.7 L162.6,88.9 L162.9,90.5 L162.7,92 L162.5,93.7 L162.3,95.4 L162.8,96.8 L162.8,98.2 L162.9,99.6 L163.4,101 L163.6,102.2 L163.6,103.6 L164,104.8 L163.7,106.2 L164.4,107.4 L164.5,108.7 L164.5,110 L165.3,111.2 L165.2,112.5 L165.9,113.7 L165.6,115.2 L166.5,116.4 L166.7,117.7 L166.8,119.1 L167,120.3 L167.6,121.5 L168.3,122.7 L168.7,124.1 L169.5,125.2 L170.4,126.7 L171.4,128.1 L172.3,129.6 L173.3,131.1 L173.9,132.7 L174.4,134.2 L175.2,135.6 L175.8,136.7 L176.2,137.9 L176.8,139.1 L177.3,140.2 L178.4,141.3 L178.7,142.8 L179,144.2 L179.6,145.5 L179.9,146.8 L180.2,148.1 L181.2,149.2 L181.5,150.5 L181.4,151.8 L182.1,153 L182.5,154.2 L182.5,155.6 L183.5,156.8 L183.8,158.2 L184.2,159.6 L184,161.1 L185,162.4 L185.2,164 L185.3,165.6 L186,166.9 L186.6,168.2 L186.7,169.6 L187,171" fill="none" stroke="#000" stroke-width="1.8" stroke-linejoin="round"/><circle cx="163.6" cy="77.4" r="0.9"/><circle cx="176.0" cy="131.5" r="0.6"/></g>
<path d="M61.5,738.7 L67.7,735.5 L68.7,737.4 L71.1,732.8 L66.0,732.1 L66.9,734.0 L60.8,737.1ZM72.8,738.7 L79.0,735.5 L80.0,737.4 L82.3,732.8 L77.2,732.1 L78.2,734.0 L72.0,737.1ZM84.1,738.7 L90.3,735.5 L91.3,737.4 L93.6,732.8 L88.5,732.1 L89.5,734.0 L83.3,737.1ZM95.4,738.7 L101.3,735.7 L102.3,737.6 L104.7,733.1 L99.6,732.3 L100.6,734.2 L94.6,737.1ZM106.6,738.7 L112.3,735.9 L113.3,737.8 L115.8,733.3 L110.7,732.4 L111.6,734.4 L105.9,737.1ZM117.9,738.7 L123.4,736.1 L124.3,738.1 L126.8,733.6 L121.7,732.6 L122.7,734.6 L117.2,737.1ZM129.2,738.7 L134.4,736.3 L135.3,738.3 L137.9,733.8 L132.8,732.8 L133.7,734.8 L128.5,737.1ZM140.5,738.7 L145.4,736.5 L146.3,738.5 L148.9,734.0 L143.9,733.0 L144.8,734.9 L139.8,737.1ZM151.8,738.7 L156.7,736.5 L157.5,738.5 L160.2,734.1 L155.1,733.0 L156.0,735.0 L151.1,737.1ZM163.0,738.7 L167.9,736.6 L168.8,738.5 L171.4,734.1 L166.4,733.0 L167.2,735.0 L162.4,737.1ZM174.3,738.7 L179.2,736.6 L180.0,738.5 L182.7,734.1 L177.6,733.0 L178.5,735.0 L173.6,737.1ZM185.6,738.7 L190.4,736.6 L191.3,738.6 L193.9,734.2 L188.9,733.1 L189.7,735.0 L184.9,737.1ZM196.9,738.7 L201.7,736.6 L202.5,738.6 L205.2,734.2 L200.1,733.1 L201.0,735.1 L196.2,737.1ZM208.2,738.7 L212.9,736.7 L213.7,738.6 L216.4,734.2 L211.4,733.1 L212.2,735.1 L207.5,737.1ZM219.5,738.7 L224.1,736.7 L225.0,738.7 L227.7,734.2 L222.6,733.1 L223.5,735.1 L218.8,737.1ZM230.7,738.7 L235.4,736.7 L236.2,738.7 L238.9,734.3 L233.9,733.2 L234.7,735.1 L230.1,737.1ZM72.8,727.4 L79.2,724.1 L80.2,726.0 L82.6,721.4 L77.4,720.7 L78.4,722.6 L72.0,725.9ZM84.1,727.4 L90.5,724.1 L91.5,726.0 L93.8,721.4 L88.7,720.7 L89.7,722.6 L83.3,725.9ZM95.4,727.4 L101.5,724.3 L102.4,726.3 L104.9,721.7 L99.8,720.9 L100.7,722.8 L94.6,725.9ZM106.6,727.4 L112.5,724.6 L113.4,726.5 L115.9,722.0 L110.8,721.1 L111.7,723.0 L105.9,725.9ZM117.9,727.4 L123.5,724.8 L124.4,726.7 L126.9,722.2 L121.8,721.3 L122.7,723.3 L117.2,725.9ZM129.2,727.4 L134.5,725.0 L135.3,727.0 L137.9,722.5 L132.9,721.5 L133.7,723.5 L128.5,725.9ZM140.5,727.4 L145.4,725.2 L146.3,727.2 L148.9,722.8 L143.9,721.7 L144.8,723.7 L139.8,725.8ZM151.8,727.4 L156.7,725.3 L157.5,727.2 L160.2,722.8 L155.1,721.7 L156.0,723.7 L151.1,725.8ZM163.0,727.4 L167.9,725.3 L168.8,727.3 L171.4,722.8 L166.4,721.8 L167.2,723.7 L162.4,725.8ZM174.3,727.4 L179.2,725.3 L180.0,727.3 L182.7,722.9 L177.6,721.8 L178.5,723.7 L173.6,725.8ZM185.6,727.4 L190.4,725.3 L191.3,727.3 L193.9,722.9 L188.9,721.8 L189.7,723.8 L184.9,725.8ZM196.9,727.4 L201.7,725.4 L202.5,727.3 L205.2,722.9 L200.1,721.8 L201.0,723.8 L196.2,725.8ZM208.2,727.4 L212.9,725.4 L213.7,727.4 L216.4,722.9 L211.4,721.8 L212.2,723.8 L207.5,725.8ZM219.5,727.4 L224.1,725.4 L225.0,727.4 L227.7,723.0 L222.6,721.9 L223.5,723.8 L218.8,725.8ZM230.7,727.4 L235.4,725.4 L236.2,727.4 L238.9,723.0 L233.9,721.9 L234.7,723.9 L230.1,725.8ZM84.1,716.1 L90.5,712.7 L91.5,714.6 L93.8,709.9 L88.7,709.3 L89.7,711.2 L83.3,714.6ZM95.4,716.1 L101.5,712.9 L102.5,714.8 L104.8,710.3 L99.7,709.5 L100.7,711.4 L94.6,714.6ZM106.7,716.1 L112.5,713.2 L113.5,715.1 L115.9,710.6 L110.8,709.8 L111.7,711.7 L105.9,714.6ZM117.9,716.1 L123.5,713.5 L124.4,715.4 L126.9,710.9 L121.8,710.0 L122.7,711.9 L117.2,714.6ZM129.2,716.1 L134.5,713.7 L135.4,715.7 L137.9,711.2 L132.9,710.2 L133.8,712.2 L128.5,714.6ZM140.5,716.1 L145.4,714.0 L146.3,715.9 L148.9,711.5 L143.9,710.4 L144.8,712.4 L139.8,714.6ZM151.8,716.1 L156.7,714.0 L157.5,716.0 L160.2,711.5 L155.1,710.5 L156.0,712.4 L151.1,714.6ZM163.0,716.1 L167.9,714.0 L168.8,716.0 L171.4,711.6 L166.4,710.5 L167.2,712.5 L162.4,714.6ZM174.3,716.1 L179.2,714.0 L180.0,716.0 L182.7,711.6 L177.6,710.5 L178.5,712.5 L173.6,714.6ZM185.6,716.1 L190.4,714.1 L191.3,716.0 L193.9,711.6 L188.9,710.5 L189.7,712.5 L184.9,714.6ZM196.9,716.1 L201.7,714.1 L202.5,716.1 L205.2,711.6 L200.1,710.5 L201.0,712.5 L196.2,714.6ZM208.2,716.1 L212.9,714.1 L213.7,716.1 L216.4,711.7 L211.4,710.6 L212.2,712.5 L207.5,714.6ZM219.5,716.1 L224.1,714.1 L225.0,716.1 L227.7,711.7 L222.6,710.6 L223.5,712.6 L218.8,714.6ZM230.7,716.1 L235.4,714.2 L236.2,716.1 L238.9,711.7 L233.9,710.6 L234.7,712.6 L230.1,714.6ZM117.9,704.8 L123.4,702.2 L124.3,704.1 L126.8,699.6 L121.7,698.7 L122.6,700.7 L117.2,703.3ZM129.2,704.9 L134.4,702.4 L135.4,704.3 L137.9,699.8 L132.8,698.9 L133.7,700.8 L128.5,703.3ZM140.5,704.9 L145.5,702.5 L146.4,704.5 L148.9,700.0 L143.9,699.1 L144.8,701.0 L139.8,703.3ZM151.8,704.9 L156.5,702.7 L157.4,704.6 L159.9,700.1 L154.8,699.2 L155.7,701.1 L151.1,703.3ZM163.1,704.9 L167.7,702.7 L168.6,704.6 L171.2,700.1 L166.1,699.2 L167.0,701.1 L162.3,703.3ZM174.3,704.9 L179.0,702.7 L179.9,704.6 L182.5,700.1 L177.4,699.2 L178.3,701.1 L173.6,703.3ZM185.6,704.9 L190.3,702.7 L191.2,704.6 L193.8,700.1 L188.7,699.2 L189.6,701.1 L184.9,703.3ZM196.9,704.9 L201.6,702.7 L202.5,704.6 L205.0,700.1 L200.0,699.2 L200.9,701.1 L196.2,703.3ZM208.2,704.9 L212.9,702.7 L213.8,704.6 L216.3,700.1 L211.3,699.2 L212.2,701.1 L207.5,703.3ZM219.5,704.9 L224.2,702.7 L225.1,704.6 L227.6,700.1 L222.5,699.2 L223.4,701.1 L218.8,703.3ZM230.8,704.9 L235.4,702.7 L236.4,704.6 L238.9,700.1 L233.8,699.2 L234.7,701.1 L230.0,703.3ZM117.9,693.6 L122.9,691.0 L123.9,693.0 L126.3,688.4 L121.2,687.6 L122.2,689.5 L117.2,692.1ZM129.2,693.6 L134.1,691.1 L135.1,693.1 L137.5,688.5 L132.4,687.7 L133.4,689.6 L128.5,692.1ZM140.5,693.6 L145.3,691.2 L146.2,693.2 L148.7,688.6 L143.6,687.8 L144.6,689.7 L139.8,692.0ZM151.9,693.5 L156.0,690.9 L157.2,692.7 L159.1,688.0 L154.0,687.7 L155.1,689.5 L151.0,692.1ZM163.1,693.5 L167.3,690.9 L168.5,692.7 L170.4,688.0 L165.2,687.7 L166.4,689.5 L162.2,692.1ZM174.4,693.5 L178.6,690.9 L179.7,692.7 L181.7,688.0 L176.5,687.7 L177.7,689.5 L173.5,692.1ZM185.7,693.5 L189.9,690.9 L191.0,692.7 L193.0,688.0 L187.8,687.7 L189.0,689.5 L184.8,692.1ZM197.0,693.5 L201.2,690.9 L202.3,692.7 L204.3,688.0 L199.1,687.7 L200.2,689.5 L196.1,692.1ZM208.3,693.5 L212.4,690.9 L213.6,692.7 L215.5,688.0 L210.4,687.7 L211.5,689.5 L207.4,692.1ZM219.6,693.5 L223.7,690.9 L224.9,692.7 L226.8,688.0 L221.7,687.7 L222.8,689.5 L218.7,692.1ZM230.9,693.5 L235.0,690.9 L236.2,692.7 L238.1,688.0 L233.0,687.7 L234.1,689.5 L229.9,692.1ZM39.0,682.3 L43.5,680.0 L44.4,682.0 L46.8,677.4 L41.7,676.6 L42.7,678.5 L38.2,680.8ZM50.2,682.3 L54.8,680.0 L55.7,682.0 L58.1,677.4 L53.0,676.6 L54.0,678.5 L49.5,680.8ZM61.5,682.3 L66.0,680.0 L67.0,682.0 L69.4,677.4 L64.3,676.6 L65.3,678.5 L60.8,680.8ZM72.8,682.3 L77.3,680.0 L78.3,682.0 L80.7,677.4 L75.6,676.6 L76.6,678.5 L72.0,680.8ZM84.1,682.3 L88.6,680.0 L89.6,682.0 L92.0,677.4 L86.9,676.6 L87.8,678.5 L83.3,680.8ZM95.4,682.3 L99.9,680.0 L100.9,682.0 L103.3,677.4 L98.2,676.6 L99.1,678.5 L94.6,680.8ZM106.7,682.3 L111.2,680.0 L112.1,682.0 L114.5,677.4 L109.4,676.6 L110.4,678.5 L105.9,680.8ZM117.9,682.3 L122.5,680.0 L123.4,682.0 L125.8,677.4 L120.7,676.6 L121.7,678.5 L117.2,680.8ZM129.2,682.3 L133.7,680.0 L134.7,682.0 L137.1,677.4 L132.0,676.6 L133.0,678.5 L128.5,680.8ZM140.7,682.2 L143.7,679.4 L145.2,681.0 L146.2,675.9 L141.1,676.6 L142.5,678.1 L139.5,680.9ZM152.0,682.2 L155.0,679.4 L156.4,681.0 L157.5,675.9 L152.4,676.6 L153.8,678.1 L150.8,680.9ZM163.3,682.2 L166.3,679.4 L167.7,681.0 L168.8,675.9 L163.6,676.6 L165.1,678.1 L162.1,680.9ZM174.6,682.2 L177.5,679.4 L179.0,681.0 L180.1,675.9 L174.9,676.6 L176.4,678.1 L173.4,680.9ZM185.8,682.2 L188.8,679.4 L190.3,681.0 L191.3,675.9 L186.2,676.6 L187.7,678.1 L184.7,680.9ZM197.1,682.2 L200.1,679.4 L201.6,681.0 L202.6,675.9 L197.5,676.6 L199.0,678.1 L196.0,680.9ZM208.4,682.2 L211.4,679.4 L212.9,681.0 L213.9,675.9 L208.8,676.6 L210.2,678.1 L207.3,680.9ZM219.7,682.2 L222.7,679.4 L224.1,681.0 L225.2,675.9 L220.1,676.6 L221.5,678.1 L218.5,680.9ZM231.0,682.2 L234.0,679.4 L235.4,681.0 L236.5,675.9 L231.4,676.6 L232.8,678.1 L229.8,680.9ZM39.0,671.0 L42.0,669.4 L43.0,671.3 L45.3,666.7 L40.2,666.0 L41.2,667.9 L38.2,669.5ZM50.3,671.0 L53.2,669.4 L54.3,671.3 L56.6,666.7 L51.5,666.0 L52.5,667.9 L49.5,669.5ZM61.5,671.0 L64.5,669.4 L65.5,671.3 L67.9,666.7 L62.7,666.0 L63.7,667.9 L60.7,669.5ZM72.8,671.0 L75.8,669.4 L76.8,671.3 L79.1,666.7 L74.0,666.0 L75.0,667.9 L72.0,669.5ZM84.1,671.0 L87.1,669.4 L88.1,671.3 L90.4,666.7 L85.3,666.0 L86.3,667.9 L83.3,669.5ZM95.4,671.0 L98.4,669.4 L99.4,671.3 L101.7,666.7 L96.6,666.0 L97.6,667.9 L94.6,669.5ZM106.7,671.0 L109.7,669.4 L110.7,671.3 L113.0,666.7 L107.9,666.0 L108.9,667.9 L105.9,669.5ZM118.0,671.0 L121.0,669.4 L122.0,671.3 L124.3,666.7 L119.2,666.0 L120.2,667.9 L117.2,669.5ZM129.2,671.0 L132.2,669.4 L133.2,671.3 L135.6,666.7 L130.4,666.0 L131.4,667.9 L128.4,669.5ZM140.8,670.7 L142.9,667.6 L144.7,668.8 L144.6,663.7 L139.7,665.5 L141.5,666.7 L139.4,669.8ZM152.1,670.7 L154.2,667.6 L156.0,668.8 L155.8,663.7 L151.0,665.5 L152.8,666.7 L150.7,669.8ZM163.4,670.7 L165.5,667.6 L167.3,668.8 L167.1,663.7 L162.3,665.5 L164.1,666.7 L162.0,669.8ZM174.7,670.7 L176.8,667.6 L178.6,668.8 L178.4,663.7 L173.6,665.5 L175.4,666.7 L173.3,669.8ZM186.0,670.7 L188.1,667.6 L189.8,668.8 L189.7,663.7 L184.9,665.5 L186.6,666.7 L184.6,669.8ZM197.3,670.7 L199.3,667.6 L201.1,668.8 L201.0,663.7 L196.1,665.5 L197.9,666.7 L195.8,669.8ZM208.5,670.7 L210.6,667.6 L212.4,668.8 L212.3,663.7 L207.4,665.5 L209.2,666.7 L207.1,669.8ZM219.8,670.7 L221.9,667.6 L223.7,668.8 L223.5,663.7 L218.7,665.5 L220.5,666.7 L218.4,669.8ZM231.1,670.7 L233.2,667.6 L235.0,668.8 L234.8,663.7 L230.0,665.5 L231.8,666.7 L229.7,669.8ZM39.1,659.7 L40.3,658.8 L41.6,660.5 L41.6,656.7 L38.0,655.7 L39.3,657.4 L38.1,658.3ZM50.4,659.7 L51.6,658.7 L52.9,660.4 L52.9,656.6 L49.2,655.7 L50.6,657.4 L49.3,658.3ZM61.7,659.7 L62.9,658.7 L64.2,660.4 L64.2,656.6 L60.5,655.7 L61.8,657.4 L60.6,658.3ZM73.0,659.7 L74.2,658.7 L75.5,660.3 L75.5,656.5 L71.7,655.7 L73.1,657.3 L71.9,658.3ZM84.3,659.6 L85.5,658.6 L86.9,660.3 L86.8,656.4 L83.0,655.7 L84.4,657.3 L83.2,658.4ZM95.5,659.6 L96.8,658.6 L98.2,660.2 L98.0,656.3 L94.2,655.7 L95.6,657.3 L94.4,658.4ZM106.8,659.6 L108.1,658.5 L109.5,660.1 L109.3,656.3 L105.5,655.7 L106.9,657.3 L105.7,658.4ZM118.1,659.6 L119.4,658.5 L120.8,660.1 L120.6,656.2 L116.7,655.7 L118.2,657.3 L117.0,658.4ZM129.6,659.4 L130.4,658.0 L132.3,659.2 L131.0,655.4 L127.2,656.0 L129.0,657.1 L128.1,658.6ZM140.9,659.3 L141.5,657.5 L143.5,658.2 L141.5,654.7 L137.8,656.4 L139.9,657.0 L139.3,658.7ZM152.2,659.2 L152.6,657.3 L154.7,657.7 L152.2,654.4 L148.8,656.6 L150.9,657.0 L150.6,658.8ZM163.5,659.0 L163.7,657.1 L165.8,657.3 L163.0,654.2 L159.8,656.9 L162.0,657.0 L161.8,659.0ZM174.8,659.0 L174.9,657.1 L177.1,657.3 L174.3,654.2 L171.1,656.9 L173.2,657.0 L173.1,659.0ZM186.1,659.0 L186.2,657.1 L188.4,657.3 L185.5,654.2 L182.4,656.9 L184.5,657.0 L184.4,659.0ZM197.4,659.0 L197.5,657.1 L199.7,657.3 L196.8,654.2 L193.7,656.9 L195.8,657.0 L195.7,659.0ZM208.7,659.0 L208.8,657.1 L210.9,657.3 L208.1,654.2 L204.9,656.9 L207.1,657.0 L207.0,659.0ZM220.0,659.0 L220.1,657.1 L222.2,657.3 L219.4,654.2 L216.2,656.9 L218.4,657.0 L218.3,659.0ZM231.2,659.0 L231.4,657.1 L233.5,657.3 L230.7,654.2 L227.5,656.9 L229.7,657.0 L229.6,659.0ZM38.4,646.9 L36.7,647.2 L36.3,645.1 L34.3,648.6 L37.4,651.0 L37.0,648.9 L38.7,648.6ZM49.7,646.9 L48.1,647.2 L47.7,645.1 L45.8,648.5 L48.8,651.0 L48.4,648.9 L50.0,648.6ZM61.0,646.9 L59.5,647.1 L59.1,645.0 L57.3,648.4 L60.1,650.9 L59.7,648.8 L61.3,648.6ZM72.3,646.9 L70.8,647.1 L70.5,645.0 L68.8,648.3 L71.4,650.9 L71.1,648.8 L72.5,648.6ZM83.6,646.9 L82.2,647.1 L81.9,644.9 L80.3,648.2 L82.7,650.9 L82.5,648.8 L83.8,648.6ZM94.9,646.9 L93.6,647.0 L93.4,644.9 L91.8,648.1 L94.0,650.9 L93.8,648.7 L95.1,648.6ZM106.6,646.9 L105.8,646.6 L106.6,644.6 L104.2,646.8 L104.2,650.1 L105.1,648.1 L105.9,648.5ZM118.3,647.4 L118.0,646.5 L119.9,645.7 L116.6,645.6 L114.4,648.1 L116.4,647.2 L116.8,648.1ZM129.7,647.6 L129.5,646.5 L131.7,646.2 L128.5,645.1 L125.7,647.1 L127.8,646.8 L128.0,647.9ZM141.0,647.7 L140.9,646.4 L143.1,646.3 L140.0,644.6 L137.1,646.6 L139.2,646.5 L139.3,647.8ZM152.3,647.7 L152.2,646.4 L154.3,646.3 L151.2,644.6 L148.3,646.6 L150.5,646.5 L150.6,647.8ZM163.5,647.7 L163.5,646.4 L165.6,646.3 L162.5,644.6 L159.6,646.6 L161.8,646.5 L161.8,647.8ZM174.8,647.7 L174.8,646.4 L176.9,646.3 L173.8,644.6 L170.9,646.6 L173.1,646.5 L173.1,647.8ZM186.1,647.7 L186.0,646.4 L188.2,646.3 L185.1,644.6 L182.2,646.6 L184.3,646.5 L184.4,647.8ZM197.4,647.7 L197.3,646.4 L199.5,646.3 L196.4,644.6 L193.5,646.6 L195.6,646.5 L195.7,647.8ZM208.7,647.7 L208.6,646.4 L210.8,646.3 L207.7,644.6 L204.8,646.6 L206.9,646.5 L207.0,647.8ZM220.0,647.7 L219.9,646.4 L222.0,646.3 L218.9,644.6 L216.1,646.6 L218.2,646.5 L218.3,647.8ZM231.2,647.7 L231.2,646.4 L233.3,646.3 L230.2,644.6 L227.3,646.6 L229.5,646.5 L229.6,647.8ZM38.4,635.6 L33.8,636.8 L33.3,634.7 L30.0,638.7 L34.8,640.5 L34.2,638.4 L38.8,637.3ZM49.7,635.6 L45.3,636.7 L44.8,634.6 L41.4,638.5 L46.2,640.4 L45.7,638.3 L50.1,637.3ZM60.9,635.6 L56.8,636.6 L56.3,634.5 L52.8,638.4 L57.6,640.4 L57.1,638.3 L61.3,637.3ZM72.2,635.6 L68.2,636.5 L67.8,634.4 L64.3,638.2 L69.0,640.3 L68.6,638.2 L72.6,637.3ZM83.5,635.6 L79.7,636.4 L79.3,634.3 L75.7,638.1 L80.5,640.2 L80.0,638.1 L83.9,637.3ZM94.8,635.6 L91.1,636.3 L90.7,634.2 L87.2,637.9 L91.9,640.1 L91.5,638.0 L95.1,637.3ZM106.1,635.6 L102.6,636.2 L102.2,634.1 L98.6,637.8 L103.3,640.0 L102.9,637.9 L106.4,637.3ZM117.4,635.6 L114.1,636.2 L113.7,634.0 L110.1,637.7 L114.7,640.0 L114.3,637.8 L117.7,637.3ZM128.8,635.6 L126.7,635.6 L126.7,633.5 L123.5,636.4 L126.7,639.5 L126.7,637.3 L128.8,637.3ZM140.4,635.7 L139.2,635.2 L140.0,633.2 L137.0,635.2 L137.8,638.8 L138.6,636.8 L139.8,637.2ZM152.0,635.9 L151.2,635.0 L152.8,633.6 L149.4,634.2 L148.4,637.6 L150.0,636.1 L150.8,637.0ZM163.3,635.9 L162.5,635.0 L164.2,633.6 L160.7,634.1 L159.6,637.5 L161.2,636.1 L162.0,637.0ZM174.6,635.9 L173.8,634.9 L175.5,633.6 L172.0,634.0 L170.8,637.3 L172.5,636.0 L173.3,637.0ZM185.9,635.9 L185.0,634.7 L186.7,633.4 L183.0,633.4 L182.0,637.1 L183.7,635.8 L184.6,637.0ZM197.2,636.0 L196.3,634.7 L198.1,633.4 L194.3,633.3 L193.2,636.9 L194.9,635.7 L195.9,637.0ZM208.5,636.0 L207.2,634.0 L209.0,632.8 L204.4,631.4 L204.0,636.1 L205.8,634.9 L207.1,636.9ZM219.8,636.0 L217.7,633.0 L219.5,631.8 L214.6,630.1 L214.6,635.3 L216.3,634.0 L218.4,637.0ZM231.1,636.0 L229.0,633.0 L230.7,631.8 L225.8,630.1 L225.9,635.3 L227.6,634.0 L229.7,637.0ZM38.4,624.3 L31.9,625.3 L31.6,623.2 L27.9,626.7 L32.5,629.1 L32.2,627.0 L38.7,626.0ZM83.6,624.3 L77.6,625.1 L77.3,623.0 L73.6,626.5 L78.1,628.9 L77.8,626.8 L83.8,626.0ZM94.9,624.3 L89.0,625.1 L88.8,622.9 L85.0,626.5 L89.5,628.9 L89.2,626.8 L95.1,626.0ZM106.2,624.3 L100.5,625.0 L100.2,622.9 L96.4,626.4 L100.9,628.9 L100.7,626.7 L106.4,626.0ZM117.5,624.3 L111.9,625.0 L111.6,622.9 L107.8,626.3 L112.3,628.8 L112.1,626.7 L117.7,626.0ZM128.7,624.3 L123.3,625.0 L123.1,622.8 L119.2,626.3 L123.7,628.8 L123.5,626.6 L128.9,626.0ZM140.1,624.3 L137.1,624.5 L137.0,622.4 L132.9,625.6 L137.3,628.4 L137.2,626.2 L140.2,626.0ZM151.5,624.3 L149.6,624.2 L149.7,622.1 L146.6,624.9 L149.3,628.1 L149.5,625.9 L151.4,626.0ZM162.9,624.4 L161.2,623.9 L161.8,621.8 L158.3,623.9 L160.1,627.5 L160.7,625.5 L162.5,626.0ZM174.4,624.4 L172.7,623.5 L173.8,621.6 L169.9,622.8 L170.8,626.9 L171.9,625.0 L173.6,625.9ZM185.8,624.5 L184.4,623.5 L185.6,621.7 L181.7,622.6 L182.1,626.5 L183.3,624.8 L184.8,625.9ZM197.1,624.6 L195.5,623.0 L197.0,621.5 L192.5,621.3 L192.9,625.8 L194.3,624.3 L196.0,625.8ZM208.5,624.6 L205.5,621.3 L207.1,619.9 L202.1,618.8 L202.6,623.9 L204.2,622.5 L207.2,625.8ZM219.7,624.6 L214.6,619.7 L216.1,618.2 L211.0,617.4 L211.9,622.5 L213.4,620.9 L218.5,625.8ZM231.0,624.6 L225.9,619.7 L227.4,618.2 L222.3,617.4 L223.2,622.5 L224.7,620.9 L229.8,625.8ZM38.4,613.1 L30.8,614.4 L30.4,612.3 L26.8,616.0 L31.4,618.2 L31.1,616.1 L38.7,614.8ZM49.7,613.1 L42.2,614.3 L41.9,612.2 L38.2,615.8 L42.8,618.1 L42.5,616.0 L50.0,614.8ZM83.6,613.1 L76.5,614.1 L76.2,611.9 L72.4,615.5 L77.0,617.9 L76.7,615.8 L83.8,614.8ZM94.9,613.1 L87.9,614.0 L87.6,611.9 L83.8,615.4 L88.4,617.8 L88.1,615.7 L95.1,614.8ZM106.2,613.1 L99.3,613.9 L99.0,611.8 L95.2,615.3 L99.8,617.7 L99.5,615.6 L106.4,614.8ZM117.5,613.1 L110.7,613.8 L110.5,611.7 L106.6,615.2 L111.2,617.7 L110.9,615.5 L117.7,614.8ZM128.8,613.1 L122.1,613.8 L121.9,611.6 L118.1,615.1 L122.5,617.6 L122.3,615.5 L128.9,614.8ZM140.0,613.1 L133.6,613.7 L133.3,611.6 L129.5,614.9 L133.9,617.5 L133.7,615.4 L140.2,614.8ZM151.4,613.1 L145.8,613.4 L145.6,611.2 L141.6,614.5 L146.0,617.2 L145.9,615.1 L151.5,614.8ZM162.7,613.1 L158.0,613.1 L158.0,610.9 L153.8,614.0 L158.0,616.9 L158.0,614.8 L162.7,614.8ZM174.1,613.1 L170.4,612.7 L170.6,610.6 L166.2,613.2 L170.1,616.6 L170.3,614.4 L173.9,614.8ZM185.6,613.1 L182.0,611.8 L182.7,609.8 L177.7,611.2 L180.7,615.4 L181.4,613.4 L185.0,614.7ZM197.0,613.2 L193.1,610.9 L194.2,609.1 L189.1,609.5 L191.2,614.2 L192.3,612.4 L196.1,614.6ZM208.4,613.3 L203.0,608.9 L204.3,607.2 L199.2,606.9 L200.5,611.8 L201.9,610.2 L207.3,614.6ZM219.7,613.3 L213.5,608.1 L214.9,606.5 L209.8,606.1 L211.1,611.1 L212.4,609.4 L218.6,614.6ZM38.4,601.8 L30.8,603.1 L30.4,601.0 L26.8,604.7 L31.4,606.9 L31.1,604.8 L38.7,603.5ZM49.7,601.8 L41.9,603.1 L41.6,601.0 L37.9,604.7 L42.6,606.9 L42.2,604.8 L50.0,603.5ZM61.0,601.8 L53.1,603.1 L52.7,601.0 L49.1,604.7 L53.7,606.9 L53.3,604.8 L61.3,603.5ZM72.3,601.8 L64.2,603.2 L63.9,601.0 L60.2,604.7 L64.8,607.0 L64.5,604.8 L72.6,603.5ZM83.6,601.8 L75.3,603.2 L75.0,601.0 L71.3,604.7 L76.0,607.0 L75.6,604.8 L83.8,603.5ZM94.9,601.8 L86.5,603.2 L86.1,601.1 L82.5,604.7 L87.1,607.0 L86.8,604.8 L95.1,603.5ZM106.1,601.8 L97.6,603.2 L97.3,601.1 L93.6,604.7 L98.2,607.0 L97.9,604.9 L106.4,603.5ZM117.4,601.8 L108.8,603.2 L108.4,601.1 L104.8,604.7 L109.4,607.0 L109.0,604.9 L117.7,603.5ZM128.7,601.8 L119.9,603.2 L119.6,601.1 L115.9,604.7 L120.5,607.0 L120.2,604.9 L129.0,603.5ZM140.0,601.8 L131.1,603.2 L130.7,601.1 L127.0,604.7 L131.7,607.0 L131.3,604.9 L140.3,603.5ZM151.3,601.8 L142.2,603.2 L141.9,601.1 L138.2,604.7 L142.8,607.0 L142.5,604.9 L151.5,603.5ZM162.6,601.8 L153.3,603.2 L153.0,601.1 L149.3,604.7 L153.9,607.0 L153.6,604.9 L162.8,603.5ZM173.9,601.8 L166.8,602.7 L166.5,600.6 L162.8,604.1 L167.3,606.5 L167.0,604.4 L174.1,603.5ZM185.4,601.8 L179.3,601.1 L179.6,599.0 L175.1,601.5 L178.9,604.9 L179.1,602.8 L185.2,603.5ZM196.9,601.9 L190.7,598.9 L191.6,597.0 L186.5,597.8 L189.0,602.4 L190.0,600.4 L196.2,603.4ZM208.3,601.9 L199.4,595.9 L200.6,594.2 L195.5,594.3 L197.3,599.1 L198.5,597.4 L207.4,603.3ZM219.6,601.9 L208.9,594.9 L210.1,593.2 L205.0,593.4 L206.8,598.2 L208.0,596.4 L218.6,603.4ZM38.4,590.5 L30.8,591.9 L30.4,589.7 L26.8,593.4 L31.4,595.6 L31.1,593.5 L38.7,592.2ZM49.7,590.5 L42.1,591.9 L41.7,589.8 L38.1,593.5 L42.8,595.7 L42.4,593.6 L50.0,592.2ZM61.0,590.5 L53.4,592.0 L53.0,589.9 L49.4,593.6 L54.1,595.8 L53.7,593.6 L61.3,592.2ZM72.3,590.5 L64.7,592.0 L64.3,589.9 L60.8,593.7 L65.5,595.8 L65.0,593.7 L72.6,592.2ZM83.5,590.5 L76.0,592.1 L75.6,590.0 L72.1,593.8 L76.8,595.9 L76.4,593.8 L83.9,592.2ZM94.8,590.5 L87.3,592.1 L86.9,590.0 L83.4,593.9 L88.1,595.9 L87.7,593.8 L95.2,592.2ZM106.1,590.5 L98.6,592.2 L98.2,590.1 L94.7,594.0 L99.5,596.0 L99.0,593.9 L106.5,592.2ZM117.4,590.5 L110.0,592.3 L109.5,590.2 L106.1,594.0 L110.8,596.0 L110.3,593.9 L117.8,592.2ZM162.5,590.6 L155.2,592.5 L154.6,590.4 L151.3,594.4 L156.2,596.2 L155.6,594.1 L162.9,592.2ZM173.8,590.6 L166.5,592.6 L165.9,590.5 L162.7,594.5 L167.5,596.3 L166.9,594.2 L174.2,592.2ZM185.2,590.5 L177.8,590.7 L177.8,588.5 L173.7,591.6 L177.9,594.5 L177.9,592.4 L185.3,592.2ZM196.8,590.6 L189.4,588.1 L190.1,586.1 L185.1,587.6 L188.2,591.8 L188.9,589.7 L196.3,592.2ZM208.3,590.6 L197.0,584.2 L198.0,582.4 L192.9,582.9 L195.1,587.6 L196.1,585.7 L207.4,592.1ZM219.5,590.6 L206.6,583.3 L207.7,581.4 L202.5,582.0 L204.7,586.6 L205.8,584.8 L218.7,592.1ZM38.4,579.3 L30.8,580.4 L30.5,578.2 L26.8,581.8 L31.4,584.2 L31.1,582.1 L38.7,580.9ZM49.7,579.3 L42.1,580.4 L41.8,578.2 L38.0,581.8 L42.6,584.2 L42.3,582.0 L50.0,580.9ZM61.0,579.3 L53.3,580.3 L53.0,578.2 L49.3,581.8 L53.9,584.2 L53.6,582.0 L61.3,580.9ZM72.3,579.3 L64.6,580.3 L64.3,578.2 L60.5,581.8 L65.1,584.1 L64.8,582.0 L72.5,580.9ZM83.6,579.3 L75.8,580.3 L75.5,578.2 L71.8,581.7 L76.3,584.1 L76.0,582.0 L83.8,580.9ZM94.9,579.3 L87.1,580.3 L86.8,578.2 L83.0,581.7 L87.6,584.1 L87.3,582.0 L95.1,580.9ZM106.2,579.3 L98.3,580.3 L98.0,578.2 L94.2,581.7 L98.8,584.1 L98.5,582.0 L106.4,580.9ZM117.4,579.3 L109.5,580.3 L109.3,578.2 L105.5,581.7 L110.0,584.1 L109.8,582.0 L117.7,580.9ZM173.9,579.3 L165.8,580.2 L165.5,578.1 L161.7,581.6 L166.2,584.1 L166.0,581.9 L174.1,580.9ZM185.3,579.3 L177.3,578.8 L177.4,576.7 L173.1,579.5 L177.1,582.7 L177.2,580.5 L185.2,580.9ZM196.8,579.3 L188.8,576.4 L189.5,574.4 L184.6,575.8 L187.5,580.1 L188.2,578.0 L196.3,580.9ZM208.2,579.4 L197.1,573.3 L198.1,571.4 L193.0,572.0 L195.2,576.6 L196.3,574.8 L207.4,580.8ZM219.5,579.4 L206.6,572.0 L207.7,570.1 L202.5,570.7 L204.7,575.4 L205.8,573.5 L218.7,580.8Z" fill="#c46ee6" fill-opacity="0.65"/><path d="M38.9,738.5 L45.1,735.0 L45.9,736.4 L47.8,732.8 L43.7,732.5 L44.5,733.8 L38.2,737.3ZM50.2,738.5 L56.4,735.0 L57.1,736.4 L59.0,732.8 L55.0,732.5 L55.7,733.8 L49.5,737.3ZM61.4,738.5 L67.9,735.6 L68.5,737.0 L70.7,733.6 L66.7,733.0 L67.4,734.4 L60.9,737.3ZM72.7,738.5 L79.2,735.6 L79.8,737.0 L82.0,733.6 L78.0,733.0 L78.6,734.4 L72.1,737.3ZM84.0,738.5 L90.5,735.6 L91.1,737.0 L93.3,733.6 L89.3,733.0 L89.9,734.4 L83.4,737.3ZM95.3,738.5 L101.5,735.8 L102.1,737.2 L104.4,733.8 L100.4,733.2 L101.0,734.6 L94.7,737.3ZM106.5,738.5 L112.6,736.0 L113.2,737.4 L115.4,734.0 L111.4,733.3 L112.0,734.7 L106.0,737.3ZM117.8,738.5 L123.6,736.2 L124.2,737.6 L126.5,734.3 L122.5,733.5 L123.1,734.9 L117.3,737.3ZM129.1,738.5 L134.6,736.3 L135.2,737.8 L137.6,734.5 L133.6,733.7 L134.2,735.1 L128.6,737.3ZM140.4,738.5 L145.7,736.5 L146.2,738.0 L148.6,734.7 L144.7,733.8 L145.2,735.3 L139.9,737.3ZM151.6,738.5 L156.9,736.6 L157.5,738.0 L159.9,734.7 L155.9,733.9 L156.5,735.3 L151.2,737.3ZM162.9,738.5 L168.2,736.6 L168.7,738.0 L171.1,734.8 L167.2,733.9 L167.7,735.3 L162.5,737.3ZM174.2,738.5 L179.4,736.6 L179.9,738.0 L182.4,734.8 L178.4,733.9 L178.9,735.3 L173.7,737.3ZM185.5,738.5 L190.7,736.6 L191.2,738.0 L193.6,734.8 L189.7,733.9 L190.2,735.4 L185.0,737.3ZM196.8,738.5 L201.9,736.6 L202.4,738.1 L204.9,734.8 L200.9,733.9 L201.4,735.4 L196.3,737.3ZM208.1,738.5 L213.2,736.7 L213.7,738.1 L216.1,734.9 L212.2,734.0 L212.7,735.4 L207.6,737.3ZM219.3,738.5 L224.4,736.7 L224.9,738.1 L227.4,734.9 L223.4,734.0 L223.9,735.4 L218.9,737.3ZM230.6,738.5 L235.6,736.7 L236.2,738.1 L238.6,734.9 L234.7,734.0 L235.2,735.4 L230.2,737.3ZM38.9,727.2 L45.3,723.6 L46.1,725.0 L47.9,721.4 L43.9,721.1 L44.7,722.5 L38.2,726.0ZM50.2,727.2 L56.6,723.6 L57.3,725.0 L59.2,721.4 L55.2,721.1 L55.9,722.5 L49.5,726.0ZM61.5,727.2 L67.9,723.6 L68.6,725.0 L70.5,721.4 L66.5,721.1 L67.2,722.5 L60.8,726.0ZM72.7,727.2 L79.4,724.2 L80.0,725.6 L82.2,722.2 L78.2,721.6 L78.8,723.0 L72.1,726.0ZM84.0,727.2 L90.7,724.2 L91.3,725.6 L93.5,722.2 L89.5,721.6 L90.1,723.0 L83.4,726.0ZM95.3,727.2 L101.7,724.4 L102.3,725.8 L104.5,722.5 L100.5,721.8 L101.1,723.2 L94.7,726.0ZM106.5,727.3 L112.7,724.7 L113.3,726.1 L115.6,722.7 L111.6,722.0 L112.2,723.4 L106.0,726.0ZM117.8,727.3 L123.7,724.9 L124.3,726.3 L126.6,722.9 L122.6,722.2 L123.2,723.6 L117.3,726.0ZM129.1,727.3 L134.7,725.1 L135.2,726.5 L137.6,723.2 L133.6,722.4 L134.2,723.8 L128.6,726.0ZM140.4,727.3 L145.7,725.3 L146.2,726.7 L148.6,723.4 L144.7,722.6 L145.2,724.0 L139.9,726.0ZM151.6,727.3 L156.9,725.3 L157.5,726.7 L159.9,723.5 L155.9,722.6 L156.5,724.0 L151.2,726.0ZM162.9,727.3 L168.2,725.3 L168.7,726.7 L171.1,723.5 L167.2,722.6 L167.7,724.0 L162.5,726.0ZM174.2,727.3 L179.4,725.3 L179.9,726.8 L182.4,723.5 L178.4,722.6 L178.9,724.1 L173.7,726.0ZM185.5,727.3 L190.7,725.3 L191.2,726.8 L193.6,723.5 L189.7,722.6 L190.2,724.1 L185.0,726.0ZM196.8,727.3 L201.9,725.4 L202.4,726.8 L204.9,723.6 L200.9,722.7 L201.4,724.1 L196.3,726.0ZM208.1,727.3 L213.2,725.4 L213.7,726.8 L216.1,723.6 L212.2,722.7 L212.7,724.1 L207.6,726.0ZM219.3,727.3 L224.4,725.4 L224.9,726.8 L227.4,723.6 L223.4,722.7 L223.9,724.1 L218.9,726.0ZM230.6,727.3 L235.6,725.4 L236.2,726.9 L238.6,723.6 L234.7,722.7 L235.2,724.2 L230.2,726.0ZM38.9,715.9 L45.3,712.2 L46.1,713.5 L47.9,709.9 L43.9,709.7 L44.7,711.0 L38.2,714.8ZM50.2,715.9 L56.6,712.2 L57.4,713.5 L59.2,709.9 L55.2,709.7 L55.9,711.0 L49.5,714.8ZM61.5,715.9 L67.9,712.2 L68.7,713.5 L70.5,709.9 L66.5,709.7 L67.2,711.0 L60.8,714.8ZM72.8,715.9 L79.2,712.2 L79.9,713.5 L81.8,709.9 L77.7,709.7 L78.5,711.0 L72.1,714.8ZM84.0,716.0 L90.7,712.8 L91.4,714.2 L93.5,710.8 L89.5,710.2 L90.1,711.6 L83.4,714.7ZM95.3,716.0 L101.7,713.1 L102.3,714.4 L104.5,711.0 L100.5,710.4 L101.2,711.8 L94.7,714.7ZM106.5,716.0 L112.7,713.3 L113.3,714.7 L115.6,711.3 L111.6,710.7 L112.2,712.1 L106.0,714.7ZM117.8,716.0 L123.7,713.5 L124.3,714.9 L126.6,711.6 L122.6,710.9 L123.2,712.3 L117.3,714.7ZM129.1,716.0 L134.7,713.8 L135.3,715.2 L137.6,711.9 L133.6,711.1 L134.2,712.5 L128.6,714.7ZM140.4,716.0 L145.7,714.0 L146.2,715.4 L148.6,712.2 L144.7,711.3 L145.2,712.7 L139.9,714.7ZM151.6,716.0 L156.9,714.0 L157.5,715.4 L159.9,712.2 L155.9,711.3 L156.5,712.7 L151.2,714.7ZM162.9,716.0 L168.2,714.0 L168.7,715.5 L171.1,712.2 L167.2,711.3 L167.7,712.8 L162.5,714.7ZM174.2,716.0 L179.4,714.1 L179.9,715.5 L182.4,712.2 L178.4,711.4 L178.9,712.8 L173.7,714.7ZM185.5,716.0 L190.7,714.1 L191.2,715.5 L193.6,712.3 L189.7,711.4 L190.2,712.8 L185.0,714.7ZM196.8,716.0 L201.9,714.1 L202.4,715.5 L204.9,712.3 L200.9,711.4 L201.4,712.8 L196.3,714.7ZM208.1,716.0 L213.2,714.1 L213.7,715.5 L216.1,712.3 L212.2,711.4 L212.7,712.8 L207.6,714.7ZM219.3,716.0 L224.4,714.1 L224.9,715.6 L227.4,712.3 L223.4,711.4 L223.9,712.9 L218.9,714.7ZM230.6,716.0 L235.6,714.2 L236.2,715.6 L238.6,712.4 L234.7,711.5 L235.2,712.9 L230.2,714.7ZM38.9,704.7 L45.0,701.2 L45.8,702.5 L47.7,698.9 L43.6,698.7 L44.4,700.0 L38.2,703.5ZM50.2,704.7 L56.3,701.2 L57.1,702.5 L58.9,698.9 L54.9,698.7 L55.6,700.0 L49.5,703.5ZM61.5,704.7 L67.6,701.2 L68.4,702.5 L70.2,698.9 L66.2,698.7 L66.9,700.0 L60.8,703.5ZM72.8,704.7 L78.9,701.2 L79.6,702.5 L81.5,698.9 L77.5,698.7 L78.2,700.0 L72.1,703.5ZM84.0,704.7 L90.2,701.2 L90.9,702.5 L92.8,698.9 L88.7,698.7 L89.5,700.0 L83.4,703.5ZM95.3,704.7 L101.3,701.3 L102.0,702.7 L103.9,699.1 L99.8,698.8 L100.6,700.2 L94.7,703.5ZM106.6,704.7 L112.3,701.5 L113.1,702.9 L115.0,699.3 L111.0,699.0 L111.7,700.4 L106.0,703.5ZM117.8,704.7 L123.6,702.2 L124.2,703.6 L126.5,700.3 L122.5,699.6 L123.1,701.0 L117.3,703.5ZM129.1,704.7 L134.7,702.4 L135.2,703.8 L137.5,700.5 L133.6,699.8 L134.1,701.2 L128.6,703.5ZM140.4,704.7 L145.7,702.6 L146.3,704.0 L148.6,700.7 L144.7,699.9 L145.2,701.3 L139.9,703.5ZM151.7,704.7 L156.7,702.7 L157.3,704.1 L159.6,700.8 L155.6,700.0 L156.2,701.4 L151.2,703.5ZM162.9,704.7 L168.0,702.7 L168.6,704.1 L170.9,700.8 L166.9,700.0 L167.5,701.4 L162.4,703.5ZM174.2,704.7 L179.3,702.7 L179.8,704.1 L182.2,700.8 L178.2,700.0 L178.8,701.4 L173.7,703.5ZM185.5,704.7 L190.6,702.7 L191.1,704.1 L193.5,700.8 L189.5,700.0 L190.1,701.4 L185.0,703.5ZM196.8,704.7 L201.8,702.7 L202.4,704.1 L204.7,700.8 L200.8,700.0 L201.3,701.4 L196.3,703.5ZM208.1,704.7 L213.1,702.7 L213.7,704.1 L216.0,700.8 L212.1,700.0 L212.6,701.4 L207.6,703.5ZM219.4,704.7 L224.4,702.7 L225.0,704.1 L227.3,700.8 L223.3,700.0 L223.9,701.4 L218.9,703.5ZM230.7,704.7 L235.7,702.7 L236.3,704.1 L238.6,700.8 L234.6,700.0 L235.2,701.4 L230.1,703.5ZM38.9,693.4 L44.3,690.3 L45.0,691.6 L46.9,688.0 L42.8,687.8 L43.6,689.1 L38.2,692.2ZM50.2,693.4 L55.6,690.3 L56.3,691.6 L58.2,688.0 L54.1,687.8 L54.9,689.1 L49.5,692.2ZM61.5,693.4 L66.9,690.3 L67.6,691.6 L69.4,688.0 L65.4,687.8 L66.2,689.1 L60.8,692.2ZM72.8,693.4 L78.1,690.3 L78.9,691.6 L80.7,688.0 L76.7,687.8 L77.5,689.1 L72.1,692.2ZM84.0,693.4 L89.4,690.3 L90.2,691.6 L92.0,688.0 L88.0,687.8 L88.7,689.1 L83.4,692.2ZM95.3,693.4 L100.6,690.4 L101.4,691.7 L103.2,688.1 L99.2,687.9 L99.9,689.2 L94.7,692.2ZM106.6,693.4 L111.8,690.5 L112.6,691.8 L114.4,688.2 L110.4,688.0 L111.2,689.3 L105.9,692.2ZM117.8,693.4 L123.2,691.1 L123.8,692.5 L126.0,689.1 L122.0,688.4 L122.6,689.8 L117.3,692.2ZM129.1,693.4 L134.4,691.2 L135.0,692.6 L137.2,689.2 L133.2,688.5 L133.8,689.9 L128.6,692.2ZM140.4,693.4 L145.6,691.3 L146.1,692.7 L148.4,689.3 L144.4,688.6 L145.0,690.0 L139.9,692.2ZM151.7,693.4 L156.3,690.9 L157.0,692.2 L158.9,688.6 L154.9,688.4 L155.6,689.7 L151.1,692.2ZM163.0,693.4 L167.6,690.9 L168.3,692.2 L170.2,688.6 L166.2,688.4 L166.9,689.7 L162.4,692.2ZM174.3,693.4 L178.8,690.9 L179.6,692.2 L181.5,688.6 L177.4,688.4 L178.2,689.7 L173.6,692.2ZM185.6,693.4 L190.1,690.9 L190.9,692.2 L192.8,688.6 L188.7,688.4 L189.5,689.7 L184.9,692.2ZM196.9,693.4 L201.4,690.9 L202.2,692.2 L204.0,688.6 L200.0,688.4 L200.8,689.7 L196.2,692.2ZM208.2,693.4 L212.7,690.9 L213.4,692.2 L215.3,688.6 L211.3,688.4 L212.0,689.7 L207.5,692.2ZM219.4,693.4 L224.0,690.9 L224.7,692.2 L226.6,688.6 L222.6,688.4 L223.3,689.7 L218.8,692.2ZM230.7,693.4 L235.3,690.9 L236.0,692.2 L237.9,688.6 L233.9,688.4 L234.6,689.7 L230.1,692.2ZM38.8,682.2 L43.7,680.0 L44.3,681.4 L46.6,678.0 L42.6,677.4 L43.2,678.8 L38.3,680.9ZM50.1,682.2 L55.0,680.0 L55.6,681.4 L57.9,678.0 L53.9,677.4 L54.5,678.8 L49.6,680.9ZM61.4,682.2 L66.3,680.0 L66.9,681.4 L69.1,678.0 L65.1,677.4 L65.8,678.8 L60.9,680.9ZM72.7,682.2 L77.6,680.0 L78.2,681.4 L80.4,678.0 L76.4,677.4 L77.0,678.8 L72.2,680.9ZM84.0,682.2 L88.9,680.0 L89.5,681.4 L91.7,678.0 L87.7,677.4 L88.3,678.8 L83.4,680.9ZM95.3,682.2 L100.1,680.0 L100.8,681.4 L103.0,678.0 L99.0,677.4 L99.6,678.8 L94.7,680.9ZM106.5,682.2 L111.4,680.0 L112.0,681.4 L114.3,678.0 L110.3,677.4 L110.9,678.8 L106.0,680.9ZM117.8,682.2 L122.7,680.0 L123.3,681.4 L125.6,678.0 L121.6,677.4 L122.2,678.8 L117.3,680.9ZM129.1,682.2 L134.0,680.0 L134.6,681.4 L136.8,678.0 L132.8,677.4 L133.5,678.8 L128.6,680.9ZM140.6,682.1 L143.9,679.2 L144.9,680.4 L146.1,676.5 L142.1,677.0 L143.1,678.2 L139.7,681.0ZM151.8,682.1 L155.2,679.2 L156.2,680.4 L157.4,676.5 L153.4,677.0 L154.4,678.2 L151.0,681.0ZM163.1,682.1 L166.5,679.2 L167.5,680.4 L168.7,676.5 L164.7,677.0 L165.7,678.2 L162.3,681.0ZM174.4,682.1 L177.8,679.2 L178.8,680.4 L180.0,676.5 L176.0,677.0 L176.9,678.2 L173.5,681.0ZM185.7,682.1 L189.1,679.2 L190.1,680.4 L191.3,676.5 L187.2,677.0 L188.2,678.2 L184.8,681.0ZM197.0,682.1 L200.4,679.2 L201.3,680.4 L202.5,676.5 L198.5,677.0 L199.5,678.2 L196.1,681.0ZM208.3,682.1 L211.7,679.2 L212.6,680.4 L213.8,676.5 L209.8,677.0 L210.8,678.2 L207.4,681.0ZM219.5,682.1 L222.9,679.2 L223.9,680.4 L225.1,676.5 L221.1,677.0 L222.1,678.2 L218.7,681.0ZM230.8,682.1 L234.2,679.2 L235.2,680.4 L236.4,676.5 L232.4,677.0 L233.4,678.2 L230.0,681.0ZM38.9,670.9 L42.3,669.3 L42.9,670.7 L45.1,667.3 L41.1,666.7 L41.7,668.1 L38.3,669.7ZM50.1,670.9 L53.5,669.3 L54.2,670.7 L56.4,667.3 L52.3,666.7 L53.0,668.1 L49.6,669.7ZM61.4,670.9 L64.8,669.3 L65.5,670.7 L67.6,667.3 L63.6,666.7 L64.3,668.1 L60.9,669.7ZM72.7,670.9 L76.1,669.3 L76.8,670.7 L78.9,667.3 L74.9,666.7 L75.6,668.1 L72.1,669.7ZM84.0,670.9 L87.4,669.3 L88.0,670.7 L90.2,667.3 L86.2,666.7 L86.8,668.1 L83.4,669.7ZM95.3,670.9 L98.7,669.3 L99.3,670.7 L101.5,667.3 L97.5,666.7 L98.1,668.1 L94.7,669.7ZM106.6,670.9 L110.0,669.3 L110.6,670.7 L112.8,667.3 L108.8,666.7 L109.4,668.1 L106.0,669.7ZM117.8,670.9 L121.3,669.3 L121.9,670.7 L124.1,667.3 L120.0,666.7 L120.7,668.1 L117.3,669.7ZM129.1,670.9 L132.5,669.3 L133.2,670.7 L135.3,667.3 L131.3,666.7 L132.0,668.1 L128.6,669.7ZM140.7,670.7 L143.1,667.4 L144.3,668.3 L144.6,664.3 L140.8,665.7 L142.0,666.6 L139.6,669.9ZM152.0,670.7 L154.4,667.4 L155.6,668.3 L155.9,664.3 L152.1,665.7 L153.3,666.6 L150.9,669.9ZM163.2,670.7 L165.7,667.4 L166.9,668.3 L167.2,664.3 L163.4,665.7 L164.6,666.6 L162.2,669.9ZM174.5,670.7 L177.0,667.4 L178.2,668.3 L178.5,664.3 L174.7,665.7 L175.9,666.6 L173.4,669.9ZM185.8,670.7 L188.3,667.4 L189.5,668.3 L189.8,664.3 L186.0,665.7 L187.2,666.6 L184.7,669.9ZM197.1,670.7 L199.5,667.4 L200.8,668.3 L201.0,664.3 L197.2,665.7 L198.5,666.6 L196.0,669.9ZM208.4,670.7 L210.8,667.4 L212.1,668.3 L212.3,664.3 L208.5,665.7 L209.8,666.6 L207.3,669.9ZM219.7,670.7 L222.1,667.4 L223.3,668.3 L223.6,664.3 L219.8,665.7 L221.0,666.6 L218.6,669.9ZM230.9,670.7 L233.4,667.4 L234.6,668.3 L234.9,664.3 L231.1,665.7 L232.3,666.6 L229.9,669.9ZM38.9,659.6 L40.1,658.8 L41.0,660.0 L41.6,657.0 L38.5,656.4 L39.4,657.6 L38.2,658.4ZM50.2,659.6 L51.4,658.7 L52.3,660.0 L52.9,656.9 L49.8,656.4 L50.7,657.6 L49.5,658.4ZM61.5,659.5 L62.7,658.7 L63.6,659.9 L64.1,656.9 L61.1,656.4 L61.9,657.6 L60.7,658.5ZM72.8,659.5 L74.0,658.7 L74.9,659.9 L75.4,656.8 L72.3,656.3 L73.2,657.6 L72.0,658.5ZM84.1,659.5 L85.3,658.6 L86.2,659.8 L86.7,656.7 L83.6,656.3 L84.5,657.5 L83.3,658.5ZM95.4,659.5 L96.6,658.6 L97.5,659.8 L98.0,656.6 L94.8,656.3 L95.8,657.5 L94.6,658.5ZM106.7,659.5 L107.9,658.6 L108.9,659.7 L109.3,656.6 L106.1,656.3 L107.0,657.5 L105.8,658.5ZM118.0,659.5 L119.2,658.5 L120.2,659.7 L120.6,656.5 L117.4,656.3 L118.3,657.5 L117.1,658.5ZM129.4,659.4 L130.3,658.1 L131.6,659.0 L131.1,655.8 L127.9,656.4 L129.2,657.3 L128.3,658.6ZM140.8,659.2 L141.4,657.6 L142.8,658.2 L141.6,655.0 L138.7,656.6 L140.1,657.2 L139.5,658.8ZM152.1,659.2 L152.5,657.5 L154.0,657.8 L152.4,654.8 L149.7,656.8 L151.2,657.1 L150.8,658.8ZM163.4,659.1 L163.6,657.3 L165.1,657.4 L163.2,654.5 L160.7,657.0 L162.2,657.1 L162.0,658.9ZM174.7,659.1 L174.9,657.3 L176.4,657.4 L174.5,654.5 L172.0,657.0 L173.5,657.1 L173.3,658.9ZM185.9,659.1 L186.1,657.3 L187.7,657.4 L185.8,654.5 L183.3,657.0 L184.8,657.1 L184.6,658.9ZM197.2,659.1 L197.4,657.3 L198.9,657.4 L197.0,654.5 L194.6,657.0 L196.1,657.1 L195.9,658.9ZM208.5,659.1 L208.7,657.3 L210.2,657.4 L208.3,654.5 L205.8,657.0 L207.4,657.1 L207.2,658.9ZM219.8,659.1 L220.0,657.3 L221.5,657.4 L219.6,654.5 L217.1,657.0 L218.6,657.1 L218.4,658.9ZM231.1,659.1 L231.3,657.3 L232.8,657.4 L230.9,654.5 L228.4,657.0 L229.9,657.1 L229.7,658.9ZM38.4,647.1 L36.8,647.5 L36.4,646.0 L34.6,648.7 L37.5,650.3 L37.1,648.8 L38.7,648.4ZM49.7,647.1 L48.2,647.4 L47.8,645.9 L46.1,648.6 L48.8,650.2 L48.5,648.7 L50.0,648.4ZM61.0,647.1 L59.6,647.4 L59.2,645.9 L57.5,648.5 L60.2,650.2 L59.8,648.7 L61.3,648.4ZM72.3,647.1 L70.9,647.3 L70.6,645.9 L69.0,648.4 L71.5,650.2 L71.2,648.7 L72.6,648.4ZM83.6,647.1 L82.3,647.3 L82.0,645.8 L80.5,648.3 L82.8,650.1 L82.6,648.6 L83.8,648.4ZM94.9,647.1 L93.7,647.3 L93.4,645.8 L92.0,648.2 L94.2,650.1 L93.9,648.6 L95.1,648.4ZM106.5,647.1 L105.7,646.8 L106.2,645.4 L104.3,647.0 L104.7,649.5 L105.2,648.1 L106.0,648.4ZM118.2,647.4 L117.8,646.6 L119.1,645.9 L116.6,645.7 L115.2,647.9 L116.6,647.2 L117.0,648.0ZM129.5,647.6 L129.3,646.6 L130.8,646.3 L128.3,645.2 L126.5,647.2 L128.0,646.9 L128.2,647.9ZM140.8,647.7 L140.8,646.5 L142.3,646.5 L140.1,644.7 L137.9,646.5 L139.5,646.5 L139.5,647.7ZM152.1,647.7 L152.1,646.5 L153.6,646.5 L151.4,644.7 L149.2,646.5 L150.7,646.5 L150.7,647.7ZM163.4,647.7 L163.4,646.5 L164.9,646.5 L162.7,644.7 L160.5,646.5 L162.0,646.5 L162.0,647.7ZM174.7,647.7 L174.7,646.5 L176.2,646.5 L174.0,644.7 L171.8,646.5 L173.3,646.5 L173.3,647.7ZM185.9,647.7 L185.9,646.5 L187.5,646.5 L185.3,644.7 L183.1,646.5 L184.6,646.5 L184.6,647.7ZM197.2,647.7 L197.2,646.5 L198.7,646.5 L196.5,644.7 L194.3,646.5 L195.9,646.5 L195.9,647.7ZM208.5,647.7 L208.5,646.5 L210.0,646.5 L207.8,644.7 L205.6,646.5 L207.2,646.5 L207.2,647.7ZM219.8,647.7 L219.8,646.5 L221.3,646.5 L219.1,644.7 L216.9,646.5 L218.4,646.5 L218.4,647.7ZM231.1,647.7 L231.1,646.5 L232.6,646.5 L230.4,644.7 L228.2,646.5 L229.7,646.5 L229.7,647.7ZM38.4,635.8 L33.6,637.3 L33.2,635.8 L30.6,639.0 L34.5,640.0 L34.0,638.6 L38.8,637.1ZM49.7,635.8 L45.1,637.2 L44.6,635.7 L42.0,638.8 L45.9,639.9 L45.4,638.5 L50.0,637.1ZM61.0,635.8 L56.5,637.1 L56.1,635.6 L53.4,638.7 L57.3,639.8 L56.9,638.4 L61.3,637.1ZM72.2,635.8 L68.0,637.0 L67.5,635.5 L64.9,638.5 L68.7,639.8 L68.3,638.3 L72.6,637.1ZM83.5,635.8 L79.4,636.9 L79.0,635.4 L76.3,638.4 L80.1,639.7 L79.7,638.2 L83.9,637.1ZM94.8,635.8 L90.8,636.8 L90.5,635.3 L87.7,638.2 L91.5,639.6 L91.2,638.1 L95.2,637.1ZM106.1,635.8 L102.3,636.7 L102.0,635.2 L99.1,638.1 L102.9,639.5 L102.6,638.0 L106.4,637.1ZM117.4,635.8 L113.7,636.6 L113.4,635.1 L110.6,638.0 L114.3,639.4 L114.0,637.9 L117.7,637.1ZM128.8,635.8 L126.8,635.9 L126.7,634.4 L123.8,636.7 L127.0,638.8 L126.9,637.2 L128.9,637.1ZM140.3,635.8 L139.1,635.4 L139.6,634.0 L137.1,635.5 L138.2,638.1 L138.7,636.7 L139.9,637.1ZM151.9,636.0 L151.1,635.2 L152.2,634.1 L149.4,634.5 L149.1,637.2 L150.1,636.1 L150.9,636.9ZM163.2,636.0 L162.4,635.1 L163.5,634.1 L160.7,634.3 L160.3,637.1 L161.4,636.1 L162.2,636.9ZM174.5,636.0 L173.7,635.1 L174.8,634.1 L172.0,634.2 L171.5,637.0 L172.7,636.0 L173.5,636.9ZM185.8,636.0 L184.9,634.9 L186.0,633.9 L183.0,633.7 L182.7,636.8 L183.8,635.8 L184.7,636.9ZM197.1,636.0 L196.2,634.9 L197.3,633.9 L194.2,633.6 L193.9,636.7 L195.1,635.7 L196.0,636.9ZM208.4,636.1 L207.0,634.2 L208.2,633.3 L204.4,631.9 L204.7,635.9 L205.9,635.0 L207.3,636.9ZM219.6,636.0 L217.2,632.9 L218.4,632.0 L214.5,630.7 L214.9,634.7 L216.1,633.8 L218.6,636.9ZM230.9,636.0 L228.5,632.9 L229.6,632.0 L225.8,630.7 L226.2,634.7 L227.4,633.8 L229.9,636.9ZM38.4,624.5 L31.8,625.9 L31.5,624.4 L28.6,627.2 L32.3,628.7 L32.0,627.2 L38.7,625.8ZM49.8,624.5 L43.2,625.2 L43.0,623.7 L39.8,626.3 L43.5,628.1 L43.3,626.6 L49.9,625.9ZM61.1,624.5 L54.6,625.2 L54.4,623.7 L51.3,626.2 L54.9,628.0 L54.7,626.5 L61.2,625.9ZM72.4,624.5 L66.0,625.1 L65.8,623.6 L62.7,626.2 L66.3,628.0 L66.1,626.5 L72.5,625.9ZM83.6,624.5 L77.4,625.7 L77.2,624.2 L74.2,626.9 L77.9,628.5 L77.7,627.0 L83.8,625.8ZM94.9,624.5 L88.8,625.6 L88.6,624.1 L85.6,626.9 L89.4,628.4 L89.1,626.9 L95.1,625.9ZM106.2,624.5 L100.3,625.6 L100.0,624.1 L97.0,626.8 L100.8,628.4 L100.5,626.9 L106.4,625.9ZM117.4,624.5 L111.7,625.5 L111.4,624.0 L108.4,626.7 L112.2,628.3 L111.9,626.8 L117.7,625.9ZM128.7,624.5 L123.1,625.5 L122.8,624.0 L119.8,626.7 L123.6,628.3 L123.3,626.8 L129.0,625.9ZM140.1,624.5 L136.7,624.9 L136.5,623.4 L133.4,625.9 L137.0,627.7 L136.8,626.2 L140.2,625.9ZM151.4,624.5 L149.6,624.5 L149.6,623.0 L146.9,625.2 L149.6,627.4 L149.6,625.9 L151.4,625.9ZM162.8,624.5 L161.1,624.1 L161.5,622.6 L158.4,624.2 L160.5,626.9 L160.8,625.4 L162.5,625.8ZM174.3,624.6 L172.7,623.8 L173.4,622.4 L170.0,623.2 L171.4,626.4 L172.1,625.0 L173.7,625.8ZM185.6,624.6 L184.3,623.7 L185.1,622.4 L181.8,622.9 L182.7,626.1 L183.5,624.8 L184.9,625.7ZM197.0,624.7 L195.4,623.3 L196.4,622.1 L192.5,621.7 L193.5,625.5 L194.5,624.3 L196.1,625.7ZM208.3,624.7 L205.0,621.4 L206.0,620.3 L202.1,619.4 L202.9,623.4 L204.0,622.3 L207.4,625.7ZM219.6,624.7 L214.1,620.0 L215.1,618.8 L211.1,618.3 L212.2,622.2 L213.2,621.0 L218.7,625.7ZM230.8,624.7 L225.4,620.0 L226.4,618.8 L222.3,618.3 L223.5,622.2 L224.5,621.0 L230.0,625.7ZM38.4,613.3 L30.7,615.0 L30.4,613.5 L27.6,616.4 L31.4,617.8 L31.0,616.3 L38.7,614.6ZM49.7,613.3 L42.1,614.9 L41.8,613.4 L39.0,616.3 L42.8,617.7 L42.4,616.2 L50.0,614.6ZM61.1,613.2 L53.5,614.2 L53.3,612.6 L50.2,615.2 L53.8,617.0 L53.7,615.5 L61.2,614.6ZM72.3,613.2 L64.9,614.1 L64.7,612.6 L61.6,615.1 L65.2,616.9 L65.1,615.4 L72.5,614.6ZM83.6,613.3 L76.4,614.7 L76.1,613.2 L73.2,616.0 L76.9,617.5 L76.6,616.0 L83.8,614.6ZM94.9,613.3 L87.8,614.6 L87.5,613.1 L84.5,615.9 L88.3,617.4 L88.0,615.9 L95.1,614.6ZM106.2,613.2 L99.2,614.5 L98.9,613.0 L95.9,615.7 L99.7,617.3 L99.4,615.8 L106.4,614.6ZM117.4,613.2 L110.6,614.4 L110.3,612.9 L107.3,615.6 L111.1,617.2 L110.8,615.7 L117.7,614.6ZM128.7,613.2 L122.0,614.3 L121.7,612.8 L118.7,615.5 L122.4,617.2 L122.2,615.7 L128.9,614.6ZM140.0,613.2 L133.4,614.2 L133.2,612.7 L130.1,615.4 L133.8,617.1 L133.6,615.6 L140.2,614.6ZM151.3,613.2 L145.5,613.9 L145.4,612.4 L142.2,614.9 L145.8,616.7 L145.7,615.2 L151.5,614.6ZM162.7,613.2 L157.6,613.5 L157.6,612.0 L154.3,614.4 L157.8,616.4 L157.7,614.9 L162.7,614.6ZM174.0,613.2 L170.0,613.1 L170.1,611.6 L166.6,613.6 L169.9,616.0 L169.9,614.4 L174.0,614.6ZM185.5,613.3 L181.5,612.1 L181.9,610.6 L178.0,611.7 L180.6,614.8 L181.1,613.4 L185.1,614.6ZM196.9,613.3 L192.6,611.1 L193.3,609.7 L189.3,610.1 L191.3,613.6 L192.0,612.3 L196.2,614.5ZM208.2,613.4 L202.5,609.2 L203.4,607.9 L199.3,607.7 L200.8,611.5 L201.7,610.3 L207.4,614.5ZM219.5,613.4 L213.0,608.5 L214.0,607.3 L209.9,607.0 L211.3,610.8 L212.2,609.6 L218.7,614.5ZM230.9,613.4 L224.8,608.0 L225.8,606.9 L221.8,606.2 L222.9,610.1 L223.9,609.0 L229.9,614.4ZM38.4,602.0 L30.7,603.7 L30.4,602.2 L27.6,605.1 L31.4,606.5 L31.0,605.0 L38.7,603.3ZM49.7,602.0 L41.9,603.7 L41.6,602.3 L38.7,605.2 L42.5,606.6 L42.2,605.1 L50.0,603.3ZM61.0,602.0 L53.0,603.8 L52.7,602.3 L49.9,605.2 L53.7,606.6 L53.3,605.1 L61.3,603.3ZM72.3,602.0 L64.2,603.8 L63.9,602.3 L61.0,605.2 L64.8,606.6 L64.5,605.1 L72.6,603.3ZM83.6,602.0 L75.3,603.8 L75.0,602.3 L72.2,605.2 L76.0,606.6 L75.6,605.1 L83.9,603.3ZM94.8,602.0 L86.5,603.8 L86.2,602.3 L83.3,605.2 L87.1,606.6 L86.8,605.1 L95.1,603.3ZM106.1,602.0 L97.6,603.8 L97.3,602.3 L94.5,605.2 L98.2,606.6 L97.9,605.1 L106.4,603.3ZM117.4,602.0 L108.8,603.8 L108.5,602.3 L105.6,605.2 L109.4,606.6 L109.1,605.2 L117.7,603.3ZM128.7,602.0 L119.9,603.8 L119.6,602.4 L116.8,605.2 L120.5,606.7 L120.2,605.2 L129.0,603.3ZM140.0,602.0 L131.1,603.9 L130.8,602.4 L127.9,605.2 L131.7,606.7 L131.4,605.2 L140.3,603.3ZM151.3,602.0 L142.2,603.9 L141.9,602.4 L139.0,605.2 L142.8,606.7 L142.5,605.2 L151.5,603.3ZM162.6,602.0 L153.4,603.9 L153.1,602.4 L150.2,605.2 L154.0,606.7 L153.7,605.2 L162.8,603.3ZM173.9,602.0 L166.7,603.3 L166.4,601.8 L163.5,604.5 L167.2,606.1 L166.9,604.6 L174.1,603.3ZM185.3,602.0 L179.0,601.6 L179.1,600.1 L175.6,602.1 L178.9,604.5 L179.0,602.9 L185.2,603.3ZM196.8,602.0 L190.3,599.3 L190.9,597.9 L186.9,598.6 L189.2,602.0 L189.8,600.5 L196.3,603.3ZM208.2,602.1 L199.0,596.6 L199.8,595.3 L195.8,595.4 L197.5,599.0 L198.3,597.7 L207.5,603.2ZM219.5,602.1 L208.6,595.7 L209.4,594.4 L205.3,594.6 L207.1,598.2 L207.9,596.9 L218.8,603.2ZM230.8,602.1 L220.5,594.8 L221.4,593.6 L217.4,593.4 L218.9,597.2 L219.7,595.9 L230.0,603.2ZM38.4,590.7 L30.7,592.5 L30.4,591.0 L27.6,593.9 L31.4,595.3 L31.0,593.8 L38.7,592.0ZM49.7,590.7 L42.1,592.5 L41.7,591.0 L38.9,594.0 L42.7,595.3 L42.4,593.8 L50.0,592.0ZM61.0,590.7 L53.4,592.6 L53.0,591.1 L50.2,594.0 L54.0,595.4 L53.7,593.9 L61.3,592.0ZM72.3,590.7 L64.7,592.6 L64.3,591.2 L61.5,594.1 L65.4,595.4 L65.0,593.9 L72.6,592.0ZM83.5,590.7 L76.0,592.7 L75.6,591.2 L72.9,594.2 L76.7,595.5 L76.3,594.0 L83.9,592.0ZM94.8,590.7 L87.3,592.7 L86.9,591.3 L84.2,594.3 L88.1,595.5 L87.7,594.1 L95.2,592.0ZM106.1,590.7 L98.6,592.8 L98.2,591.3 L95.5,594.4 L99.4,595.6 L99.0,594.1 L106.5,592.0ZM117.4,590.7 L109.9,592.9 L109.5,591.4 L106.9,594.5 L110.7,595.6 L110.3,594.2 L117.7,592.0ZM128.6,590.7 L121.5,593.2 L121.0,591.8 L118.5,595.0 L122.4,595.9 L121.9,594.5 L129.1,592.0ZM139.9,590.7 L132.8,593.2 L132.3,591.8 L129.8,595.0 L133.7,595.9 L133.2,594.5 L140.3,592.0ZM151.2,590.7 L144.0,593.2 L143.5,591.8 L141.1,595.0 L145.0,595.9 L144.5,594.5 L151.6,592.0ZM162.5,590.7 L155.2,593.1 L154.7,591.6 L152.2,594.8 L156.1,595.8 L155.6,594.4 L162.9,592.0ZM173.8,590.7 L166.5,593.2 L166.0,591.7 L163.5,594.9 L167.4,595.9 L166.9,594.4 L174.2,592.0ZM185.2,590.7 L177.7,591.3 L177.6,589.7 L174.3,592.2 L177.9,594.1 L177.8,592.6 L185.3,592.0ZM196.7,590.7 L189.1,588.6 L189.5,587.2 L185.6,588.4 L188.3,591.4 L188.7,589.9 L196.4,592.0ZM208.1,590.8 L196.7,585.0 L197.4,583.7 L193.3,584.1 L195.4,587.6 L196.1,586.3 L207.5,592.0ZM219.4,590.8 L206.4,584.2 L207.0,582.9 L203.0,583.3 L205.1,586.8 L205.8,585.4 L218.8,592.0ZM230.8,590.8 L218.3,583.2 L219.1,581.9 L215.1,581.9 L216.8,585.6 L217.6,584.3 L230.0,591.9ZM38.4,579.4 L30.8,581.0 L30.5,579.5 L27.6,582.3 L31.3,583.8 L31.0,582.3 L38.7,580.8ZM49.7,579.4 L42.0,581.0 L41.7,579.5 L38.8,582.3 L42.6,583.8 L42.3,582.3 L50.0,580.8ZM61.0,579.4 L53.3,581.0 L53.0,579.5 L50.1,582.3 L53.8,583.8 L53.5,582.3 L61.3,580.8ZM72.3,579.4 L64.5,580.9 L64.2,579.4 L61.3,582.2 L65.1,583.8 L64.8,582.3 L72.6,580.8ZM83.6,579.4 L75.8,580.9 L75.5,579.4 L72.5,582.2 L76.3,583.8 L76.0,582.3 L83.8,580.8ZM94.9,579.4 L87.0,580.9 L86.7,579.4 L83.8,582.2 L87.5,583.7 L87.2,582.2 L95.1,580.8ZM106.2,579.4 L98.2,580.9 L98.0,579.4 L95.0,582.2 L98.8,583.7 L98.5,582.2 L106.4,580.8ZM117.4,579.4 L109.5,580.9 L109.2,579.4 L106.3,582.2 L110.0,583.7 L109.7,582.2 L117.7,580.8ZM128.6,579.5 L121.5,582.0 L121.0,580.5 L118.5,583.7 L122.4,584.7 L121.9,583.2 L129.1,580.7ZM139.9,579.5 L132.8,582.0 L132.3,580.5 L129.8,583.7 L133.7,584.7 L133.2,583.2 L140.3,580.7ZM151.2,579.5 L144.0,582.0 L143.5,580.5 L141.1,583.7 L145.0,584.7 L144.5,583.2 L151.6,580.7ZM162.5,579.5 L155.3,582.0 L154.8,580.5 L152.3,583.7 L156.3,584.7 L155.8,583.2 L162.9,580.7ZM173.9,579.4 L165.7,580.9 L165.5,579.3 L162.5,582.1 L166.2,583.7 L165.9,582.2 L174.1,580.8ZM185.3,579.4 L177.2,579.4 L177.2,577.9 L173.8,580.1 L177.2,582.3 L177.2,580.8 L185.3,580.8ZM196.7,579.5 L188.5,577.0 L188.9,575.5 L185.0,576.6 L187.7,579.7 L188.1,578.3 L196.4,580.7ZM208.1,579.5 L196.8,574.1 L197.5,572.7 L193.5,573.2 L195.6,576.7 L196.2,575.3 L207.5,580.7ZM219.4,579.5 L206.4,573.0 L207.0,571.6 L203.0,572.1 L205.1,575.5 L205.8,574.2 L218.8,580.7ZM230.8,579.5 L218.3,571.9 L219.1,570.6 L215.1,570.7 L216.8,574.3 L217.6,573.0 L230.0,580.7Z" fill="#18a4c8"/><path d="M38.8,738.5 L45.3,735.6 L46.0,737.0 L48.2,733.6 L44.2,733.0 L44.8,734.4 L38.3,737.3ZM50.1,738.5 L56.6,735.6 L57.3,737.0 L59.5,733.6 L55.5,733.0 L56.1,734.4 L49.6,737.3ZM38.8,727.2 L45.5,724.2 L46.2,725.6 L48.4,722.2 L44.4,721.6 L45.0,723.0 L38.3,726.0ZM50.1,727.2 L56.8,724.2 L57.5,725.6 L59.7,722.2 L55.7,721.6 L56.3,723.0 L49.6,726.0ZM61.4,727.2 L68.1,724.2 L68.7,725.6 L70.9,722.2 L66.9,721.6 L67.6,723.0 L60.9,726.0ZM38.9,716.0 L45.6,712.8 L46.2,714.2 L48.4,710.8 L44.4,710.2 L45.0,711.6 L38.3,714.7ZM50.1,716.0 L56.9,712.8 L57.5,714.2 L59.7,710.8 L55.6,710.2 L56.3,711.6 L49.6,714.7ZM61.4,716.0 L68.1,712.8 L68.8,714.2 L70.9,710.8 L66.9,710.2 L67.6,711.6 L60.9,714.7ZM72.7,716.0 L79.4,712.8 L80.1,714.2 L82.2,710.8 L78.2,710.2 L78.9,711.6 L72.1,714.7ZM38.9,704.7 L45.3,701.7 L45.9,703.1 L48.1,699.7 L44.1,699.1 L44.7,700.5 L38.3,703.5ZM50.1,704.7 L56.6,701.7 L57.2,703.1 L59.4,699.7 L55.3,699.1 L56.0,700.5 L49.6,703.5ZM61.4,704.7 L67.8,701.7 L68.5,703.1 L70.6,699.7 L66.6,699.1 L67.3,700.5 L60.9,703.5ZM72.7,704.7 L79.1,701.7 L79.8,703.1 L81.9,699.7 L77.9,699.1 L78.6,700.5 L72.1,703.5ZM84.0,704.7 L90.4,701.7 L91.0,703.1 L93.2,699.7 L89.2,699.1 L89.8,700.5 L83.4,703.5ZM95.3,704.7 L101.5,701.9 L102.1,703.3 L104.3,699.9 L100.3,699.3 L100.9,700.7 L94.7,703.5ZM106.5,704.7 L112.5,702.1 L113.1,703.5 L115.4,700.1 L111.4,699.4 L112.0,700.8 L106.0,703.5ZM38.9,693.4 L44.5,690.8 L45.1,692.2 L47.3,688.7 L43.3,688.2 L43.9,689.6 L38.3,692.2ZM50.1,693.4 L55.8,690.8 L56.4,692.2 L58.6,688.7 L54.5,688.2 L55.2,689.6 L49.6,692.2ZM61.4,693.4 L67.1,690.8 L67.7,692.2 L69.8,688.7 L65.8,688.2 L66.5,689.6 L60.9,692.2ZM72.7,693.4 L78.3,690.8 L79.0,692.2 L81.1,688.7 L77.1,688.2 L77.8,689.6 L72.1,692.2ZM84.0,693.4 L89.6,690.8 L90.3,692.2 L92.4,688.7 L88.4,688.2 L89.0,689.6 L83.4,692.2ZM95.3,693.4 L100.8,690.9 L101.4,692.3 L103.6,688.8 L99.6,688.3 L100.2,689.6 L94.7,692.2ZM106.6,693.4 L112.0,691.0 L112.6,692.4 L114.8,689.0 L110.8,688.3 L111.4,689.7 L106.0,692.2ZM49.7,624.5 L43.2,625.8 L42.9,624.3 L40.0,627.1 L43.7,628.6 L43.4,627.1 L50.0,625.8ZM61.0,624.5 L54.6,625.8 L54.3,624.3 L51.4,627.1 L55.1,628.6 L54.9,627.1 L61.3,625.8ZM72.3,624.5 L66.0,625.7 L65.7,624.2 L62.8,627.0 L66.5,628.5 L66.3,627.0 L72.5,625.8ZM61.0,613.3 L53.5,614.8 L53.2,613.3 L50.4,616.2 L54.1,617.6 L53.8,616.1 L61.3,614.6ZM72.3,613.3 L65.0,614.7 L64.6,613.2 L61.8,616.1 L65.5,617.6 L65.2,616.1 L72.6,614.6ZM230.8,613.4 L224.3,608.5 L225.2,607.3 L221.2,607.0 L222.6,610.8 L223.5,609.6 L230.0,614.5ZM230.7,602.1 L219.9,595.7 L220.6,594.4 L216.6,594.6 L218.4,598.2 L219.2,596.9 L230.1,603.2ZM128.6,590.8 L121.7,593.9 L121.0,592.5 L118.8,595.9 L122.8,596.5 L122.2,595.1 L129.1,592.0ZM139.9,590.8 L133.0,593.9 L132.3,592.5 L130.1,595.9 L134.1,596.5 L133.5,595.1 L140.4,592.0ZM151.1,590.8 L144.2,593.9 L143.6,592.5 L141.4,595.9 L145.4,596.5 L144.8,595.1 L151.7,592.0ZM230.7,590.8 L217.6,584.2 L218.3,582.9 L214.3,583.3 L216.4,586.8 L217.0,585.4 L230.1,592.0ZM128.6,579.5 L121.7,582.6 L121.0,581.2 L118.8,584.6 L122.8,585.2 L122.2,583.8 L129.1,580.7ZM139.9,579.5 L133.0,582.6 L132.3,581.2 L130.1,584.6 L134.1,585.2 L133.5,583.8 L140.4,580.7ZM151.1,579.5 L144.2,582.6 L143.6,581.2 L141.4,584.6 L145.4,585.2 L144.8,583.8 L151.7,580.7ZM162.4,579.5 L155.5,582.6 L154.9,581.2 L152.7,584.6 L156.7,585.2 L156.1,583.8 L163.0,580.7ZM230.7,579.5 L217.6,573.0 L218.3,571.6 L214.3,572.1 L216.4,575.5 L217.0,574.2 L230.1,580.7Z" fill="#e8141a"/>
</g>
<rect x="38.57" y="12.3" width="191.83" height="157.8" fill="none" stroke="#333" stroke-width="1.1"/>
<text x="33.6" y="38.7" font-size="14.0" text-anchor="end" textLength="33.4" lengthAdjust="spacingAndGlyphs" fill="#000" >24°N</text><text x="33.6" y="61.1" font-size="14.0" text-anchor="end" textLength="33.4" lengthAdjust="spacingAndGlyphs" fill="#000" >22°N</text><text x="33.6" y="83.4" font-size="14.0" text-anchor="end" textLength="33.4" lengthAdjust="spacingAndGlyphs" fill="#000" >20°N</text><text x="33.6" y="105.8" font-size="14.0" text-anchor="end" textLength="33.4" lengthAdjust="spacingAndGlyphs" fill="#000" >18°N</text><text x="33.6" y="128.1" font-size="14.0" text-anchor="end" textLength="33.4" lengthAdjust="spacingAndGlyphs" fill="#000" >16°N</text><text x="33.6" y="150.5" font-size="14.0" text-anchor="end" textLength="33.4" lengthAdjust="spacingAndGlyphs" fill="#000" >14°N</text>
<rect x="38.57" y="201.6" width="191.83" height="157.8" fill="none" stroke="#333" stroke-width="1.1"/>
<text x="33.6" y="228.0" font-size="14.0" text-anchor="end" textLength="33.4" lengthAdjust="spacingAndGlyphs" fill="#000" >24°N</text><text x="33.6" y="250.4" font-size="14.0" text-anchor="end" textLength="33.4" lengthAdjust="spacingAndGlyphs" fill="#000" >22°N</text><text x="33.6" y="272.7" font-size="14.0" text-anchor="end" textLength="33.4" lengthAdjust="spacingAndGlyphs" fill="#000" >20°N</text><text x="33.6" y="295.1" font-size="14.0" text-anchor="end" textLength="33.4" lengthAdjust="spacingAndGlyphs" fill="#000" >18°N</text><text x="33.6" y="317.4" font-size="14.0" text-anchor="end" textLength="33.4" lengthAdjust="spacingAndGlyphs" fill="#000" >16°N</text><text x="33.6" y="339.8" font-size="14.0" text-anchor="end" textLength="33.4" lengthAdjust="spacingAndGlyphs" fill="#000" >14°N</text>
<rect x="38.57" y="390.85" width="191.83" height="157.8" fill="none" stroke="#333" stroke-width="1.1"/>
<text x="33.6" y="417.2" font-size="14.0" text-anchor="end" textLength="33.4" lengthAdjust="spacingAndGlyphs" fill="#000" >24°N</text><text x="33.6" y="439.6" font-size="14.0" text-anchor="end" textLength="33.4" lengthAdjust="spacingAndGlyphs" fill="#000" >22°N</text><text x="33.6" y="462.0" font-size="14.0" text-anchor="end" textLength="33.4" lengthAdjust="spacingAndGlyphs" fill="#000" >20°N</text><text x="33.6" y="484.3" font-size="14.0" text-anchor="end" textLength="33.4" lengthAdjust="spacingAndGlyphs" fill="#000" >18°N</text><text x="33.6" y="506.7" font-size="14.0" text-anchor="end" textLength="33.4" lengthAdjust="spacingAndGlyphs" fill="#000" >16°N</text><text x="33.6" y="529.0" font-size="14.0" text-anchor="end" textLength="33.4" lengthAdjust="spacingAndGlyphs" fill="#000" >14°N</text>
<rect x="38.57" y="580.1" width="191.83" height="157.8" fill="none" stroke="#333" stroke-width="1.1"/>
<text x="33.6" y="606.5" font-size="14.0" text-anchor="end" textLength="33.4" lengthAdjust="spacingAndGlyphs" fill="#000" >24°N</text><text x="33.6" y="628.9" font-size="14.0" text-anchor="end" textLength="33.4" lengthAdjust="spacingAndGlyphs" fill="#000" >22°N</text><text x="33.6" y="651.2" font-size="14.0" text-anchor="end" textLength="33.4" lengthAdjust="spacingAndGlyphs" fill="#000" >20°N</text><text x="33.6" y="673.6" font-size="14.0" text-anchor="end" textLength="33.4" lengthAdjust="spacingAndGlyphs" fill="#000" >18°N</text><text x="33.6" y="695.9" font-size="14.0" text-anchor="end" textLength="33.4" lengthAdjust="spacingAndGlyphs" fill="#000" >16°N</text><text x="33.6" y="718.3" font-size="14.0" text-anchor="end" textLength="33.4" lengthAdjust="spacingAndGlyphs" fill="#000" >14°N</text>
<text x="72.4" y="752.3" font-size="14.0" text-anchor="middle" textLength="33.6" lengthAdjust="spacingAndGlyphs" fill="#000" >65°E</text>
<text x="128.8" y="752.3" font-size="14.0" text-anchor="middle" textLength="33.6" lengthAdjust="spacingAndGlyphs" fill="#000" >70°E</text>
<text x="185.3" y="752.3" font-size="14.0" text-anchor="middle" textLength="33.6" lengthAdjust="spacingAndGlyphs" fill="#000" >75°E</text>
<text x="38.9" y="6.6" font-size="9.5" text-anchor="start" textLength="53.9" lengthAdjust="spacingAndGlyphs" fill="#000" >(a) JJAS GPP</text>
<text x="38.9" y="196.0" font-size="9.5" text-anchor="start" textLength="33.5" lengthAdjust="spacingAndGlyphs" fill="#000" >(c) JJAS </text>
<text x="75.6" y="196.0" font-size="9.5" text-anchor="start" textLength="25.1" lengthAdjust="spacingAndGlyphs" font-style="italic" fill="#000" >Theta</text>
<text x="101.5" y="197.6" font-size="6.8" text-anchor="start" textLength="38.6" lengthAdjust="spacingAndGlyphs" fill="#000" >[500 − 850]</text>
<text x="38.9" y="385.1" font-size="9.5" text-anchor="start" textLength="33.5" lengthAdjust="spacingAndGlyphs" fill="#000" >(e) JJAS </text>
<text x="75.6" y="385.1" font-size="9.5" text-anchor="start" textLength="9.3" lengthAdjust="spacingAndGlyphs" font-style="italic" fill="#000" >W</text>
<text x="85.4" y="386.7" font-size="6.8" text-anchor="start" textLength="11.8" lengthAdjust="spacingAndGlyphs" fill="#000" >500</text>
<text x="39.2" y="574.1" font-size="9.5" text-anchor="start" textLength="106.8" lengthAdjust="spacingAndGlyphs" fill="#000" >(g) JJAS VIMFC &amp; VIMFT</text>
<text x="149.5" y="575.3" font-size="6.8" text-anchor="start" textLength="41.6" lengthAdjust="spacingAndGlyphs" fill="#000" >[1000 − 300]</text>
<text x="220.7" y="574.4" font-size="9.5" text-anchor="start" textLength="24.5" lengthAdjust="spacingAndGlyphs" fill="#000" >0.2 (kg</text>
<text x="247.6" y="574.4" font-size="9.5" text-anchor="start" textLength="6.7" lengthAdjust="spacingAndGlyphs" font-style="italic" fill="#000" >m</text>
<text x="255.2" y="570.0" font-size="6.8" text-anchor="start" textLength="7.8" lengthAdjust="spacingAndGlyphs" fill="#000" >−1</text>
<text x="263.4" y="574.4" font-size="9.5" text-anchor="start" textLength="4.0" lengthAdjust="spacingAndGlyphs" font-style="italic" fill="#000" >s</text>
<text x="268.3" y="570.0" font-size="6.8" text-anchor="start" textLength="7.4" lengthAdjust="spacingAndGlyphs" fill="#000" >−1</text>
<text x="276.2" y="574.4" font-size="9.5" text-anchor="start" textLength="32.8" lengthAdjust="spacingAndGlyphs" fill="#000" >)/decade</text>
<rect x="236.6" y="142.51" width="6.6" height="6.34" fill="#4a7090"/><rect x="236.6" y="136.78" width="6.6" height="6.34" fill="#4f7898"/><rect x="236.6" y="131.04" width="6.6" height="6.34" fill="#537d9e"/><rect x="236.6" y="125.31" width="6.6" height="6.34" fill="#5886aa"/><rect x="236.6" y="119.58" width="6.6" height="6.34" fill="#5f93ba"/><rect x="236.6" y="113.84" width="6.6" height="6.34" fill="#6aa0c8"/><rect x="236.6" y="108.11" width="6.6" height="6.34" fill="#72a8d2"/><rect x="236.6" y="102.37" width="6.6" height="6.34" fill="#b0cde3"/><rect x="236.6" y="96.64" width="6.6" height="6.34" fill="#e0eaf3"/><rect x="236.6" y="90.90" width="6.6" height="6.34" fill="#fffaf9"/><rect x="236.6" y="85.17" width="6.6" height="6.34" fill="#fffaf9"/><rect x="236.6" y="79.43" width="6.6" height="6.34" fill="#fffaf9"/><rect x="236.6" y="73.69" width="6.6" height="6.34" fill="#fdd8d2"/><rect x="236.6" y="67.96" width="6.6" height="6.34" fill="#f4a090"/><rect x="236.6" y="62.22" width="6.6" height="6.34" fill="#e8674c"/><rect x="236.6" y="56.49" width="6.6" height="6.34" fill="#cd4f38"/><rect x="236.6" y="50.75" width="6.6" height="6.34" fill="#b54533"/><rect x="236.6" y="45.02" width="6.6" height="6.34" fill="#9e3c2c"/><rect x="236.6" y="39.28" width="6.6" height="6.34" fill="#8f3828"/><rect x="236.6" y="33.55" width="6.6" height="6.34" fill="#8c3626"/><path d="M236.6,33.85 L239.90,28.11 L243.2,33.85Z" fill="#8a3525"/><path d="M236.6,148.55 L239.90,154.29 L243.2,148.55Z" fill="#476c8a"/><path d="M236.6,33.85 L239.90,28.11 L243.2,33.85 L243.2,148.55 L239.90,154.29 L236.6,148.55Z" fill="none" stroke="#222" stroke-width="0.8" stroke-linejoin="miter"/>
<line x1="243.2" y1="39.58" x2="246.8" y2="39.58" stroke="#222" stroke-width="0.9"/><text x="249.5" y="42.9" font-size="9.5" text-anchor="start" textLength="20.1" lengthAdjust="spacingAndGlyphs" fill="#000" >0.18</text><line x1="243.2" y1="56.79" x2="246.8" y2="56.79" stroke="#222" stroke-width="0.9"/><text x="249.5" y="60.1" font-size="9.5" text-anchor="start" textLength="20.1" lengthAdjust="spacingAndGlyphs" fill="#000" >0.12</text><line x1="243.2" y1="74.00" x2="246.8" y2="74.00" stroke="#222" stroke-width="0.9"/><text x="249.5" y="77.3" font-size="9.5" text-anchor="start" textLength="20.1" lengthAdjust="spacingAndGlyphs" fill="#000" >0.06</text><line x1="243.2" y1="91.20" x2="246.8" y2="91.20" stroke="#222" stroke-width="0.9"/><text x="249.5" y="94.5" font-size="9.5" text-anchor="start" textLength="20.1" lengthAdjust="spacingAndGlyphs" fill="#000" >0.00</text><line x1="243.2" y1="108.41" x2="246.8" y2="108.41" stroke="#222" stroke-width="0.9"/><text x="249.5" y="111.7" font-size="9.5" text-anchor="start" textLength="27.6" lengthAdjust="spacingAndGlyphs" fill="#000" >−0.06</text><line x1="243.2" y1="125.61" x2="246.8" y2="125.61" stroke="#222" stroke-width="0.9"/><text x="249.5" y="128.9" font-size="9.5" text-anchor="start" textLength="27.6" lengthAdjust="spacingAndGlyphs" fill="#000" >−0.12</text><line x1="243.2" y1="142.81" x2="246.8" y2="142.81" stroke="#222" stroke-width="0.9"/><text x="249.5" y="146.1" font-size="9.5" text-anchor="start" textLength="27.6" lengthAdjust="spacingAndGlyphs" fill="#000" >−0.18</text>
<g transform="translate(289.0,160.4) rotate(-90)"><text x="0.0" y="0.0" font-size="9.5" text-anchor="start" textLength="137.2" lengthAdjust="spacingAndGlyphs" fill="#000" >GPP Changing Rate (/decade)</text></g>
<rect x="236.6" y="330.62" width="6.6" height="7.28" fill="#ffffff"/><rect x="236.6" y="323.94" width="6.6" height="7.28" fill="#fafaf0"/><rect x="236.6" y="317.27" width="6.6" height="7.28" fill="#f5f5df"/><rect x="236.6" y="310.59" width="6.6" height="7.28" fill="#f0f0ce"/><rect x="236.6" y="303.91" width="6.6" height="7.28" fill="#eaeaba"/><rect x="236.6" y="297.23" width="6.6" height="7.28" fill="#e5e0af"/><rect x="236.6" y="290.56" width="6.6" height="7.28" fill="#dfd2a7"/><rect x="236.6" y="283.88" width="6.6" height="7.28" fill="#d9c3a0"/><rect x="236.6" y="277.20" width="6.6" height="7.28" fill="#d3b497"/><rect x="236.6" y="270.52" width="6.6" height="7.28" fill="#cda28f"/><rect x="236.6" y="263.84" width="6.6" height="7.28" fill="#c78f86"/><rect x="236.6" y="257.17" width="6.6" height="7.28" fill="#be7c7c"/><rect x="236.6" y="250.49" width="6.6" height="7.28" fill="#ae7171"/><rect x="236.6" y="243.81" width="6.6" height="7.28" fill="#9c6565"/><rect x="236.6" y="237.13" width="6.6" height="7.28" fill="#885757"/><rect x="236.6" y="230.46" width="6.6" height="7.28" fill="#714747"/><rect x="236.6" y="223.78" width="6.6" height="7.28" fill="#523232"/><rect x="236.6" y="217.10" width="6.6" height="7.28" fill="#1e0000"/><path d="M236.6,337.6 L239.90,343.60 L243.2,337.6Z" fill="#ffffff"/><path d="M236.6,217.4 L243.2,217.4 L243.2,337.6 L239.90,343.60 L236.6,337.6Z" fill="none" stroke="#222" stroke-width="0.8" stroke-linejoin="miter"/>
<line x1="243.2" y1="337.60" x2="246.8" y2="337.60" stroke="#222" stroke-width="0.9"/><text x="249.5" y="340.9" font-size="9.5" text-anchor="start" textLength="20.0" lengthAdjust="spacingAndGlyphs" fill="#000" >0.15</text><line x1="243.2" y1="324.24" x2="246.8" y2="324.24" stroke="#222" stroke-width="0.9"/><text x="249.5" y="327.5" font-size="9.5" text-anchor="start" textLength="20.0" lengthAdjust="spacingAndGlyphs" fill="#000" >0.20</text><line x1="243.2" y1="310.89" x2="246.8" y2="310.89" stroke="#222" stroke-width="0.9"/><text x="249.5" y="314.2" font-size="9.5" text-anchor="start" textLength="20.0" lengthAdjust="spacingAndGlyphs" fill="#000" >0.25</text><line x1="243.2" y1="297.53" x2="246.8" y2="297.53" stroke="#222" stroke-width="0.9"/><text x="249.5" y="300.8" font-size="9.5" text-anchor="start" textLength="20.0" lengthAdjust="spacingAndGlyphs" fill="#000" >0.30</text><line x1="243.2" y1="284.18" x2="246.8" y2="284.18" stroke="#222" stroke-width="0.9"/><text x="249.5" y="287.5" font-size="9.5" text-anchor="start" textLength="20.0" lengthAdjust="spacingAndGlyphs" fill="#000" >0.35</text><line x1="243.2" y1="270.82" x2="246.8" y2="270.82" stroke="#222" stroke-width="0.9"/><text x="249.5" y="274.1" font-size="9.5" text-anchor="start" textLength="20.0" lengthAdjust="spacingAndGlyphs" fill="#000" >0.40</text><line x1="243.2" y1="257.47" x2="246.8" y2="257.47" stroke="#222" stroke-width="0.9"/><text x="249.5" y="260.8" font-size="9.5" text-anchor="start" textLength="20.0" lengthAdjust="spacingAndGlyphs" fill="#000" >0.45</text><line x1="243.2" y1="244.11" x2="246.8" y2="244.11" stroke="#222" stroke-width="0.9"/><text x="249.5" y="247.4" font-size="9.5" text-anchor="start" textLength="20.0" lengthAdjust="spacingAndGlyphs" fill="#000" >0.50</text><line x1="243.2" y1="230.76" x2="246.8" y2="230.76" stroke="#222" stroke-width="0.9"/><text x="249.5" y="234.1" font-size="9.5" text-anchor="start" textLength="20.0" lengthAdjust="spacingAndGlyphs" fill="#000" >0.55</text><line x1="243.2" y1="217.40" x2="246.8" y2="217.40" stroke="#222" stroke-width="0.9"/><text x="249.5" y="220.7" font-size="9.5" text-anchor="start" textLength="20.0" lengthAdjust="spacingAndGlyphs" fill="#000" >0.60</text>
<g transform="translate(281.9,340.5) rotate(-90)"><text x="0.0" y="0.0" font-size="9.5" text-anchor="start" textLength="25.4" lengthAdjust="spacingAndGlyphs" font-style="italic" fill="#000" >Theta</text><text x="26.4" y="1.6" font-size="6.8" text-anchor="start" textLength="37.6" lengthAdjust="spacingAndGlyphs" fill="#000" >[500 − 850]</text><text x="70.6" y="0.0" font-size="9.5" text-anchor="start" textLength="50.8" lengthAdjust="spacingAndGlyphs" fill="#000" >(K/decade)</text></g>
<rect x="236.6" y="526.54" width="6.6" height="6.61" fill="#4a7090"/><rect x="236.6" y="520.53" width="6.6" height="6.61" fill="#4f7898"/><rect x="236.6" y="514.52" width="6.6" height="6.61" fill="#537d9e"/><rect x="236.6" y="508.51" width="6.6" height="6.61" fill="#5886aa"/><rect x="236.6" y="502.50" width="6.6" height="6.61" fill="#5f93ba"/><rect x="236.6" y="496.49" width="6.6" height="6.61" fill="#6aa0c8"/><rect x="236.6" y="490.48" width="6.6" height="6.61" fill="#72a8d2"/><rect x="236.6" y="484.47" width="6.6" height="6.61" fill="#b0cde3"/><rect x="236.6" y="478.46" width="6.6" height="6.61" fill="#e0eaf3"/><rect x="236.6" y="472.45" width="6.6" height="6.61" fill="#fffaf9"/><rect x="236.6" y="466.44" width="6.6" height="6.61" fill="#fffaf9"/><rect x="236.6" y="460.43" width="6.6" height="6.61" fill="#fffaf9"/><rect x="236.6" y="454.42" width="6.6" height="6.61" fill="#fdd8d2"/><rect x="236.6" y="448.41" width="6.6" height="6.61" fill="#f4a090"/><rect x="236.6" y="442.40" width="6.6" height="6.61" fill="#e8674c"/><rect x="236.6" y="436.39" width="6.6" height="6.61" fill="#cd4f38"/><rect x="236.6" y="430.38" width="6.6" height="6.61" fill="#b54533"/><rect x="236.6" y="424.37" width="6.6" height="6.61" fill="#9e3c2c"/><rect x="236.6" y="418.36" width="6.6" height="6.61" fill="#8f3828"/><rect x="236.6" y="412.35" width="6.6" height="6.61" fill="#8c3626"/><path d="M236.6,412.65 L239.90,406.65 L243.2,412.65Z" fill="#8a3525"/><path d="M236.6,412.65 L239.90,406.65 L243.2,412.65 L243.2,532.85 L236.6,532.85Z" fill="none" stroke="#222" stroke-width="0.8" stroke-linejoin="miter"/>
<line x1="243.2" y1="418.66" x2="246.8" y2="418.66" stroke="#222" stroke-width="0.9"/><text x="249.5" y="422.0" font-size="9.5" text-anchor="start" textLength="20.1" lengthAdjust="spacingAndGlyphs" fill="#000" >0.72</text><line x1="243.2" y1="436.69" x2="246.8" y2="436.69" stroke="#222" stroke-width="0.9"/><text x="249.5" y="440.0" font-size="9.5" text-anchor="start" textLength="20.1" lengthAdjust="spacingAndGlyphs" fill="#000" >0.48</text><line x1="243.2" y1="454.72" x2="246.8" y2="454.72" stroke="#222" stroke-width="0.9"/><text x="249.5" y="458.0" font-size="9.5" text-anchor="start" textLength="20.1" lengthAdjust="spacingAndGlyphs" fill="#000" >0.24</text><line x1="243.2" y1="472.75" x2="246.8" y2="472.75" stroke="#222" stroke-width="0.9"/><text x="249.5" y="476.1" font-size="9.5" text-anchor="start" textLength="20.1" lengthAdjust="spacingAndGlyphs" fill="#000" >0.00</text><line x1="243.2" y1="490.78" x2="246.8" y2="490.78" stroke="#222" stroke-width="0.9"/><text x="249.5" y="494.1" font-size="9.5" text-anchor="start" textLength="27.4" lengthAdjust="spacingAndGlyphs" fill="#000" >−0.24</text><line x1="243.2" y1="508.81" x2="246.8" y2="508.81" stroke="#222" stroke-width="0.9"/><text x="249.5" y="512.1" font-size="9.5" text-anchor="start" textLength="27.4" lengthAdjust="spacingAndGlyphs" fill="#000" >−0.48</text><line x1="243.2" y1="526.84" x2="246.8" y2="526.84" stroke="#222" stroke-width="0.9"/><text x="249.5" y="530.1" font-size="9.5" text-anchor="start" textLength="27.4" lengthAdjust="spacingAndGlyphs" fill="#000" >−0.72</text>
<g transform="translate(290.2,517.8) rotate(-90)"><text x="0.5" y="0.0" font-size="9.5" text-anchor="start" textLength="8.6" lengthAdjust="spacingAndGlyphs" font-style="italic" fill="#000" >W</text><text x="9.8" y="1.6" font-size="6.8" text-anchor="start" textLength="11.5" lengthAdjust="spacingAndGlyphs" fill="#000" >500</text><text x="24.1" y="0.0" font-size="9.5" text-anchor="start" textLength="2.9" lengthAdjust="spacingAndGlyphs" fill="#000" >(</text><text x="27.7" y="0.0" font-size="9.5" text-anchor="start" textLength="12.1" lengthAdjust="spacingAndGlyphs" font-style="italic" fill="#000" >ms</text><text x="41.3" y="-3.8" font-size="6.8" text-anchor="start" textLength="8.6" lengthAdjust="spacingAndGlyphs" fill="#000" >−1</text><text x="51.3" y="0.0" font-size="9.5" text-anchor="start" textLength="3.6" lengthAdjust="spacingAndGlyphs" fill="#000" >)</text><text x="57.7" y="0.0" font-size="9.5" text-anchor="start" textLength="38.7" lengthAdjust="spacingAndGlyphs" fill="#000" >/decade</text></g>
<rect x="236.6" y="709.68" width="6.6" height="6.97" fill="#4a7090"/><rect x="236.6" y="703.31" width="6.6" height="6.97" fill="#537d9e"/><rect x="236.6" y="696.93" width="6.6" height="6.97" fill="#5886aa"/><rect x="236.6" y="690.56" width="6.6" height="6.97" fill="#5f93ba"/><rect x="236.6" y="684.19" width="6.6" height="6.97" fill="#6aa0c8"/><rect x="236.6" y="677.82" width="6.6" height="6.97" fill="#72a8d2"/><rect x="236.6" y="671.44" width="6.6" height="6.97" fill="#c0d6e8"/><rect x="236.6" y="665.07" width="6.6" height="6.97" fill="#fffaf9"/><rect x="236.6" y="658.70" width="6.6" height="6.97" fill="#fffaf9"/><rect x="236.6" y="652.33" width="6.6" height="6.97" fill="#fffaf9"/><rect x="236.6" y="645.96" width="6.6" height="6.97" fill="#fff0ee"/><rect x="236.6" y="639.58" width="6.6" height="6.97" fill="#fbc8c0"/><rect x="236.6" y="633.21" width="6.6" height="6.97" fill="#f4a090"/><rect x="236.6" y="626.84" width="6.6" height="6.97" fill="#e8674c"/><rect x="236.6" y="620.47" width="6.6" height="6.97" fill="#cd4f38"/><rect x="236.6" y="614.09" width="6.6" height="6.97" fill="#a84030"/><rect x="236.6" y="607.72" width="6.6" height="6.97" fill="#8f3828"/><rect x="236.6" y="601.35" width="6.6" height="6.97" fill="#8c3626"/><path d="M236.6,601.65 L239.90,595.91 L243.2,601.65Z" fill="#8a3525"/><path d="M236.6,716.35 L239.90,722.09 L243.2,716.35Z" fill="#476c8a"/><path d="M236.6,601.65 L239.90,595.91 L243.2,601.65 L243.2,716.35 L239.90,722.09 L236.6,716.35Z" fill="none" stroke="#222" stroke-width="0.8" stroke-linejoin="miter"/>
<line x1="243.2" y1="608.02" x2="246.8" y2="608.02" stroke="#222" stroke-width="0.9"/><text x="249.5" y="611.3" font-size="9.5" text-anchor="start" textLength="20.3" lengthAdjust="spacingAndGlyphs" fill="#000" >0.64</text><line x1="243.2" y1="620.77" x2="246.8" y2="620.77" stroke="#222" stroke-width="0.9"/><text x="249.5" y="624.1" font-size="9.5" text-anchor="start" textLength="20.3" lengthAdjust="spacingAndGlyphs" fill="#000" >0.48</text><line x1="243.2" y1="633.51" x2="246.8" y2="633.51" stroke="#222" stroke-width="0.9"/><text x="249.5" y="636.8" font-size="9.5" text-anchor="start" textLength="20.3" lengthAdjust="spacingAndGlyphs" fill="#000" >0.32</text><line x1="243.2" y1="646.26" x2="246.8" y2="646.26" stroke="#222" stroke-width="0.9"/><text x="249.5" y="649.6" font-size="9.5" text-anchor="start" textLength="20.3" lengthAdjust="spacingAndGlyphs" fill="#000" >0.16</text><line x1="243.2" y1="659.00" x2="246.8" y2="659.00" stroke="#222" stroke-width="0.9"/><text x="249.5" y="662.3" font-size="9.5" text-anchor="start" textLength="20.3" lengthAdjust="spacingAndGlyphs" fill="#000" >0.00</text><line x1="243.2" y1="671.74" x2="246.8" y2="671.74" stroke="#222" stroke-width="0.9"/><text x="249.5" y="675.0" font-size="9.5" text-anchor="start" textLength="28.5" lengthAdjust="spacingAndGlyphs" fill="#000" >−0.16</text><line x1="243.2" y1="684.49" x2="246.8" y2="684.49" stroke="#222" stroke-width="0.9"/><text x="249.5" y="687.8" font-size="9.5" text-anchor="start" textLength="28.5" lengthAdjust="spacingAndGlyphs" fill="#000" >−0.32</text><line x1="243.2" y1="697.23" x2="246.8" y2="697.23" stroke="#222" stroke-width="0.9"/><text x="249.5" y="700.5" font-size="9.5" text-anchor="start" textLength="28.5" lengthAdjust="spacingAndGlyphs" fill="#000" >−0.48</text><line x1="243.2" y1="709.98" x2="246.8" y2="709.98" stroke="#222" stroke-width="0.9"/><text x="249.5" y="713.3" font-size="9.5" text-anchor="start" textLength="28.5" lengthAdjust="spacingAndGlyphs" fill="#000" >−0.64</text>
<g transform="translate(290.4,720.9) rotate(-90)"><text x="0.0" y="0.0" font-size="9.5" text-anchor="start" textLength="44.0" lengthAdjust="spacingAndGlyphs" fill="#000" >VIMFC (kg</text><text x="45.5" y="0.0" font-size="9.5" text-anchor="start" textLength="8.5" lengthAdjust="spacingAndGlyphs" font-style="italic" fill="#000" >m</text><text x="56.0" y="-3.8" font-size="6.8" text-anchor="start" textLength="9.0" lengthAdjust="spacingAndGlyphs" fill="#000" >−2</text><text x="67.0" y="0.0" font-size="9.5" text-anchor="start" textLength="6.0" lengthAdjust="spacingAndGlyphs" font-style="italic" fill="#000" >s</text><text x="74.5" y="-3.8" font-size="6.8" text-anchor="start" textLength="8.5" lengthAdjust="spacingAndGlyphs" fill="#000" >−1</text><text x="84.0" y="0.0" font-size="9.5" text-anchor="start" textLength="40.7" lengthAdjust="spacingAndGlyphs" fill="#000" >)/decade</text></g>
<clipPath id="cb"><rect x="353.05" y="8.55" width="331.95" height="165.54999999999998"/></clipPath><line x1="353.05" y1="12.55" x2="353.05" y2="170.7" stroke="#666" stroke-width="1.7"/><line x1="352.25" y1="170.1" x2="685" y2="170.1" stroke="#3a3a3a" stroke-width="1.4"/><line x1="349.6" y1="159.1" x2="353.05" y2="159.1" stroke="#444" stroke-width="0.9"/><text x="346.3" y="162.7" font-size="10.2" text-anchor="end" textLength="14.6" lengthAdjust="spacingAndGlyphs" fill="#000" >0.1</text><line x1="349.6" y1="138.59" x2="353.05" y2="138.59" stroke="#444" stroke-width="0.9"/><text x="346.3" y="142.2" font-size="10.2" text-anchor="end" textLength="14.6" lengthAdjust="spacingAndGlyphs" fill="#000" >0.2</text><line x1="349.6" y1="118.07999999999998" x2="353.05" y2="118.07999999999998" stroke="#444" stroke-width="0.9"/><text x="346.3" y="121.7" font-size="10.2" text-anchor="end" textLength="14.6" lengthAdjust="spacingAndGlyphs" fill="#000" >0.3</text><line x1="349.6" y1="97.57" x2="353.05" y2="97.57" stroke="#444" stroke-width="0.9"/><text x="346.3" y="101.2" font-size="10.2" text-anchor="end" textLength="14.6" lengthAdjust="spacingAndGlyphs" fill="#000" >0.4</text><line x1="349.6" y1="77.05999999999999" x2="353.05" y2="77.05999999999999" stroke="#444" stroke-width="0.9"/><text x="346.3" y="80.7" font-size="10.2" text-anchor="end" textLength="14.6" lengthAdjust="spacingAndGlyphs" fill="#000" >0.5</text><line x1="349.6" y1="56.54999999999998" x2="353.05" y2="56.54999999999998" stroke="#444" stroke-width="0.9"/><text x="346.3" y="60.1" font-size="10.2" text-anchor="end" textLength="14.6" lengthAdjust="spacingAndGlyphs" fill="#000" >0.6</text><line x1="349.6" y1="36.03999999999999" x2="353.05" y2="36.03999999999999" stroke="#444" stroke-width="0.9"/><text x="346.3" y="39.6" font-size="10.2" text-anchor="end" textLength="14.6" lengthAdjust="spacingAndGlyphs" fill="#000" >0.7</text><line x1="349.6" y1="15.529999999999973" x2="353.05" y2="15.529999999999973" stroke="#444" stroke-width="0.9"/><text x="346.3" y="19.1" font-size="10.2" text-anchor="end" textLength="14.6" lengthAdjust="spacingAndGlyphs" fill="#000" >0.8</text>
<line x1="368.3" y1="131.2" x2="669.5" y2="75.3" stroke="#ff0000" stroke-width="2.4" stroke-dasharray="6.5 3.55"/>
<g clip-path="url(#cb)"><path d="M368.3,92.6 L375.8,110.7 L383.4,71.4 L390.9,106.5 L398.4,129.0 L405.9,138.4 L413.5,146.2 L421.0,98.2 L428.5,117.5 L436.1,121.2 L443.6,123.0 L451.1,121.2 L458.7,148.8 L466.2,56.2 L473.7,138.9 L481.2,127.7 L488.8,120.8 L496.3,125.3 L503.8,162.8 L511.4,154.4 L518.9,109.0 L526.4,148.4 L534.0,116.0 L541.5,124.2 L549.0,103.3 L556.5,50.8 L564.1,43.8 L571.6,88.5 L579.1,118.6 L586.7,59.9 L594.2,79.1 L601.7,107.5 L609.3,59.7 L616.8,135.3 L624.3,68.4 L631.9,99.8 L639.4,106.6 L646.9,119.1 L654.4,19.6 L662.0,25.9 L669.5,26.5" fill="none" stroke="#000" stroke-width="1.45" stroke-linejoin="round"/><circle cx="368.3" cy="92.6" r="3.05"/><circle cx="375.8" cy="110.7" r="3.05"/><circle cx="383.4" cy="71.4" r="3.05"/><circle cx="390.9" cy="106.5" r="3.05"/><circle cx="398.4" cy="129.0" r="3.05"/><circle cx="405.9" cy="138.4" r="3.05"/><circle cx="413.5" cy="146.2" r="3.05"/><circle cx="421.0" cy="98.2" r="3.05"/><circle cx="428.5" cy="117.5" r="3.05"/><circle cx="436.1" cy="121.2" r="3.05"/><circle cx="443.6" cy="123.0" r="3.05"/><circle cx="451.1" cy="121.2" r="3.05"/><circle cx="458.7" cy="148.8" r="3.05"/><circle cx="466.2" cy="56.2" r="3.05"/><circle cx="473.7" cy="138.9" r="3.05"/><circle cx="481.2" cy="127.7" r="3.05"/><circle cx="488.8" cy="120.8" r="3.05"/><circle cx="496.3" cy="125.3" r="3.05"/><circle cx="503.8" cy="162.8" r="3.05"/><circle cx="511.4" cy="154.4" r="3.05"/><circle cx="518.9" cy="109.0" r="3.05"/><circle cx="526.4" cy="148.4" r="3.05"/><circle cx="534.0" cy="116.0" r="3.05"/><circle cx="541.5" cy="124.2" r="3.05"/><circle cx="549.0" cy="103.3" r="3.05"/><circle cx="556.5" cy="50.8" r="3.05"/><circle cx="564.1" cy="43.8" r="3.05"/><circle cx="571.6" cy="88.5" r="3.05"/><circle cx="579.1" cy="118.6" r="3.05"/><circle cx="586.7" cy="59.9" r="3.05"/><circle cx="594.2" cy="79.1" r="3.05"/><circle cx="601.7" cy="107.5" r="3.05"/><circle cx="609.3" cy="59.7" r="3.05"/><circle cx="616.8" cy="135.3" r="3.05"/><circle cx="624.3" cy="68.4" r="3.05"/><circle cx="631.9" cy="99.8" r="3.05"/><circle cx="639.4" cy="106.6" r="3.05"/><circle cx="646.9" cy="119.1" r="3.05"/><circle cx="654.4" cy="19.6" r="3.05"/><circle cx="662.0" cy="25.9" r="3.05"/><circle cx="669.5" cy="26.5" r="3.05"/></g>
<rect x="468.2" y="138.2" width="210.90000000000003" height="27.0" rx="2" ry="2" fill="#fff" fill-opacity="0.8" stroke="#d4d4d4" stroke-width="0.9"/>
<line x1="471.5" y1="152.3" x2="491.2" y2="152.3" stroke="#000" stroke-width="1.45"/><circle cx="481.4" cy="152.3" r="3.05"/>
<text x="498.4" y="155.7" font-size="10.0" text-anchor="start" textLength="18.6" lengthAdjust="spacingAndGlyphs" fill="#000" >GPP</text>
<line x1="538.2" y1="152.3" x2="555.3" y2="152.3" stroke="#ff0000" stroke-width="2.4" stroke-dasharray="6.5 3.55"/>
<text x="564.5" y="148.7" font-size="9.5" text-anchor="start" textLength="83.4" lengthAdjust="spacingAndGlyphs" fill="#000" >Trend(1981-2022)</text>
<text x="567.7" y="159.6" font-size="9.5" text-anchor="start" textLength="108.5" lengthAdjust="spacingAndGlyphs" fill="#000" >p=0.013,slope=0.0054</text>
<clipPath id="cd"><rect x="353.05" y="197.5" width="331.95" height="165.57"/></clipPath><line x1="353.05" y1="201.5" x2="353.05" y2="359.67" stroke="#666" stroke-width="1.7"/><line x1="352.25" y1="359.07" x2="685" y2="359.07" stroke="#3a3a3a" stroke-width="1.4"/><line x1="349.6" y1="324.3" x2="353.05" y2="324.3" stroke="#444" stroke-width="0.9"/><text x="346.3" y="327.9" font-size="10.2" text-anchor="end" textLength="11.9" lengthAdjust="spacingAndGlyphs" fill="#000" >20</text><line x1="349.6" y1="285.67" x2="353.05" y2="285.67" stroke="#444" stroke-width="0.9"/><text x="346.3" y="289.3" font-size="10.2" text-anchor="end" textLength="11.9" lengthAdjust="spacingAndGlyphs" fill="#000" >21</text><line x1="349.6" y1="247.04000000000002" x2="353.05" y2="247.04000000000002" stroke="#444" stroke-width="0.9"/><text x="346.3" y="250.6" font-size="10.2" text-anchor="end" textLength="11.9" lengthAdjust="spacingAndGlyphs" fill="#000" >22</text><line x1="349.6" y1="208.41" x2="353.05" y2="208.41" stroke="#444" stroke-width="0.9"/><text x="346.3" y="212.0" font-size="10.2" text-anchor="end" textLength="11.9" lengthAdjust="spacingAndGlyphs" fill="#000" >23</text>
<line x1="367.8" y1="320.0" x2="669.5" y2="249.9" stroke="#ff0000" stroke-width="2.4" stroke-dasharray="6.5 3.55"/>
<g clip-path="url(#cd)"><path d="M367.9,305.0 L375.2,311.8 L382.6,292.8 L389.9,352.1 L397.3,328.4 L404.6,307.2 L412.0,311.4 L419.3,281.9 L426.7,269.1 L434.0,303.4 L441.4,315.8 L448.8,310.0 L456.1,324.0 L463.5,266.9 L470.8,304.1 L478.2,283.9 L485.5,297.9 L492.9,303.6 L500.2,303.8 L507.6,302.3 L515.0,286.2 L522.3,306.1 L529.7,260.5 L537.0,282.4 L544.4,282.4 L551.7,264.7 L559.1,251.6 L566.4,291.5 L573.8,303.0 L581.1,244.6 L588.5,278.8 L595.9,292.1 L603.2,228.6 L610.6,267.2 L617.9,304.1 L625.3,258.3 L632.6,262.5 L640.0,289.7 L647.3,251.9 L654.7,231.1 L662.1,239.9 L669.4,208.5" fill="none" stroke="#000" stroke-width="1.45" stroke-linejoin="round"/><circle cx="367.9" cy="305.0" r="3.05"/><circle cx="375.2" cy="311.8" r="3.05"/><circle cx="382.6" cy="292.8" r="3.05"/><circle cx="389.9" cy="352.1" r="3.05"/><circle cx="397.3" cy="328.4" r="3.05"/><circle cx="404.6" cy="307.2" r="3.05"/><circle cx="412.0" cy="311.4" r="3.05"/><circle cx="419.3" cy="281.9" r="3.05"/><circle cx="426.7" cy="269.1" r="3.05"/><circle cx="434.0" cy="303.4" r="3.05"/><circle cx="441.4" cy="315.8" r="3.05"/><circle cx="448.8" cy="310.0" r="3.05"/><circle cx="456.1" cy="324.0" r="3.05"/><circle cx="463.5" cy="266.9" r="3.05"/><circle cx="470.8" cy="304.1" r="3.05"/><circle cx="478.2" cy="283.9" r="3.05"/><circle cx="485.5" cy="297.9" r="3.05"/><circle cx="492.9" cy="303.6" r="3.05"/><circle cx="500.2" cy="303.8" r="3.05"/><circle cx="507.6" cy="302.3" r="3.05"/><circle cx="515.0" cy="286.2" r="3.05"/><circle cx="522.3" cy="306.1" r="3.05"/><circle cx="529.7" cy="260.5" r="3.05"/><circle cx="537.0" cy="282.4" r="3.05"/><circle cx="544.4" cy="282.4" r="3.05"/><circle cx="551.7" cy="264.7" r="3.05"/><circle cx="559.1" cy="251.6" r="3.05"/><circle cx="566.4" cy="291.5" r="3.05"/><circle cx="573.8" cy="303.0" r="3.05"/><circle cx="581.1" cy="244.6" r="3.05"/><circle cx="588.5" cy="278.8" r="3.05"/><circle cx="595.9" cy="292.1" r="3.05"/><circle cx="603.2" cy="228.6" r="3.05"/><circle cx="610.6" cy="267.2" r="3.05"/><circle cx="617.9" cy="304.1" r="3.05"/><circle cx="625.3" cy="258.3" r="3.05"/><circle cx="632.6" cy="262.5" r="3.05"/><circle cx="640.0" cy="289.7" r="3.05"/><circle cx="647.3" cy="251.9" r="3.05"/><circle cx="654.7" cy="231.1" r="3.05"/><circle cx="662.1" cy="239.9" r="3.05"/><circle cx="669.4" cy="208.5" r="3.05"/></g>
<rect x="398.4" y="327.6" width="281.1" height="26.299999999999955" rx="2" ry="2" fill="#fff" fill-opacity="0.8" stroke="#d4d4d4" stroke-width="0.9"/>
<line x1="401.4" y1="340.3" x2="421.7" y2="340.3" stroke="#000" stroke-width="1.45"/><circle cx="411.5" cy="340.3" r="3.05"/>
<text x="428.0" y="343.6" font-size="9.5" text-anchor="start" textLength="25.4" lengthAdjust="spacingAndGlyphs" font-style="italic" fill="#000" >Theta</text>
<text x="454.3" y="345.2" font-size="6.8" text-anchor="start" textLength="38.9" lengthAdjust="spacingAndGlyphs" fill="#000" >[500 − 850]</text>
<text x="495.8" y="343.6" font-size="9.5" text-anchor="start" textLength="13.5" lengthAdjust="spacingAndGlyphs" fill="#000" >(<tspan font-style="italic">K</tspan>)</text>
<line x1="528.4" y1="340.3" x2="546.6" y2="340.3" stroke="#ff0000" stroke-width="2.4" stroke-dasharray="6.5 3.55"/>
<text x="555.0" y="338.1" font-size="9.5" text-anchor="start" textLength="83.4" lengthAdjust="spacingAndGlyphs" fill="#000" >Trend(1981-2022)</text>
<text x="558.0" y="348.7" font-size="9.5" text-anchor="start" textLength="117.7" lengthAdjust="spacingAndGlyphs" fill="#000" >p=6.92e-07,slope=0.042</text>
<clipPath id="cf"><rect x="353.05" y="386.2" width="331.95" height="165.54000000000002"/></clipPath><line x1="353.05" y1="390.2" x2="353.05" y2="548.34" stroke="#666" stroke-width="1.7"/><line x1="352.25" y1="547.74" x2="685" y2="547.74" stroke="#3a3a3a" stroke-width="1.4"/><line x1="349.6" y1="547.3" x2="353.05" y2="547.3" stroke="#444" stroke-width="0.9"/><text x="346.3" y="550.9" font-size="10.2" text-anchor="end" textLength="14.6" lengthAdjust="spacingAndGlyphs" fill="#000" >0.0</text><line x1="349.6" y1="522.27" x2="353.05" y2="522.27" stroke="#444" stroke-width="0.9"/><text x="346.3" y="525.9" font-size="10.2" text-anchor="end" textLength="14.6" lengthAdjust="spacingAndGlyphs" fill="#000" >0.5</text><line x1="349.6" y1="497.23999999999995" x2="353.05" y2="497.23999999999995" stroke="#444" stroke-width="0.9"/><text x="346.3" y="500.8" font-size="10.2" text-anchor="end" textLength="14.6" lengthAdjust="spacingAndGlyphs" fill="#000" >1.0</text><line x1="349.6" y1="472.2099999999999" x2="353.05" y2="472.2099999999999" stroke="#444" stroke-width="0.9"/><text x="346.3" y="475.8" font-size="10.2" text-anchor="end" textLength="14.6" lengthAdjust="spacingAndGlyphs" fill="#000" >1.5</text><line x1="349.6" y1="447.17999999999995" x2="353.05" y2="447.17999999999995" stroke="#444" stroke-width="0.9"/><text x="346.3" y="450.8" font-size="10.2" text-anchor="end" textLength="14.6" lengthAdjust="spacingAndGlyphs" fill="#000" >2.0</text><line x1="349.6" y1="422.15" x2="353.05" y2="422.15" stroke="#444" stroke-width="0.9"/><text x="346.3" y="425.8" font-size="10.2" text-anchor="end" textLength="14.6" lengthAdjust="spacingAndGlyphs" fill="#000" >2.5</text><line x1="349.6" y1="397.11999999999995" x2="353.05" y2="397.11999999999995" stroke="#444" stroke-width="0.9"/><text x="346.3" y="400.7" font-size="10.2" text-anchor="end" textLength="14.6" lengthAdjust="spacingAndGlyphs" fill="#000" >3.0</text>
<line x1="367.8" y1="493.4" x2="669.5" y2="456.9" stroke="#ff0000" stroke-width="2.4" stroke-dasharray="6.5 3.55"/>
<g clip-path="url(#cf)"><path d="M367.9,422.2 L375.2,483.0 L382.6,397.6 L389.9,488.1 L397.3,526.8 L404.6,541.0 L412.0,540.8 L419.3,462.4 L426.7,472.2 L434.0,516.4 L441.4,528.4 L448.8,474.2 L456.1,500.0 L463.5,457.1 L470.8,538.1 L478.2,451.4 L485.5,501.4 L492.9,428.8 L500.2,517.7 L507.6,502.7 L515.0,513.3 L522.3,518.4 L529.7,505.6 L537.0,451.4 L544.4,441.9 L551.7,418.8 L559.1,400.0 L566.4,464.6 L573.8,496.7 L581.1,409.8 L588.5,409.8 L595.9,503.6 L603.2,489.6 L610.6,508.9 L617.9,476.2 L625.3,496.3 L632.6,477.5 L640.0,517.8 L647.3,419.3 L654.7,399.8 L662.1,466.5 L669.4,420.9" fill="none" stroke="#000" stroke-width="1.45" stroke-linejoin="round"/><circle cx="367.9" cy="422.2" r="3.05"/><circle cx="375.2" cy="483.0" r="3.05"/><circle cx="382.6" cy="397.6" r="3.05"/><circle cx="389.9" cy="488.1" r="3.05"/><circle cx="397.3" cy="526.8" r="3.05"/><circle cx="404.6" cy="541.0" r="3.05"/><circle cx="412.0" cy="540.8" r="3.05"/><circle cx="419.3" cy="462.4" r="3.05"/><circle cx="426.7" cy="472.2" r="3.05"/><circle cx="434.0" cy="516.4" r="3.05"/><circle cx="441.4" cy="528.4" r="3.05"/><circle cx="448.8" cy="474.2" r="3.05"/><circle cx="456.1" cy="500.0" r="3.05"/><circle cx="463.5" cy="457.1" r="3.05"/><circle cx="470.8" cy="538.1" r="3.05"/><circle cx="478.2" cy="451.4" r="3.05"/><circle cx="485.5" cy="501.4" r="3.05"/><circle cx="492.9" cy="428.8" r="3.05"/><circle cx="500.2" cy="517.7" r="3.05"/><circle cx="507.6" cy="502.7" r="3.05"/><circle cx="515.0" cy="513.3" r="3.05"/><circle cx="522.3" cy="518.4" r="3.05"/><circle cx="529.7" cy="505.6" r="3.05"/><circle cx="537.0" cy="451.4" r="3.05"/><circle cx="544.4" cy="441.9" r="3.05"/><circle cx="551.7" cy="418.8" r="3.05"/><circle cx="559.1" cy="400.0" r="3.05"/><circle cx="566.4" cy="464.6" r="3.05"/><circle cx="573.8" cy="496.7" r="3.05"/><circle cx="581.1" cy="409.8" r="3.05"/><circle cx="588.5" cy="409.8" r="3.05"/><circle cx="595.9" cy="503.6" r="3.05"/><circle cx="603.2" cy="489.6" r="3.05"/><circle cx="610.6" cy="508.9" r="3.05"/><circle cx="617.9" cy="476.2" r="3.05"/><circle cx="625.3" cy="496.3" r="3.05"/><circle cx="632.6" cy="477.5" r="3.05"/><circle cx="640.0" cy="517.8" r="3.05"/><circle cx="647.3" cy="419.3" r="3.05"/><circle cx="654.7" cy="399.8" r="3.05"/><circle cx="662.1" cy="466.5" r="3.05"/><circle cx="669.4" cy="420.9" r="3.05"/></g>
<rect x="438.6" y="516.6" width="240.19999999999993" height="27.0" rx="2" ry="2" fill="#fff" fill-opacity="0.8" stroke="#d4d4d4" stroke-width="0.9"/>
<line x1="441.6" y1="530.1" x2="460.5" y2="530.1" stroke="#000" stroke-width="1.45"/><circle cx="451.1" cy="530.1" r="3.05"/>
<text x="468.6" y="533.4" font-size="9.5" text-anchor="start" textLength="9.5" lengthAdjust="spacingAndGlyphs" font-style="italic" fill="#000" >W</text>
<text x="478.3" y="535.0" font-size="6.8" text-anchor="start" textLength="11.6" lengthAdjust="spacingAndGlyphs" fill="#000" >500</text>
<text x="493.0" y="533.4" font-size="9.5" text-anchor="start" textLength="19.5" lengthAdjust="spacingAndGlyphs" fill="#000" >(<tspan font-style="italic">ms</tspan></text>
<text x="512.5" y="529.3" font-size="6.8" text-anchor="start" textLength="7.6" lengthAdjust="spacingAndGlyphs" fill="#000" >−1</text>
<text x="520.6" y="533.4" font-size="9.5" text-anchor="start" textLength="3.6" lengthAdjust="spacingAndGlyphs" fill="#000" >)</text>
<line x1="543.8" y1="530.1" x2="560.9" y2="530.1" stroke="#ff0000" stroke-width="2.4" stroke-dasharray="6.5 3.55"/>
<text x="570.8" y="527.2" font-size="9.5" text-anchor="start" textLength="82.4" lengthAdjust="spacingAndGlyphs" fill="#000" >Trend(1981-2022)</text>
<text x="573.7" y="537.8" font-size="9.5" text-anchor="start" textLength="102.2" lengthAdjust="spacingAndGlyphs" fill="#000" >p=0.075,slope=0.021</text>
<clipPath id="ch"><rect x="353.05" y="575.2" width="331.95" height="165.55999999999995"/></clipPath><line x1="353.05" y1="579.2" x2="353.05" y2="737.36" stroke="#666" stroke-width="1.7"/><line x1="352.25" y1="736.76" x2="685" y2="736.76" stroke="#3a3a3a" stroke-width="1.4"/><line x1="349.6" y1="719.0" x2="353.05" y2="719.0" stroke="#444" stroke-width="0.9"/><text x="346.3" y="722.6" font-size="10.2" text-anchor="end" textLength="14.6" lengthAdjust="spacingAndGlyphs" fill="#000" >1.5</text><line x1="349.6" y1="698.8" x2="353.05" y2="698.8" stroke="#444" stroke-width="0.9"/><text x="346.3" y="702.4" font-size="10.2" text-anchor="end" textLength="14.6" lengthAdjust="spacingAndGlyphs" fill="#000" >2.0</text><line x1="349.6" y1="678.6" x2="353.05" y2="678.6" stroke="#444" stroke-width="0.9"/><text x="346.3" y="682.2" font-size="10.2" text-anchor="end" textLength="14.6" lengthAdjust="spacingAndGlyphs" fill="#000" >2.5</text><line x1="349.6" y1="658.4" x2="353.05" y2="658.4" stroke="#444" stroke-width="0.9"/><text x="346.3" y="662.0" font-size="10.2" text-anchor="end" textLength="14.6" lengthAdjust="spacingAndGlyphs" fill="#000" >3.0</text><line x1="349.6" y1="638.2" x2="353.05" y2="638.2" stroke="#444" stroke-width="0.9"/><text x="346.3" y="641.8" font-size="10.2" text-anchor="end" textLength="14.6" lengthAdjust="spacingAndGlyphs" fill="#000" >3.5</text><line x1="349.6" y1="618.0" x2="353.05" y2="618.0" stroke="#444" stroke-width="0.9"/><text x="346.3" y="621.6" font-size="10.2" text-anchor="end" textLength="14.6" lengthAdjust="spacingAndGlyphs" fill="#000" >4.0</text><line x1="349.6" y1="597.8" x2="353.05" y2="597.8" stroke="#444" stroke-width="0.9"/><text x="346.3" y="601.4" font-size="10.2" text-anchor="end" textLength="14.6" lengthAdjust="spacingAndGlyphs" fill="#000" >4.5</text>
<line x1="367.8" y1="695.1" x2="669.4" y2="645.4" stroke="#ff0000" stroke-width="2.4" stroke-dasharray="6.5 3.55"/>
<g clip-path="url(#ch)"><path d="M367.9,669.0 L375.2,659.1 L382.6,627.0 L389.9,684.5 L397.3,701.8 L404.6,728.5 L412.0,712.8 L419.3,652.9 L426.7,657.5 L434.0,687.8 L441.4,701.1 L448.8,692.5 L456.1,706.0 L463.5,617.5 L470.8,710.4 L478.2,700.0 L485.5,670.6 L492.9,694.0 L500.2,712.6 L507.6,729.9 L515.0,664.6 L522.3,725.0 L529.7,668.6 L537.0,698.5 L544.4,679.4 L551.7,644.7 L559.1,601.1 L566.4,663.5 L573.8,683.0 L581.1,645.6 L588.5,621.5 L595.9,671.5 L603.2,619.7 L610.6,658.0 L617.9,689.4 L625.3,688.3 L632.6,680.6 L640.0,672.4 L647.3,591.6 L654.7,586.5 L662.1,648.7 L669.4,622.6" fill="none" stroke="#000" stroke-width="1.45" stroke-linejoin="round"/><circle cx="367.9" cy="669.0" r="3.05"/><circle cx="375.2" cy="659.1" r="3.05"/><circle cx="382.6" cy="627.0" r="3.05"/><circle cx="389.9" cy="684.5" r="3.05"/><circle cx="397.3" cy="701.8" r="3.05"/><circle cx="404.6" cy="728.5" r="3.05"/><circle cx="412.0" cy="712.8" r="3.05"/><circle cx="419.3" cy="652.9" r="3.05"/><circle cx="426.7" cy="657.5" r="3.05"/><circle cx="434.0" cy="687.8" r="3.05"/><circle cx="441.4" cy="701.1" r="3.05"/><circle cx="448.8" cy="692.5" r="3.05"/><circle cx="456.1" cy="706.0" r="3.05"/><circle cx="463.5" cy="617.5" r="3.05"/><circle cx="470.8" cy="710.4" r="3.05"/><circle cx="478.2" cy="700.0" r="3.05"/><circle cx="485.5" cy="670.6" r="3.05"/><circle cx="492.9" cy="694.0" r="3.05"/><circle cx="500.2" cy="712.6" r="3.05"/><circle cx="507.6" cy="729.9" r="3.05"/><circle cx="515.0" cy="664.6" r="3.05"/><circle cx="522.3" cy="725.0" r="3.05"/><circle cx="529.7" cy="668.6" r="3.05"/><circle cx="537.0" cy="698.5" r="3.05"/><circle cx="544.4" cy="679.4" r="3.05"/><circle cx="551.7" cy="644.7" r="3.05"/><circle cx="559.1" cy="601.1" r="3.05"/><circle cx="566.4" cy="663.5" r="3.05"/><circle cx="573.8" cy="683.0" r="3.05"/><circle cx="581.1" cy="645.6" r="3.05"/><circle cx="588.5" cy="621.5" r="3.05"/><circle cx="595.9" cy="671.5" r="3.05"/><circle cx="603.2" cy="619.7" r="3.05"/><circle cx="610.6" cy="658.0" r="3.05"/><circle cx="617.9" cy="689.4" r="3.05"/><circle cx="625.3" cy="688.3" r="3.05"/><circle cx="632.6" cy="680.6" r="3.05"/><circle cx="640.0" cy="672.4" r="3.05"/><circle cx="647.3" cy="591.6" r="3.05"/><circle cx="654.7" cy="586.5" r="3.05"/><circle cx="662.1" cy="648.7" r="3.05"/><circle cx="669.4" cy="622.6" r="3.05"/></g>
<rect x="367.5" y="705.3" width="312.5" height="26.90000000000009" rx="2" ry="2" fill="#fff" fill-opacity="0.8" stroke="#d4d4d4" stroke-width="0.9"/>
<line x1="370.8" y1="718.3" x2="390.2" y2="718.3" stroke="#000" stroke-width="1.45"/><circle cx="380.5" cy="718.3" r="3.05"/>
<text x="397.7" y="721.6" font-size="9.5" text-anchor="start" textLength="30.0" lengthAdjust="spacingAndGlyphs" fill="#000" >VIMFC</text>
<text x="428.0" y="723.2" font-size="6.8" text-anchor="start" textLength="43.0" lengthAdjust="spacingAndGlyphs" fill="#000" >[1000 − 300]</text>
<text x="469.9" y="721.6" font-size="9.5" text-anchor="start" textLength="26.3" lengthAdjust="spacingAndGlyphs" fill="#000" >(kg <tspan font-style="italic">m</tspan></text>
<text x="496.6" y="717.4" font-size="6.8" text-anchor="start" textLength="8.0" lengthAdjust="spacingAndGlyphs" fill="#000" >−2</text>
<text x="506.1" y="721.6" font-size="9.5" text-anchor="start" textLength="5.6" lengthAdjust="spacingAndGlyphs" fill="#000" ><tspan font-style="italic">s</tspan></text>
<text x="512.2" y="717.4" font-size="6.8" text-anchor="start" textLength="8.0" lengthAdjust="spacingAndGlyphs" fill="#000" >−1</text>
<text x="521.6" y="721.6" font-size="9.5" text-anchor="start" textLength="3.2" lengthAdjust="spacingAndGlyphs" fill="#000" >)</text>
<line x1="545.0" y1="718.3" x2="565.5" y2="718.3" stroke="#ff0000" stroke-width="2.4" stroke-dasharray="6.5 3.55"/>
<text x="571.0" y="716.3" font-size="9.5" text-anchor="start" textLength="82.6" lengthAdjust="spacingAndGlyphs" fill="#000" >Trend(1981-2022)</text>
<text x="573.7" y="727.0" font-size="9.5" text-anchor="start" textLength="102.2" lengthAdjust="spacingAndGlyphs" fill="#000" >p=0.017,slope=0.027</text>
<line x1="360.5" y1="736.76" x2="360.5" y2="740.36" stroke="#444" stroke-width="0.9"/>
<text x="360.5" y="750.7" font-size="10.2" text-anchor="middle" textLength="23.6" lengthAdjust="spacingAndGlyphs" fill="#000" >1980</text>
<line x1="434.0" y1="736.76" x2="434.0" y2="740.36" stroke="#444" stroke-width="0.9"/>
<text x="434.0" y="750.7" font-size="10.2" text-anchor="middle" textLength="23.6" lengthAdjust="spacingAndGlyphs" fill="#000" >1990</text>
<line x1="507.6" y1="736.76" x2="507.6" y2="740.36" stroke="#444" stroke-width="0.9"/>
<text x="507.6" y="750.7" font-size="10.2" text-anchor="middle" textLength="23.6" lengthAdjust="spacingAndGlyphs" fill="#000" >2000</text>
<line x1="581.1" y1="736.76" x2="581.1" y2="740.36" stroke="#444" stroke-width="0.9"/>
<text x="581.1" y="750.7" font-size="10.2" text-anchor="middle" textLength="23.6" lengthAdjust="spacingAndGlyphs" fill="#000" >2010</text>
<line x1="654.7" y1="736.76" x2="654.7" y2="740.36" stroke="#444" stroke-width="0.9"/>
<text x="654.7" y="750.7" font-size="10.2" text-anchor="middle" textLength="23.6" lengthAdjust="spacingAndGlyphs" fill="#000" >2020</text>
<text x="519.0" y="766.0" font-size="14.0" text-anchor="middle" textLength="29.0" lengthAdjust="spacingAndGlyphs" fill="#000" >year</text>
<text x="353.4" y="6.4" font-size="9.5" text-anchor="start" textLength="12.2" lengthAdjust="spacingAndGlyphs" fill="#000" >(b)</text>
<text x="353.4" y="195.7" font-size="9.5" text-anchor="start" textLength="12.2" lengthAdjust="spacingAndGlyphs" fill="#000" >(d)</text>
<text x="353.4" y="385.0" font-size="9.5" text-anchor="start" textLength="10.0" lengthAdjust="spacingAndGlyphs" fill="#000" >(f)</text>
<text x="353.4" y="574.2" font-size="9.5" text-anchor="start" textLength="12.2" lengthAdjust="spacingAndGlyphs" fill="#000" >(h)</text>
<text transform="translate(326.0,93.2) rotate(-90)" font-size="14.0" text-anchor="middle" textLength="25" lengthAdjust="spacingAndGlyphs">GPP</text>
<text transform="translate(327.6,321.0) rotate(-90)" font-size="14.0" font-style="italic" textLength="38" lengthAdjust="spacingAndGlyphs">Theta</text>
<text transform="translate(329.5,283.0) rotate(-90)" font-size="9.9" textLength="45.5" lengthAdjust="spacingAndGlyphs">[500 − 850]</text>
<text transform="translate(326.0,485.5) rotate(-90)" font-size="14.0" font-style="italic" textLength="14" lengthAdjust="spacingAndGlyphs">W</text>
<text transform="translate(327.6,471.5) rotate(-90)" font-size="9.9" textLength="15" lengthAdjust="spacingAndGlyphs">500</text>
<text transform="translate(324.2,712.8) rotate(-90)" font-size="14.0" textLength="45" lengthAdjust="spacingAndGlyphs">VIMFC</text>
<text transform="translate(323.0,662.0) rotate(-90)" font-size="9.9" textLength="52.5" lengthAdjust="spacingAndGlyphs">[1000 − 300]</text></svg></body></html>
